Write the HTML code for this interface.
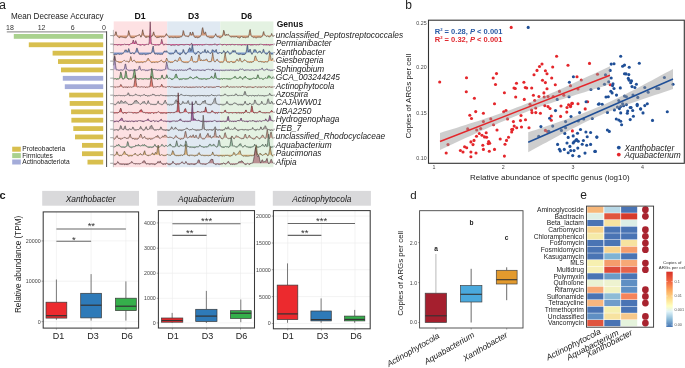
<!DOCTYPE html>
<html><head><meta charset="utf-8"><style>
html,body{margin:0;padding:0;background:#fff;overflow:hidden;width:685px;height:368px;}
svg{display:block;font-family:"Liberation Sans", sans-serif;will-change:transform;}
</style></head><body>
<svg width="685" height="368" viewBox="0 0 685 368">
<rect width="685" height="368" fill="#fff"/>
<text x="-0.90" y="8.90" font-size="12.5" text-anchor="start" font-weight="normal" font-style="normal" fill="#222" >a</text>
<text x="11.00" y="19.10" font-size="8.15" text-anchor="start" font-weight="normal" font-style="normal" fill="#222" >Mean Decrease Accuracy</text>
<line x1="6.80" y1="31.90" x2="106.60" y2="31.90" stroke="#999" stroke-width="1.2" />
<line x1="106.60" y1="31.30" x2="106.60" y2="167.00" stroke="#333" stroke-width="0.9" />
<text x="10.00" y="30.30" font-size="7" text-anchor="middle" font-weight="normal" font-style="normal" fill="#333" >18</text>
<text x="41.60" y="30.30" font-size="7" text-anchor="middle" font-weight="normal" font-style="normal" fill="#333" >12</text>
<text x="72.60" y="30.30" font-size="7" text-anchor="middle" font-weight="normal" font-style="normal" fill="#333" >6</text>
<text x="104.00" y="30.30" font-size="7" text-anchor="middle" font-weight="normal" font-style="normal" fill="#333" >0</text>
<rect x="13.80" y="34.00" width="89.40" height="4.80" fill="#a9d18e" stroke="none" stroke-width="0" />
<rect x="28.80" y="42.38" width="74.40" height="4.80" fill="#d8bf4e" stroke="none" stroke-width="0" />
<rect x="52.60" y="50.76" width="50.60" height="4.80" fill="#d8bf4e" stroke="none" stroke-width="0" />
<rect x="58.00" y="59.14" width="45.20" height="4.80" fill="#d8bf4e" stroke="none" stroke-width="0" />
<rect x="61.00" y="67.52" width="42.20" height="4.80" fill="#d8bf4e" stroke="none" stroke-width="0" />
<rect x="62.80" y="75.90" width="40.40" height="4.80" fill="#a4acd9" stroke="none" stroke-width="0" />
<rect x="64.80" y="84.28" width="38.40" height="4.80" fill="#a4acd9" stroke="none" stroke-width="0" />
<rect x="69.20" y="92.66" width="34.00" height="4.80" fill="#d8bf4e" stroke="none" stroke-width="0" />
<rect x="69.70" y="101.04" width="33.50" height="4.80" fill="#d8bf4e" stroke="none" stroke-width="0" />
<rect x="71.10" y="109.42" width="32.10" height="4.80" fill="#d8bf4e" stroke="none" stroke-width="0" />
<rect x="71.40" y="117.80" width="31.80" height="4.80" fill="#d8bf4e" stroke="none" stroke-width="0" />
<rect x="73.30" y="126.18" width="29.90" height="4.80" fill="#d8bf4e" stroke="none" stroke-width="0" />
<rect x="75.00" y="134.56" width="28.20" height="4.80" fill="#d8bf4e" stroke="none" stroke-width="0" />
<rect x="82.00" y="142.94" width="21.20" height="4.80" fill="#d8bf4e" stroke="none" stroke-width="0" />
<rect x="82.00" y="151.32" width="21.20" height="4.80" fill="#d8bf4e" stroke="none" stroke-width="0" />
<rect x="87.50" y="159.70" width="15.70" height="4.80" fill="#d8bf4e" stroke="none" stroke-width="0" />
<rect x="12.20" y="146.70" width="8.60" height="5.00" fill="#d8bf4e" stroke="none" stroke-width="0" />
<text x="22.30" y="151.40" font-size="6.6" text-anchor="start" font-weight="normal" font-style="normal" fill="#222" >Proteobacteria</text>
<rect x="12.20" y="153.10" width="8.60" height="5.00" fill="#a9d18e" stroke="none" stroke-width="0" />
<text x="22.30" y="157.80" font-size="6.6" text-anchor="start" font-weight="normal" font-style="normal" fill="#222" >Firmicutes</text>
<rect x="12.20" y="159.50" width="8.60" height="5.00" fill="#a4acd9" stroke="none" stroke-width="0" />
<text x="22.30" y="164.20" font-size="6.6" text-anchor="start" font-weight="normal" font-style="normal" fill="#222" >Actinobacteriota</text>
<rect x="113.70" y="21.40" width="53.50" height="145.80" fill="#fde1e3" stroke="none" stroke-width="0" />
<rect x="167.20" y="21.40" width="53.10" height="145.80" fill="#e0e9f2" stroke="none" stroke-width="0" />
<rect x="220.30" y="21.40" width="53.10" height="145.80" fill="#e4f2e2" stroke="none" stroke-width="0" />
<text x="140.15" y="19.00" font-size="8.7" text-anchor="middle" font-weight="bold" font-style="normal" fill="#111" >D1</text>
<text x="193.45" y="19.00" font-size="8.7" text-anchor="middle" font-weight="bold" font-style="normal" fill="#111" >D3</text>
<text x="246.55" y="19.00" font-size="8.7" text-anchor="middle" font-weight="bold" font-style="normal" fill="#111" >D6</text>
<text x="276.70" y="27.40" font-size="8.5" text-anchor="start" font-weight="bold" font-style="normal" fill="#111" >Genus</text>
<text x="275.80" y="37.80" font-size="8.3" text-anchor="start" font-weight="normal" font-style="italic" fill="#222" >unclassified_Peptostreptococcales</text>
<text x="275.80" y="46.25" font-size="8.3" text-anchor="start" font-weight="normal" font-style="italic" fill="#222" >Permianibacter</text>
<text x="275.80" y="54.70" font-size="8.3" text-anchor="start" font-weight="normal" font-style="italic" fill="#222" >Xanthobacter</text>
<text x="275.80" y="63.15" font-size="8.3" text-anchor="start" font-weight="normal" font-style="italic" fill="#222" >Giesbergeria</text>
<text x="275.80" y="71.60" font-size="8.3" text-anchor="start" font-weight="normal" font-style="italic" fill="#222" >Sphingobium</text>
<text x="275.80" y="80.05" font-size="8.3" text-anchor="start" font-weight="normal" font-style="italic" fill="#222" >GCA_003244245</text>
<text x="275.80" y="88.50" font-size="8.3" text-anchor="start" font-weight="normal" font-style="italic" fill="#222" >Actinophytocola</text>
<text x="275.80" y="96.95" font-size="8.3" text-anchor="start" font-weight="normal" font-style="italic" fill="#222" >Azospira</text>
<text x="275.80" y="105.40" font-size="8.3" text-anchor="start" font-weight="normal" font-style="italic" fill="#222" >CAJAWW01</text>
<text x="275.80" y="113.85" font-size="8.3" text-anchor="start" font-weight="normal" font-style="italic" fill="#222" >UBA2250</text>
<text x="275.80" y="122.30" font-size="8.3" text-anchor="start" font-weight="normal" font-style="italic" fill="#222" >Hydrogenophaga</text>
<text x="275.80" y="130.75" font-size="8.3" text-anchor="start" font-weight="normal" font-style="italic" fill="#222" >FEB_7</text>
<text x="275.80" y="139.20" font-size="8.3" text-anchor="start" font-weight="normal" font-style="italic" fill="#222" >unclassified_Rhodocyclaceae</text>
<text x="275.80" y="147.65" font-size="8.3" text-anchor="start" font-weight="normal" font-style="italic" fill="#222" >Aquabacterium</text>
<text x="275.80" y="156.10" font-size="8.3" text-anchor="start" font-weight="normal" font-style="italic" fill="#222" >Paucimonas</text>
<text x="275.80" y="164.55" font-size="8.3" text-anchor="start" font-weight="normal" font-style="italic" fill="#222" >Afipia</text>
<line x1="113.40" y1="29.90" x2="113.40" y2="167.20" stroke="#999" stroke-width="0.6" />
<line x1="110.20" y1="35.60" x2="113.50" y2="35.60" stroke="#666" stroke-width="0.6" />
<line x1="273.40" y1="35.60" x2="275.00" y2="35.60" stroke="#666" stroke-width="0.6" />
<polygon points="113.7,35.6 113.7,36.3 114.2,35.5 114.7,35.2 115.2,33.9 115.7,31.8 116.2,31.8 116.7,34.5 117.2,36.0 117.7,36.4 118.2,36.9 118.7,37.4 119.2,37.9 119.7,37.8 120.2,36.9 120.7,36.9 121.2,37.3 121.7,36.9 122.2,37.2 122.7,37.2 123.2,37.3 123.7,37.8 124.2,37.3 124.7,37.8 125.2,38.2 125.7,37.5 126.2,37.7 126.7,37.2 127.2,36.5 127.7,35.7 128.2,33.3 128.7,30.6 129.2,32.6 129.7,34.3 130.2,36.9 130.7,37.5 131.2,37.1 131.7,38.0 132.2,37.9 132.7,38.0 133.2,37.4 133.7,37.9 134.2,37.8 134.7,37.3 135.2,36.7 135.7,36.4 136.2,36.6 136.7,36.2 137.2,35.5 137.7,36.1 138.2,35.3 138.7,35.1 139.2,34.4 139.7,34.8 140.2,35.5 140.7,37.1 141.2,37.1 141.7,35.1 142.2,32.1 142.7,29.7 143.2,32.3 143.7,34.1 144.2,36.0 144.7,36.1 145.2,37.1 145.7,37.2 146.2,37.8 146.7,36.7 147.2,36.7 147.7,37.3 148.2,36.6 148.7,36.9 149.2,37.1 149.7,37.8 150.2,37.5 150.7,37.5 151.2,36.6 151.7,36.3 152.2,36.2 152.7,35.0 153.2,32.9 153.7,31.8 154.2,33.9 154.7,35.2 155.2,36.7 155.7,36.8 156.2,37.2 156.7,37.7 157.2,37.5 157.7,37.7 158.2,36.9 158.7,37.6 159.2,36.8 159.7,37.2 160.2,37.2 160.7,36.5 161.2,37.0 161.7,37.4 162.2,36.6 162.7,37.0 163.2,37.1 163.7,37.1 164.2,36.8 164.7,36.6 165.2,36.3 165.7,35.1 166.2,33.7 166.7,33.9 167.2,35.3 167.7,35.9 168.2,36.3 168.7,36.8 169.2,37.8 169.7,37.5 170.2,37.7 170.7,37.0 171.2,37.2 171.7,37.2 172.2,37.7 172.7,37.5 173.2,37.8 173.7,37.5 174.2,37.4 174.7,37.1 175.2,37.8 175.7,37.0 176.2,37.4 176.7,37.8 177.2,37.7 177.7,37.3 178.2,37.9 178.7,37.3 179.2,37.5 179.7,37.3 180.2,37.2 180.7,36.9 181.2,37.0 181.7,36.8 182.2,36.1 182.7,33.6 183.2,30.5 183.7,31.4 184.2,33.6 184.7,35.3 185.2,36.3 185.7,36.1 186.2,36.3 186.7,36.2 187.2,36.3 187.7,36.7 188.2,36.8 188.7,36.7 189.2,35.5 189.7,34.6 190.2,32.1 190.7,32.9 191.2,34.8 191.7,35.1 192.2,33.8 192.7,31.9 193.2,33.0 193.7,34.8 194.2,36.8 194.7,37.3 195.2,37.3 195.7,37.9 196.2,37.2 196.7,36.9 197.2,37.8 197.7,37.8 198.2,37.4 198.7,37.6 199.2,37.5 199.7,36.7 200.2,36.7 200.7,35.6 201.2,34.9 201.7,32.1 202.2,28.8 202.7,27.6 203.2,29.7 203.7,33.0 204.2,33.7 204.7,33.4 205.2,31.8 205.7,32.5 206.2,34.4 206.7,36.3 207.2,36.8 207.7,36.9 208.2,37.1 208.7,37.0 209.2,37.4 209.7,37.8 210.2,37.6 210.7,37.7 211.2,38.2 211.7,37.3 212.2,37.5 212.7,37.9 213.2,37.7 213.7,37.3 214.2,36.8 214.7,35.6 215.2,35.1 215.7,33.7 216.2,35.1 216.7,36.1 217.2,37.0 217.7,36.9 218.2,36.9 218.7,37.1 219.2,37.4 219.7,37.6 220.2,38.2 220.7,37.6 221.2,37.0 221.7,37.0 222.2,36.5 222.7,35.0 223.2,33.1 223.7,30.2 224.2,31.2 224.7,33.9 225.2,35.4 225.7,35.6 226.2,34.2 226.7,34.8 227.2,35.2 227.7,34.5 228.2,34.2 228.7,34.6 229.2,35.5 229.7,36.3 230.2,36.6 230.7,36.8 231.2,37.2 231.7,37.1 232.2,36.5 232.7,37.0 233.2,37.2 233.7,36.6 234.2,37.3 234.7,36.7 235.2,37.1 235.7,36.9 236.2,36.4 236.7,36.5 237.2,37.4 237.7,37.3 238.2,37.7 238.7,37.4 239.2,37.8 239.7,38.1 240.2,37.8 240.7,36.9 241.2,36.7 241.7,36.0 242.2,36.7 242.7,37.4 243.2,37.9 243.7,37.3 244.2,37.2 244.7,37.5 245.2,37.7 245.7,37.7 246.2,37.5 246.7,37.2 247.2,37.1 247.7,37.2 248.2,37.5 248.7,35.8 249.2,33.5 249.7,30.3 250.2,29.4 250.7,32.8 251.2,35.4 251.7,36.6 252.2,36.6 252.7,37.0 253.2,37.2 253.7,37.7 254.2,37.3 254.7,37.3 255.2,37.6 255.7,37.8 256.2,38.0 256.7,37.7 257.2,37.4 257.7,37.3 258.2,37.5 258.7,37.1 259.2,37.4 259.7,37.1 260.2,37.3 260.7,37.4 261.2,37.2 261.7,36.9 262.2,36.4 262.7,35.1 263.2,32.6 263.7,31.5 264.2,33.6 264.7,34.5 265.2,35.4 265.7,36.0 266.2,36.4 266.7,36.6 267.2,36.1 267.7,36.0 268.2,36.2 268.7,36.9 269.2,36.8 269.7,36.9 270.2,36.5 270.7,36.2 271.2,35.1 271.7,33.4 272.2,34.9 272.7,35.5 273.2,37.0 273.4,35.6" fill="#cf8a62" fill-opacity="0.82"/>
<polyline points="113.7,36.3 114.2,35.5 114.7,35.2 115.2,33.9 115.7,31.8 116.2,31.8 116.7,34.5 117.2,36.0 117.7,36.4 118.2,36.9 118.7,37.4 119.2,37.9 119.7,37.8 120.2,36.9 120.7,36.9 121.2,37.3 121.7,36.9 122.2,37.2 122.7,37.2 123.2,37.3 123.7,37.8 124.2,37.3 124.7,37.8 125.2,38.2 125.7,37.5 126.2,37.7 126.7,37.2 127.2,36.5 127.7,35.7 128.2,33.3 128.7,30.6 129.2,32.6 129.7,34.3 130.2,36.9 130.7,37.5 131.2,37.1 131.7,38.0 132.2,37.9 132.7,38.0 133.2,37.4 133.7,37.9 134.2,37.8 134.7,37.3 135.2,36.7 135.7,36.4 136.2,36.6 136.7,36.2 137.2,35.5 137.7,36.1 138.2,35.3 138.7,35.1 139.2,34.4 139.7,34.8 140.2,35.5 140.7,37.1 141.2,37.1 141.7,35.1 142.2,32.1 142.7,29.7 143.2,32.3 143.7,34.1 144.2,36.0 144.7,36.1 145.2,37.1 145.7,37.2 146.2,37.8 146.7,36.7 147.2,36.7 147.7,37.3 148.2,36.6 148.7,36.9 149.2,37.1 149.7,37.8 150.2,37.5 150.7,37.5 151.2,36.6 151.7,36.3 152.2,36.2 152.7,35.0 153.2,32.9 153.7,31.8 154.2,33.9 154.7,35.2 155.2,36.7 155.7,36.8 156.2,37.2 156.7,37.7 157.2,37.5 157.7,37.7 158.2,36.9 158.7,37.6 159.2,36.8 159.7,37.2 160.2,37.2 160.7,36.5 161.2,37.0 161.7,37.4 162.2,36.6 162.7,37.0 163.2,37.1 163.7,37.1 164.2,36.8 164.7,36.6 165.2,36.3 165.7,35.1 166.2,33.7 166.7,33.9 167.2,35.3 167.7,35.9 168.2,36.3 168.7,36.8 169.2,37.8 169.7,37.5 170.2,37.7 170.7,37.0 171.2,37.2 171.7,37.2 172.2,37.7 172.7,37.5 173.2,37.8 173.7,37.5 174.2,37.4 174.7,37.1 175.2,37.8 175.7,37.0 176.2,37.4 176.7,37.8 177.2,37.7 177.7,37.3 178.2,37.9 178.7,37.3 179.2,37.5 179.7,37.3 180.2,37.2 180.7,36.9 181.2,37.0 181.7,36.8 182.2,36.1 182.7,33.6 183.2,30.5 183.7,31.4 184.2,33.6 184.7,35.3 185.2,36.3 185.7,36.1 186.2,36.3 186.7,36.2 187.2,36.3 187.7,36.7 188.2,36.8 188.7,36.7 189.2,35.5 189.7,34.6 190.2,32.1 190.7,32.9 191.2,34.8 191.7,35.1 192.2,33.8 192.7,31.9 193.2,33.0 193.7,34.8 194.2,36.8 194.7,37.3 195.2,37.3 195.7,37.9 196.2,37.2 196.7,36.9 197.2,37.8 197.7,37.8 198.2,37.4 198.7,37.6 199.2,37.5 199.7,36.7 200.2,36.7 200.7,35.6 201.2,34.9 201.7,32.1 202.2,28.8 202.7,27.6 203.2,29.7 203.7,33.0 204.2,33.7 204.7,33.4 205.2,31.8 205.7,32.5 206.2,34.4 206.7,36.3 207.2,36.8 207.7,36.9 208.2,37.1 208.7,37.0 209.2,37.4 209.7,37.8 210.2,37.6 210.7,37.7 211.2,38.2 211.7,37.3 212.2,37.5 212.7,37.9 213.2,37.7 213.7,37.3 214.2,36.8 214.7,35.6 215.2,35.1 215.7,33.7 216.2,35.1 216.7,36.1 217.2,37.0 217.7,36.9 218.2,36.9 218.7,37.1 219.2,37.4 219.7,37.6 220.2,38.2 220.7,37.6 221.2,37.0 221.7,37.0 222.2,36.5 222.7,35.0 223.2,33.1 223.7,30.2 224.2,31.2 224.7,33.9 225.2,35.4 225.7,35.6 226.2,34.2 226.7,34.8 227.2,35.2 227.7,34.5 228.2,34.2 228.7,34.6 229.2,35.5 229.7,36.3 230.2,36.6 230.7,36.8 231.2,37.2 231.7,37.1 232.2,36.5 232.7,37.0 233.2,37.2 233.7,36.6 234.2,37.3 234.7,36.7 235.2,37.1 235.7,36.9 236.2,36.4 236.7,36.5 237.2,37.4 237.7,37.3 238.2,37.7 238.7,37.4 239.2,37.8 239.7,38.1 240.2,37.8 240.7,36.9 241.2,36.7 241.7,36.0 242.2,36.7 242.7,37.4 243.2,37.9 243.7,37.3 244.2,37.2 244.7,37.5 245.2,37.7 245.7,37.7 246.2,37.5 246.7,37.2 247.2,37.1 247.7,37.2 248.2,37.5 248.7,35.8 249.2,33.5 249.7,30.3 250.2,29.4 250.7,32.8 251.2,35.4 251.7,36.6 252.2,36.6 252.7,37.0 253.2,37.2 253.7,37.7 254.2,37.3 254.7,37.3 255.2,37.6 255.7,37.8 256.2,38.0 256.7,37.7 257.2,37.4 257.7,37.3 258.2,37.5 258.7,37.1 259.2,37.4 259.7,37.1 260.2,37.3 260.7,37.4 261.2,37.2 261.7,36.9 262.2,36.4 262.7,35.1 263.2,32.6 263.7,31.5 264.2,33.6 264.7,34.5 265.2,35.4 265.7,36.0 266.2,36.4 266.7,36.6 267.2,36.1 267.7,36.0 268.2,36.2 268.7,36.9 269.2,36.8 269.7,36.9 270.2,36.5 270.7,36.2 271.2,35.1 271.7,33.4 272.2,34.9 272.7,35.5 273.2,37.0" fill="none" stroke="#4a3328" stroke-width="0.6" stroke-opacity="0.95" stroke-linejoin="round"/>
<line x1="110.20" y1="44.11" x2="113.50" y2="44.11" stroke="#666" stroke-width="0.6" />
<line x1="273.40" y1="44.11" x2="275.00" y2="44.11" stroke="#666" stroke-width="0.6" />
<polygon points="113.7,44.1 113.7,45.2 114.2,44.4 114.7,44.8 115.2,44.8 115.7,44.6 116.2,44.9 116.7,44.6 117.2,45.1 117.7,45.3 118.2,44.5 118.7,44.9 119.2,44.5 119.7,44.9 120.2,45.0 120.7,45.3 121.2,45.2 121.7,44.8 122.2,45.1 122.7,44.5 123.2,45.0 123.7,44.6 124.2,44.3 124.7,44.1 125.2,44.2 125.7,45.1 126.2,44.5 126.7,44.5 127.2,44.4 127.7,44.5 128.2,45.1 128.7,44.9 129.2,44.9 129.7,44.9 130.2,44.2 130.7,43.5 131.2,43.3 131.7,43.6 132.2,43.2 132.7,42.0 133.2,40.0 133.7,41.0 134.2,43.1 134.7,43.8 135.2,41.9 135.7,40.6 136.2,41.7 136.7,43.2 137.2,44.5 137.7,44.4 138.2,44.4 138.7,44.4 139.2,44.9 139.7,45.1 140.2,45.4 140.7,45.0 141.2,45.3 141.7,44.8 142.2,44.5 142.7,44.5 143.2,44.7 143.7,45.0 144.2,45.5 144.7,44.8 145.2,44.6 145.7,44.9 146.2,44.5 146.7,44.4 147.2,43.9 147.7,44.5 148.2,44.6 148.7,44.6 149.2,41.8 149.7,32.7 150.2,21.8 150.7,32.6 151.2,41.7 151.7,44.4 152.2,44.3 152.7,44.3 153.2,44.4 153.7,44.6 154.2,45.1 154.7,45.1 155.2,45.1 155.7,45.2 156.2,44.8 156.7,45.3 157.2,44.8 157.7,45.1 158.2,44.6 158.7,45.4 159.2,44.5 159.7,44.8 160.2,44.6 160.7,43.5 161.2,41.7 161.7,39.2 162.2,40.9 162.7,43.1 163.2,44.5 163.7,45.2 164.2,45.1 164.7,44.3 165.2,44.6 165.7,43.8 166.2,44.4 166.7,44.3 167.2,44.9 167.7,44.3 168.2,45.1 168.7,44.4 169.2,44.5 169.7,44.6 170.2,44.7 170.7,45.4 171.2,45.3 171.7,45.4 172.2,44.8 172.7,45.2 173.2,45.2 173.7,45.1 174.2,44.7 174.7,45.5 175.2,45.2 175.7,45.0 176.2,44.5 176.7,44.8 177.2,45.2 177.7,45.1 178.2,45.1 178.7,45.4 179.2,44.9 179.7,45.2 180.2,44.4 180.7,44.8 181.2,44.9 181.7,44.3 182.2,45.0 182.7,44.7 183.2,45.0 183.7,45.1 184.2,44.6 184.7,45.3 185.2,44.6 185.7,44.5 186.2,44.7 186.7,44.3 187.2,44.3 187.7,45.0 188.2,44.4 188.7,44.9 189.2,45.3 189.7,45.0 190.2,45.2 190.7,44.6 191.2,43.5 191.7,43.2 192.2,44.6 192.7,45.1 193.2,45.2 193.7,45.0 194.2,44.8 194.7,45.2 195.2,45.0 195.7,45.0 196.2,45.1 196.7,44.5 197.2,45.2 197.7,45.2 198.2,44.6 198.7,44.8 199.2,45.2 199.7,44.9 200.2,44.9 200.7,44.6 201.2,44.8 201.7,45.1 202.2,45.3 202.7,45.0 203.2,45.2 203.7,44.6 204.2,44.7 204.7,44.8 205.2,44.8 205.7,44.1 206.2,44.1 206.7,44.5 207.2,44.5 207.7,44.5 208.2,44.6 208.7,44.8 209.2,45.2 209.7,44.6 210.2,45.2 210.7,44.5 211.2,44.7 211.7,45.1 212.2,44.6 212.7,44.8 213.2,44.5 213.7,44.5 214.2,44.9 214.7,43.8 215.2,43.8 215.7,44.6 216.2,44.5 216.7,45.3 217.2,44.8 217.7,45.2 218.2,44.9 218.7,44.4 219.2,44.6 219.7,44.0 220.2,43.8 220.7,44.5 221.2,44.6 221.7,44.8 222.2,45.2 222.7,45.1 223.2,44.3 223.7,44.9 224.2,44.7 224.7,44.2 225.2,44.4 225.7,44.8 226.2,45.2 226.7,45.2 227.2,44.6 227.7,44.7 228.2,45.1 228.7,44.5 229.2,44.4 229.7,44.7 230.2,44.9 230.7,45.0 231.2,45.0 231.7,44.3 232.2,44.4 232.7,44.4 233.2,44.8 233.7,44.6 234.2,45.1 234.7,44.9 235.2,44.8 235.7,44.7 236.2,44.1 236.7,44.6 237.2,44.8 237.7,44.9 238.2,45.1 238.7,44.7 239.2,44.6 239.7,44.8 240.2,45.2 240.7,44.7 241.2,45.3 241.7,45.3 242.2,45.1 242.7,44.8 243.2,44.6 243.7,45.2 244.2,44.7 244.7,44.9 245.2,45.1 245.7,45.0 246.2,44.6 246.7,45.1 247.2,44.6 247.7,44.8 248.2,44.8 248.7,45.0 249.2,44.4 249.7,45.0 250.2,44.9 250.7,45.2 251.2,44.9 251.7,45.0 252.2,45.4 252.7,44.5 253.2,45.1 253.7,44.8 254.2,44.6 254.7,44.6 255.2,44.6 255.7,45.2 256.2,44.6 256.7,45.2 257.2,44.8 257.7,44.6 258.2,45.0 258.7,44.8 259.2,45.0 259.7,44.2 260.2,44.6 260.7,43.9 261.2,44.1 261.7,44.5 262.2,44.5 262.7,44.6 263.2,44.9 263.7,45.1 264.2,44.8 264.7,44.9 265.2,45.2 265.7,44.7 266.2,45.3 266.7,44.4 267.2,44.7 267.7,45.2 268.2,44.8 268.7,44.9 269.2,44.8 269.7,45.5 270.2,45.4 270.7,44.6 271.2,45.0 271.7,44.6 272.2,44.5 272.7,44.7 273.2,45.2 273.4,44.1" fill="#e2589a" fill-opacity="0.82"/>
<polyline points="113.7,45.2 114.2,44.4 114.7,44.8 115.2,44.8 115.7,44.6 116.2,44.9 116.7,44.6 117.2,45.1 117.7,45.3 118.2,44.5 118.7,44.9 119.2,44.5 119.7,44.9 120.2,45.0 120.7,45.3 121.2,45.2 121.7,44.8 122.2,45.1 122.7,44.5 123.2,45.0 123.7,44.6 124.2,44.3 124.7,44.1 125.2,44.2 125.7,45.1 126.2,44.5 126.7,44.5 127.2,44.4 127.7,44.5 128.2,45.1 128.7,44.9 129.2,44.9 129.7,44.9 130.2,44.2 130.7,43.5 131.2,43.3 131.7,43.6 132.2,43.2 132.7,42.0 133.2,40.0 133.7,41.0 134.2,43.1 134.7,43.8 135.2,41.9 135.7,40.6 136.2,41.7 136.7,43.2 137.2,44.5 137.7,44.4 138.2,44.4 138.7,44.4 139.2,44.9 139.7,45.1 140.2,45.4 140.7,45.0 141.2,45.3 141.7,44.8 142.2,44.5 142.7,44.5 143.2,44.7 143.7,45.0 144.2,45.5 144.7,44.8 145.2,44.6 145.7,44.9 146.2,44.5 146.7,44.4 147.2,43.9 147.7,44.5 148.2,44.6 148.7,44.6 149.2,41.8 149.7,32.7 150.2,21.8 150.7,32.6 151.2,41.7 151.7,44.4 152.2,44.3 152.7,44.3 153.2,44.4 153.7,44.6 154.2,45.1 154.7,45.1 155.2,45.1 155.7,45.2 156.2,44.8 156.7,45.3 157.2,44.8 157.7,45.1 158.2,44.6 158.7,45.4 159.2,44.5 159.7,44.8 160.2,44.6 160.7,43.5 161.2,41.7 161.7,39.2 162.2,40.9 162.7,43.1 163.2,44.5 163.7,45.2 164.2,45.1 164.7,44.3 165.2,44.6 165.7,43.8 166.2,44.4 166.7,44.3 167.2,44.9 167.7,44.3 168.2,45.1 168.7,44.4 169.2,44.5 169.7,44.6 170.2,44.7 170.7,45.4 171.2,45.3 171.7,45.4 172.2,44.8 172.7,45.2 173.2,45.2 173.7,45.1 174.2,44.7 174.7,45.5 175.2,45.2 175.7,45.0 176.2,44.5 176.7,44.8 177.2,45.2 177.7,45.1 178.2,45.1 178.7,45.4 179.2,44.9 179.7,45.2 180.2,44.4 180.7,44.8 181.2,44.9 181.7,44.3 182.2,45.0 182.7,44.7 183.2,45.0 183.7,45.1 184.2,44.6 184.7,45.3 185.2,44.6 185.7,44.5 186.2,44.7 186.7,44.3 187.2,44.3 187.7,45.0 188.2,44.4 188.7,44.9 189.2,45.3 189.7,45.0 190.2,45.2 190.7,44.6 191.2,43.5 191.7,43.2 192.2,44.6 192.7,45.1 193.2,45.2 193.7,45.0 194.2,44.8 194.7,45.2 195.2,45.0 195.7,45.0 196.2,45.1 196.7,44.5 197.2,45.2 197.7,45.2 198.2,44.6 198.7,44.8 199.2,45.2 199.7,44.9 200.2,44.9 200.7,44.6 201.2,44.8 201.7,45.1 202.2,45.3 202.7,45.0 203.2,45.2 203.7,44.6 204.2,44.7 204.7,44.8 205.2,44.8 205.7,44.1 206.2,44.1 206.7,44.5 207.2,44.5 207.7,44.5 208.2,44.6 208.7,44.8 209.2,45.2 209.7,44.6 210.2,45.2 210.7,44.5 211.2,44.7 211.7,45.1 212.2,44.6 212.7,44.8 213.2,44.5 213.7,44.5 214.2,44.9 214.7,43.8 215.2,43.8 215.7,44.6 216.2,44.5 216.7,45.3 217.2,44.8 217.7,45.2 218.2,44.9 218.7,44.4 219.2,44.6 219.7,44.0 220.2,43.8 220.7,44.5 221.2,44.6 221.7,44.8 222.2,45.2 222.7,45.1 223.2,44.3 223.7,44.9 224.2,44.7 224.7,44.2 225.2,44.4 225.7,44.8 226.2,45.2 226.7,45.2 227.2,44.6 227.7,44.7 228.2,45.1 228.7,44.5 229.2,44.4 229.7,44.7 230.2,44.9 230.7,45.0 231.2,45.0 231.7,44.3 232.2,44.4 232.7,44.4 233.2,44.8 233.7,44.6 234.2,45.1 234.7,44.9 235.2,44.8 235.7,44.7 236.2,44.1 236.7,44.6 237.2,44.8 237.7,44.9 238.2,45.1 238.7,44.7 239.2,44.6 239.7,44.8 240.2,45.2 240.7,44.7 241.2,45.3 241.7,45.3 242.2,45.1 242.7,44.8 243.2,44.6 243.7,45.2 244.2,44.7 244.7,44.9 245.2,45.1 245.7,45.0 246.2,44.6 246.7,45.1 247.2,44.6 247.7,44.8 248.2,44.8 248.7,45.0 249.2,44.4 249.7,45.0 250.2,44.9 250.7,45.2 251.2,44.9 251.7,45.0 252.2,45.4 252.7,44.5 253.2,45.1 253.7,44.8 254.2,44.6 254.7,44.6 255.2,44.6 255.7,45.2 256.2,44.6 256.7,45.2 257.2,44.8 257.7,44.6 258.2,45.0 258.7,44.8 259.2,45.0 259.7,44.2 260.2,44.6 260.7,43.9 261.2,44.1 261.7,44.5 262.2,44.5 262.7,44.6 263.2,44.9 263.7,45.1 264.2,44.8 264.7,44.9 265.2,45.2 265.7,44.7 266.2,45.3 266.7,44.4 267.2,44.7 267.7,45.2 268.2,44.8 268.7,44.9 269.2,44.8 269.7,45.5 270.2,45.4 270.7,44.6 271.2,45.0 271.7,44.6 272.2,44.5 272.7,44.7 273.2,45.2" fill="none" stroke="#5a2a40" stroke-width="0.6" stroke-opacity="0.95" stroke-linejoin="round"/>
<line x1="110.20" y1="52.62" x2="113.50" y2="52.62" stroke="#666" stroke-width="0.6" />
<line x1="273.40" y1="52.62" x2="275.00" y2="52.62" stroke="#666" stroke-width="0.6" />
<polygon points="113.7,52.6 113.7,54.1 114.2,54.8 114.7,54.8 115.2,54.8 115.7,54.1 116.2,54.4 116.7,54.6 117.2,54.1 117.7,54.0 118.2,54.1 118.7,54.1 119.2,54.4 119.7,54.4 120.2,54.3 120.7,54.1 121.2,54.3 121.7,54.2 122.2,53.8 122.7,54.0 123.2,53.4 123.7,52.4 124.2,51.9 124.7,50.7 125.2,49.8 125.7,50.4 126.2,49.8 126.7,50.4 127.2,51.8 127.7,52.0 128.2,50.3 128.7,48.5 129.2,49.7 129.7,51.5 130.2,53.4 130.7,53.9 131.2,53.3 131.7,53.8 132.2,52.7 132.7,52.8 133.2,53.1 133.7,53.9 134.2,53.9 134.7,53.7 135.2,52.6 135.7,51.4 136.2,50.1 136.7,48.2 137.2,48.2 137.7,49.9 138.2,51.4 138.7,53.1 139.2,54.3 139.7,54.0 140.2,54.6 140.7,54.1 141.2,54.1 141.7,54.6 142.2,54.3 142.7,54.4 143.2,54.5 143.7,53.8 144.2,54.2 144.7,54.1 145.2,54.7 145.7,54.8 146.2,54.6 146.7,54.3 147.2,53.9 147.7,54.3 148.2,54.2 148.7,53.9 149.2,53.6 149.7,53.7 150.2,54.0 150.7,53.4 151.2,53.2 151.7,52.2 152.2,50.0 152.7,47.5 153.2,46.0 153.7,49.5 154.2,51.9 154.7,54.0 155.2,53.8 155.7,54.2 156.2,54.3 156.7,53.6 157.2,53.9 157.7,54.6 158.2,54.1 158.7,54.1 159.2,53.9 159.7,54.5 160.2,54.0 160.7,54.6 161.2,54.5 161.7,54.1 162.2,54.6 162.7,54.2 163.2,53.1 163.7,52.0 164.2,51.0 164.7,51.1 165.2,51.1 165.7,51.4 166.2,51.8 166.7,50.7 167.2,51.5 167.7,52.3 168.2,52.8 168.7,53.1 169.2,53.9 169.7,54.0 170.2,54.0 170.7,54.1 171.2,53.8 171.7,54.1 172.2,53.8 172.7,53.6 173.2,54.2 173.7,53.3 174.2,53.1 174.7,52.0 175.2,50.4 175.7,49.8 176.2,50.0 176.7,51.1 177.2,52.2 177.7,53.5 178.2,53.7 178.7,53.7 179.2,54.3 179.7,54.7 180.2,55.0 180.7,53.8 181.2,53.9 181.7,53.3 182.2,53.3 182.7,51.4 183.2,49.4 183.7,50.0 184.2,51.9 184.7,53.1 185.2,54.2 185.7,54.0 186.2,54.2 186.7,53.3 187.2,52.9 187.7,52.2 188.2,50.8 188.7,49.2 189.2,49.1 189.7,47.7 190.2,48.1 190.7,51.0 191.2,50.8 191.7,48.5 192.2,44.5 192.7,46.6 193.2,49.6 193.7,51.9 194.2,53.3 194.7,53.8 195.2,54.4 195.7,54.2 196.2,53.7 196.7,53.9 197.2,52.6 197.7,51.7 198.2,51.0 198.7,51.5 199.2,52.5 199.7,52.6 200.2,53.8 200.7,54.0 201.2,53.5 201.7,52.9 202.2,52.0 202.7,51.7 203.2,51.7 203.7,52.3 204.2,51.5 204.7,49.7 205.2,49.4 205.7,51.8 206.2,53.1 206.7,52.9 207.2,51.5 207.7,50.5 208.2,51.0 208.7,52.5 209.2,52.7 209.7,53.2 210.2,53.2 210.7,53.7 211.2,52.9 211.7,52.0 212.2,49.6 212.7,50.0 213.2,50.5 213.7,50.3 214.2,50.7 214.7,51.6 215.2,51.3 215.7,50.3 216.2,49.4 216.7,51.6 217.2,53.2 217.7,53.5 218.2,53.7 218.7,53.1 219.2,53.1 219.7,52.4 220.2,53.1 220.7,52.6 221.2,52.8 221.7,53.9 222.2,53.2 222.7,52.4 223.2,52.1 223.7,50.5 224.2,51.3 224.7,51.8 225.2,52.5 225.7,53.7 226.2,53.0 226.7,52.1 227.2,51.3 227.7,51.1 228.2,51.5 228.7,52.7 229.2,53.6 229.7,54.3 230.2,54.2 230.7,53.7 231.2,53.6 231.7,52.8 232.2,51.3 232.7,50.6 233.2,50.3 233.7,52.0 234.2,51.2 234.7,50.6 235.2,50.5 235.7,51.9 236.2,53.3 236.7,53.7 237.2,53.6 237.7,54.2 238.2,54.2 238.7,54.5 239.2,54.6 239.7,54.2 240.2,53.9 240.7,54.2 241.2,54.5 241.7,54.0 242.2,54.6 242.7,54.7 243.2,54.1 243.7,55.0 244.2,54.4 244.7,54.5 245.2,53.9 245.7,53.8 246.2,51.5 246.7,49.3 247.2,45.0 247.7,45.8 248.2,49.8 248.7,52.0 249.2,51.1 249.7,49.6 250.2,49.0 250.7,50.9 251.2,53.0 251.7,54.2 252.2,54.3 252.7,53.1 253.2,52.5 253.7,50.7 254.2,49.4 254.7,50.4 255.2,50.1 255.7,49.7 256.2,51.1 256.7,51.9 257.2,53.0 257.7,53.3 258.2,52.6 258.7,51.6 259.2,51.6 259.7,50.9 260.2,51.1 260.7,52.1 261.2,53.2 261.7,53.6 262.2,52.9 262.7,51.5 263.2,49.4 263.7,49.4 264.2,51.3 264.7,52.6 265.2,53.5 265.7,54.0 266.2,54.4 266.7,54.0 267.2,54.2 267.7,53.1 268.2,53.0 268.7,51.9 269.2,50.8 269.7,51.5 270.2,52.4 270.7,53.1 271.2,54.4 271.7,53.9 272.2,53.9 272.7,54.3 273.2,54.5 273.4,52.6" fill="#5f82c0" fill-opacity="0.82"/>
<polyline points="113.7,54.1 114.2,54.8 114.7,54.8 115.2,54.8 115.7,54.1 116.2,54.4 116.7,54.6 117.2,54.1 117.7,54.0 118.2,54.1 118.7,54.1 119.2,54.4 119.7,54.4 120.2,54.3 120.7,54.1 121.2,54.3 121.7,54.2 122.2,53.8 122.7,54.0 123.2,53.4 123.7,52.4 124.2,51.9 124.7,50.7 125.2,49.8 125.7,50.4 126.2,49.8 126.7,50.4 127.2,51.8 127.7,52.0 128.2,50.3 128.7,48.5 129.2,49.7 129.7,51.5 130.2,53.4 130.7,53.9 131.2,53.3 131.7,53.8 132.2,52.7 132.7,52.8 133.2,53.1 133.7,53.9 134.2,53.9 134.7,53.7 135.2,52.6 135.7,51.4 136.2,50.1 136.7,48.2 137.2,48.2 137.7,49.9 138.2,51.4 138.7,53.1 139.2,54.3 139.7,54.0 140.2,54.6 140.7,54.1 141.2,54.1 141.7,54.6 142.2,54.3 142.7,54.4 143.2,54.5 143.7,53.8 144.2,54.2 144.7,54.1 145.2,54.7 145.7,54.8 146.2,54.6 146.7,54.3 147.2,53.9 147.7,54.3 148.2,54.2 148.7,53.9 149.2,53.6 149.7,53.7 150.2,54.0 150.7,53.4 151.2,53.2 151.7,52.2 152.2,50.0 152.7,47.5 153.2,46.0 153.7,49.5 154.2,51.9 154.7,54.0 155.2,53.8 155.7,54.2 156.2,54.3 156.7,53.6 157.2,53.9 157.7,54.6 158.2,54.1 158.7,54.1 159.2,53.9 159.7,54.5 160.2,54.0 160.7,54.6 161.2,54.5 161.7,54.1 162.2,54.6 162.7,54.2 163.2,53.1 163.7,52.0 164.2,51.0 164.7,51.1 165.2,51.1 165.7,51.4 166.2,51.8 166.7,50.7 167.2,51.5 167.7,52.3 168.2,52.8 168.7,53.1 169.2,53.9 169.7,54.0 170.2,54.0 170.7,54.1 171.2,53.8 171.7,54.1 172.2,53.8 172.7,53.6 173.2,54.2 173.7,53.3 174.2,53.1 174.7,52.0 175.2,50.4 175.7,49.8 176.2,50.0 176.7,51.1 177.2,52.2 177.7,53.5 178.2,53.7 178.7,53.7 179.2,54.3 179.7,54.7 180.2,55.0 180.7,53.8 181.2,53.9 181.7,53.3 182.2,53.3 182.7,51.4 183.2,49.4 183.7,50.0 184.2,51.9 184.7,53.1 185.2,54.2 185.7,54.0 186.2,54.2 186.7,53.3 187.2,52.9 187.7,52.2 188.2,50.8 188.7,49.2 189.2,49.1 189.7,47.7 190.2,48.1 190.7,51.0 191.2,50.8 191.7,48.5 192.2,44.5 192.7,46.6 193.2,49.6 193.7,51.9 194.2,53.3 194.7,53.8 195.2,54.4 195.7,54.2 196.2,53.7 196.7,53.9 197.2,52.6 197.7,51.7 198.2,51.0 198.7,51.5 199.2,52.5 199.7,52.6 200.2,53.8 200.7,54.0 201.2,53.5 201.7,52.9 202.2,52.0 202.7,51.7 203.2,51.7 203.7,52.3 204.2,51.5 204.7,49.7 205.2,49.4 205.7,51.8 206.2,53.1 206.7,52.9 207.2,51.5 207.7,50.5 208.2,51.0 208.7,52.5 209.2,52.7 209.7,53.2 210.2,53.2 210.7,53.7 211.2,52.9 211.7,52.0 212.2,49.6 212.7,50.0 213.2,50.5 213.7,50.3 214.2,50.7 214.7,51.6 215.2,51.3 215.7,50.3 216.2,49.4 216.7,51.6 217.2,53.2 217.7,53.5 218.2,53.7 218.7,53.1 219.2,53.1 219.7,52.4 220.2,53.1 220.7,52.6 221.2,52.8 221.7,53.9 222.2,53.2 222.7,52.4 223.2,52.1 223.7,50.5 224.2,51.3 224.7,51.8 225.2,52.5 225.7,53.7 226.2,53.0 226.7,52.1 227.2,51.3 227.7,51.1 228.2,51.5 228.7,52.7 229.2,53.6 229.7,54.3 230.2,54.2 230.7,53.7 231.2,53.6 231.7,52.8 232.2,51.3 232.7,50.6 233.2,50.3 233.7,52.0 234.2,51.2 234.7,50.6 235.2,50.5 235.7,51.9 236.2,53.3 236.7,53.7 237.2,53.6 237.7,54.2 238.2,54.2 238.7,54.5 239.2,54.6 239.7,54.2 240.2,53.9 240.7,54.2 241.2,54.5 241.7,54.0 242.2,54.6 242.7,54.7 243.2,54.1 243.7,55.0 244.2,54.4 244.7,54.5 245.2,53.9 245.7,53.8 246.2,51.5 246.7,49.3 247.2,45.0 247.7,45.8 248.2,49.8 248.7,52.0 249.2,51.1 249.7,49.6 250.2,49.0 250.7,50.9 251.2,53.0 251.7,54.2 252.2,54.3 252.7,53.1 253.2,52.5 253.7,50.7 254.2,49.4 254.7,50.4 255.2,50.1 255.7,49.7 256.2,51.1 256.7,51.9 257.2,53.0 257.7,53.3 258.2,52.6 258.7,51.6 259.2,51.6 259.7,50.9 260.2,51.1 260.7,52.1 261.2,53.2 261.7,53.6 262.2,52.9 262.7,51.5 263.2,49.4 263.7,49.4 264.2,51.3 264.7,52.6 265.2,53.5 265.7,54.0 266.2,54.4 266.7,54.0 267.2,54.2 267.7,53.1 268.2,53.0 268.7,51.9 269.2,50.8 269.7,51.5 270.2,52.4 270.7,53.1 271.2,54.4 271.7,53.9 272.2,53.9 272.7,54.3 273.2,54.5" fill="none" stroke="#2a3550" stroke-width="0.6" stroke-opacity="0.95" stroke-linejoin="round"/>
<line x1="110.20" y1="61.13" x2="113.50" y2="61.13" stroke="#666" stroke-width="0.6" />
<line x1="273.40" y1="61.13" x2="275.00" y2="61.13" stroke="#666" stroke-width="0.6" />
<polygon points="113.7,61.1 113.7,60.2 114.2,57.9 114.7,55.6 115.2,58.1 115.7,60.2 116.2,61.3 116.7,61.3 117.2,61.7 117.7,61.2 118.2,62.2 118.7,62.3 119.2,62.7 119.7,62.5 120.2,62.6 120.7,62.4 121.2,62.7 121.7,62.1 122.2,61.8 122.7,61.5 123.2,61.0 123.7,60.7 124.2,60.2 124.7,60.4 125.2,61.0 125.7,61.5 126.2,61.5 126.7,61.1 127.2,60.9 127.7,61.5 128.2,62.3 128.7,62.1 129.2,62.1 129.7,60.5 130.2,59.0 130.7,56.5 131.2,57.9 131.7,60.5 132.2,61.5 132.7,61.5 133.2,60.7 133.7,60.5 134.2,59.9 134.7,60.7 135.2,61.7 135.7,61.9 136.2,62.6 136.7,62.7 137.2,62.4 137.7,62.3 138.2,62.6 138.7,62.4 139.2,62.6 139.7,62.4 140.2,62.4 140.7,62.3 141.2,62.0 141.7,62.4 142.2,62.7 142.7,62.5 143.2,62.5 143.7,61.9 144.2,61.7 144.7,61.9 145.2,62.1 145.7,62.0 146.2,61.3 146.7,60.9 147.2,59.7 147.7,58.8 148.2,58.1 148.7,59.1 149.2,59.8 149.7,60.4 150.2,61.3 150.7,61.9 151.2,62.5 151.7,62.6 152.2,62.6 152.7,62.5 153.2,62.0 153.7,62.3 154.2,62.8 154.7,62.4 155.2,62.5 155.7,62.0 156.2,62.2 156.7,62.1 157.2,62.5 157.7,62.3 158.2,62.3 158.7,61.7 159.2,61.4 159.7,61.5 160.2,61.4 160.7,60.4 161.2,60.0 161.7,60.4 162.2,61.4 162.7,61.7 163.2,62.1 163.7,62.1 164.2,62.5 164.7,61.8 165.2,62.0 165.7,60.5 166.2,59.2 166.7,58.0 167.2,59.2 167.7,60.3 168.2,61.4 168.7,62.3 169.2,62.0 169.7,61.7 170.2,62.7 170.7,62.5 171.2,62.3 171.7,62.5 172.2,62.4 172.7,62.5 173.2,62.0 173.7,61.5 174.2,61.2 174.7,60.2 175.2,60.0 175.7,60.1 176.2,61.0 176.7,60.9 177.2,61.8 177.7,61.3 178.2,59.8 178.7,59.1 179.2,57.8 179.7,57.3 180.2,57.4 180.7,58.9 181.2,60.1 181.7,60.8 182.2,62.2 182.7,61.7 183.2,62.3 183.7,62.3 184.2,62.5 184.7,62.5 185.2,62.4 185.7,62.6 186.2,62.3 186.7,62.8 187.2,62.4 187.7,62.7 188.2,62.6 188.7,61.8 189.2,61.5 189.7,61.1 190.2,60.5 190.7,59.4 191.2,57.3 191.7,56.0 192.2,58.1 192.7,60.8 193.2,61.9 193.7,62.4 194.2,62.0 194.7,61.9 195.2,62.2 195.7,62.3 196.2,62.2 196.7,61.9 197.2,62.1 197.7,60.3 198.2,57.7 198.7,54.9 199.2,54.5 199.7,57.7 200.2,59.4 200.7,60.8 201.2,59.8 201.7,59.7 202.2,60.2 202.7,60.7 203.2,60.8 203.7,59.8 204.2,60.1 204.7,60.2 205.2,60.2 205.7,59.5 206.2,58.9 206.7,59.1 207.2,59.7 207.7,61.2 208.2,61.4 208.7,62.0 209.2,61.9 209.7,61.9 210.2,61.2 210.7,62.1 211.2,61.5 211.7,59.0 212.2,56.4 212.7,52.5 213.2,56.2 213.7,58.9 214.2,61.2 214.7,62.0 215.2,62.0 215.7,61.2 216.2,60.5 216.7,59.5 217.2,59.1 217.7,60.0 218.2,61.2 218.7,61.3 219.2,62.1 219.7,62.3 220.2,62.0 220.7,62.7 221.2,62.5 221.7,62.2 222.2,62.6 222.7,62.2 223.2,62.3 223.7,61.3 224.2,58.9 224.7,55.3 225.2,52.6 225.7,56.6 226.2,59.1 226.7,61.5 227.2,62.2 227.7,62.2 228.2,61.8 228.7,62.5 229.2,62.7 229.7,62.3 230.2,61.9 230.7,61.7 231.2,61.5 231.7,61.4 232.2,62.4 232.7,62.5 233.2,62.4 233.7,62.8 234.2,62.0 234.7,62.4 235.2,62.3 235.7,61.4 236.2,60.2 236.7,59.5 237.2,59.2 237.7,60.4 238.2,60.9 238.7,61.4 239.2,60.0 239.7,58.2 240.2,58.1 240.7,59.8 241.2,61.7 241.7,61.9 242.2,62.1 242.7,61.8 243.2,60.9 243.7,60.8 244.2,59.8 244.7,59.7 245.2,59.9 245.7,60.4 246.2,61.1 246.7,61.2 247.2,62.2 247.7,62.1 248.2,62.0 248.7,62.3 249.2,62.0 249.7,62.6 250.2,62.5 250.7,61.7 251.2,62.5 251.7,62.4 252.2,61.7 252.7,62.1 253.2,62.0 253.7,61.2 254.2,60.3 254.7,57.3 255.2,55.9 255.7,56.1 256.2,58.1 256.7,58.9 257.2,60.2 257.7,60.9 258.2,61.4 258.7,61.6 259.2,61.4 259.7,62.1 260.2,61.4 260.7,61.3 261.2,61.4 261.7,62.3 262.2,61.6 262.7,62.2 263.2,62.3 263.7,62.1 264.2,62.6 264.7,61.9 265.2,61.7 265.7,61.6 266.2,62.3 266.7,61.8 267.2,62.2 267.7,62.0 268.2,61.1 268.7,59.7 269.2,55.9 269.7,52.6 270.2,54.6 270.7,57.3 271.2,60.1 271.7,60.3 272.2,59.7 272.7,58.4 273.2,59.1 273.4,61.1" fill="#f2b07a" fill-opacity="0.82"/>
<polyline points="113.7,60.2 114.2,57.9 114.7,55.6 115.2,58.1 115.7,60.2 116.2,61.3 116.7,61.3 117.2,61.7 117.7,61.2 118.2,62.2 118.7,62.3 119.2,62.7 119.7,62.5 120.2,62.6 120.7,62.4 121.2,62.7 121.7,62.1 122.2,61.8 122.7,61.5 123.2,61.0 123.7,60.7 124.2,60.2 124.7,60.4 125.2,61.0 125.7,61.5 126.2,61.5 126.7,61.1 127.2,60.9 127.7,61.5 128.2,62.3 128.7,62.1 129.2,62.1 129.7,60.5 130.2,59.0 130.7,56.5 131.2,57.9 131.7,60.5 132.2,61.5 132.7,61.5 133.2,60.7 133.7,60.5 134.2,59.9 134.7,60.7 135.2,61.7 135.7,61.9 136.2,62.6 136.7,62.7 137.2,62.4 137.7,62.3 138.2,62.6 138.7,62.4 139.2,62.6 139.7,62.4 140.2,62.4 140.7,62.3 141.2,62.0 141.7,62.4 142.2,62.7 142.7,62.5 143.2,62.5 143.7,61.9 144.2,61.7 144.7,61.9 145.2,62.1 145.7,62.0 146.2,61.3 146.7,60.9 147.2,59.7 147.7,58.8 148.2,58.1 148.7,59.1 149.2,59.8 149.7,60.4 150.2,61.3 150.7,61.9 151.2,62.5 151.7,62.6 152.2,62.6 152.7,62.5 153.2,62.0 153.7,62.3 154.2,62.8 154.7,62.4 155.2,62.5 155.7,62.0 156.2,62.2 156.7,62.1 157.2,62.5 157.7,62.3 158.2,62.3 158.7,61.7 159.2,61.4 159.7,61.5 160.2,61.4 160.7,60.4 161.2,60.0 161.7,60.4 162.2,61.4 162.7,61.7 163.2,62.1 163.7,62.1 164.2,62.5 164.7,61.8 165.2,62.0 165.7,60.5 166.2,59.2 166.7,58.0 167.2,59.2 167.7,60.3 168.2,61.4 168.7,62.3 169.2,62.0 169.7,61.7 170.2,62.7 170.7,62.5 171.2,62.3 171.7,62.5 172.2,62.4 172.7,62.5 173.2,62.0 173.7,61.5 174.2,61.2 174.7,60.2 175.2,60.0 175.7,60.1 176.2,61.0 176.7,60.9 177.2,61.8 177.7,61.3 178.2,59.8 178.7,59.1 179.2,57.8 179.7,57.3 180.2,57.4 180.7,58.9 181.2,60.1 181.7,60.8 182.2,62.2 182.7,61.7 183.2,62.3 183.7,62.3 184.2,62.5 184.7,62.5 185.2,62.4 185.7,62.6 186.2,62.3 186.7,62.8 187.2,62.4 187.7,62.7 188.2,62.6 188.7,61.8 189.2,61.5 189.7,61.1 190.2,60.5 190.7,59.4 191.2,57.3 191.7,56.0 192.2,58.1 192.7,60.8 193.2,61.9 193.7,62.4 194.2,62.0 194.7,61.9 195.2,62.2 195.7,62.3 196.2,62.2 196.7,61.9 197.2,62.1 197.7,60.3 198.2,57.7 198.7,54.9 199.2,54.5 199.7,57.7 200.2,59.4 200.7,60.8 201.2,59.8 201.7,59.7 202.2,60.2 202.7,60.7 203.2,60.8 203.7,59.8 204.2,60.1 204.7,60.2 205.2,60.2 205.7,59.5 206.2,58.9 206.7,59.1 207.2,59.7 207.7,61.2 208.2,61.4 208.7,62.0 209.2,61.9 209.7,61.9 210.2,61.2 210.7,62.1 211.2,61.5 211.7,59.0 212.2,56.4 212.7,52.5 213.2,56.2 213.7,58.9 214.2,61.2 214.7,62.0 215.2,62.0 215.7,61.2 216.2,60.5 216.7,59.5 217.2,59.1 217.7,60.0 218.2,61.2 218.7,61.3 219.2,62.1 219.7,62.3 220.2,62.0 220.7,62.7 221.2,62.5 221.7,62.2 222.2,62.6 222.7,62.2 223.2,62.3 223.7,61.3 224.2,58.9 224.7,55.3 225.2,52.6 225.7,56.6 226.2,59.1 226.7,61.5 227.2,62.2 227.7,62.2 228.2,61.8 228.7,62.5 229.2,62.7 229.7,62.3 230.2,61.9 230.7,61.7 231.2,61.5 231.7,61.4 232.2,62.4 232.7,62.5 233.2,62.4 233.7,62.8 234.2,62.0 234.7,62.4 235.2,62.3 235.7,61.4 236.2,60.2 236.7,59.5 237.2,59.2 237.7,60.4 238.2,60.9 238.7,61.4 239.2,60.0 239.7,58.2 240.2,58.1 240.7,59.8 241.2,61.7 241.7,61.9 242.2,62.1 242.7,61.8 243.2,60.9 243.7,60.8 244.2,59.8 244.7,59.7 245.2,59.9 245.7,60.4 246.2,61.1 246.7,61.2 247.2,62.2 247.7,62.1 248.2,62.0 248.7,62.3 249.2,62.0 249.7,62.6 250.2,62.5 250.7,61.7 251.2,62.5 251.7,62.4 252.2,61.7 252.7,62.1 253.2,62.0 253.7,61.2 254.2,60.3 254.7,57.3 255.2,55.9 255.7,56.1 256.2,58.1 256.7,58.9 257.2,60.2 257.7,60.9 258.2,61.4 258.7,61.6 259.2,61.4 259.7,62.1 260.2,61.4 260.7,61.3 261.2,61.4 261.7,62.3 262.2,61.6 262.7,62.2 263.2,62.3 263.7,62.1 264.2,62.6 264.7,61.9 265.2,61.7 265.7,61.6 266.2,62.3 266.7,61.8 267.2,62.2 267.7,62.0 268.2,61.1 268.7,59.7 269.2,55.9 269.7,52.6 270.2,54.6 270.7,57.3 271.2,60.1 271.7,60.3 272.2,59.7 272.7,58.4 273.2,59.1" fill="none" stroke="#584030" stroke-width="0.6" stroke-opacity="0.95" stroke-linejoin="round"/>
<line x1="110.20" y1="69.64" x2="113.50" y2="69.64" stroke="#666" stroke-width="0.6" />
<line x1="273.40" y1="69.64" x2="275.00" y2="69.64" stroke="#666" stroke-width="0.6" />
<polygon points="113.7,69.6 113.7,65.3 114.2,61.1 114.7,56.5 115.2,61.6 115.7,65.8 116.2,69.1 116.7,70.2 117.2,69.8 117.7,70.0 118.2,69.8 118.7,70.6 119.2,69.9 119.7,70.5 120.2,69.9 120.7,70.1 121.2,70.3 121.7,69.9 122.2,69.8 122.7,70.5 123.2,69.9 123.7,69.5 124.2,69.0 124.7,67.0 125.2,64.0 125.7,64.1 126.2,67.1 126.7,69.3 127.2,69.8 127.7,70.0 128.2,70.4 128.7,70.4 129.2,70.6 129.7,70.8 130.2,70.4 130.7,70.8 131.2,70.1 131.7,70.4 132.2,70.6 132.7,70.8 133.2,70.3 133.7,70.3 134.2,70.7 134.7,70.3 135.2,70.0 135.7,70.3 136.2,70.2 136.7,70.5 137.2,70.5 137.7,69.7 138.2,69.5 138.7,68.4 139.2,66.4 139.7,65.9 140.2,67.6 140.7,69.8 141.2,70.4 141.7,70.2 142.2,69.7 142.7,69.9 143.2,69.8 143.7,70.0 144.2,70.0 144.7,70.0 145.2,70.4 145.7,70.7 146.2,70.4 146.7,70.6 147.2,70.6 147.7,70.8 148.2,70.1 148.7,70.2 149.2,70.4 149.7,69.6 150.2,69.8 150.7,69.6 151.2,69.6 151.7,69.8 152.2,70.1 152.7,69.6 153.2,70.1 153.7,69.4 154.2,69.3 154.7,70.0 155.2,69.5 155.7,70.3 156.2,70.2 156.7,69.9 157.2,70.1 157.7,70.6 158.2,69.8 158.7,70.1 159.2,70.1 159.7,70.5 160.2,70.1 160.7,70.7 161.2,70.3 161.7,70.9 162.2,70.1 162.7,70.2 163.2,69.9 163.7,69.9 164.2,69.8 164.7,69.9 165.2,69.6 165.7,67.6 166.2,64.3 166.7,61.7 167.2,64.2 167.7,66.6 168.2,68.9 168.7,69.3 169.2,69.7 169.7,69.2 170.2,69.5 170.7,69.9 171.2,69.8 171.7,70.1 172.2,70.6 172.7,70.1 173.2,70.3 173.7,70.6 174.2,69.9 174.7,70.2 175.2,70.5 175.7,70.5 176.2,70.6 176.7,70.6 177.2,70.3 177.7,70.0 178.2,70.2 178.7,70.6 179.2,69.9 179.7,70.0 180.2,69.9 180.7,70.6 181.2,69.9 181.7,69.9 182.2,70.3 182.7,70.4 183.2,70.2 183.7,70.6 184.2,70.6 184.7,70.3 185.2,69.9 185.7,70.3 186.2,70.3 186.7,70.6 187.2,70.0 187.7,69.1 188.2,68.8 188.7,69.1 189.2,69.1 189.7,68.1 190.2,67.9 190.7,68.8 191.2,69.6 191.7,70.1 192.2,70.4 192.7,70.6 193.2,69.9 193.7,70.3 194.2,70.6 194.7,70.1 195.2,69.9 195.7,70.4 196.2,70.6 196.7,69.9 197.2,69.8 197.7,70.0 198.2,70.2 198.7,70.1 199.2,70.1 199.7,70.3 200.2,70.8 200.7,70.4 201.2,70.1 201.7,70.7 202.2,70.1 202.7,70.0 203.2,70.1 203.7,70.0 204.2,70.9 204.7,70.5 205.2,70.7 205.7,70.0 206.2,69.4 206.7,69.5 207.2,69.5 207.7,69.3 208.2,69.1 208.7,69.4 209.2,69.4 209.7,69.8 210.2,69.5 210.7,70.1 211.2,70.0 211.7,70.4 212.2,70.2 212.7,69.0 213.2,69.1 213.7,70.1 214.2,70.5 214.7,70.7 215.2,70.0 215.7,70.4 216.2,70.4 216.7,70.3 217.2,70.3 217.7,70.6 218.2,70.0 218.7,70.5 219.2,70.9 219.7,70.5 220.2,70.4 220.7,70.1 221.2,70.7 221.7,70.4 222.2,70.6 222.7,70.6 223.2,70.4 223.7,70.6 224.2,70.6 224.7,70.6 225.2,70.2 225.7,70.4 226.2,70.5 226.7,70.0 227.2,70.4 227.7,70.3 228.2,70.2 228.7,70.3 229.2,70.8 229.7,70.0 230.2,69.9 230.7,70.2 231.2,69.8 231.7,70.5 232.2,70.6 232.7,70.1 233.2,70.1 233.7,70.4 234.2,70.7 234.7,70.6 235.2,70.8 235.7,70.2 236.2,70.2 236.7,70.5 237.2,70.6 237.7,70.3 238.2,70.3 238.7,70.7 239.2,70.0 239.7,69.2 240.2,68.7 240.7,69.3 241.2,69.4 241.7,69.3 242.2,68.8 242.7,68.9 243.2,69.7 243.7,70.1 244.2,70.7 244.7,70.5 245.2,70.2 245.7,70.2 246.2,70.5 246.7,69.7 247.2,69.8 247.7,70.1 248.2,69.8 248.7,70.2 249.2,70.0 249.7,70.5 250.2,70.6 250.7,70.1 251.2,70.4 251.7,69.7 252.2,69.8 252.7,69.9 253.2,70.5 253.7,70.1 254.2,70.3 254.7,70.6 255.2,70.2 255.7,70.0 256.2,70.0 256.7,70.0 257.2,70.1 257.7,70.2 258.2,69.9 258.7,70.4 259.2,69.7 259.7,69.2 260.2,69.6 260.7,69.4 261.2,69.3 261.7,68.5 262.2,67.9 262.7,69.4 263.2,69.8 263.7,70.1 264.2,70.5 264.7,70.0 265.2,70.0 265.7,69.9 266.2,69.1 266.7,68.9 267.2,68.8 267.7,69.9 268.2,69.9 268.7,70.3 269.2,70.3 269.7,70.1 270.2,70.3 270.7,70.9 271.2,70.5 271.7,70.4 272.2,70.2 272.7,70.7 273.2,70.2 273.4,69.6" fill="#b09ad0" fill-opacity="0.82"/>
<polyline points="113.7,65.3 114.2,61.1 114.7,56.5 115.2,61.6 115.7,65.8 116.2,69.1 116.7,70.2 117.2,69.8 117.7,70.0 118.2,69.8 118.7,70.6 119.2,69.9 119.7,70.5 120.2,69.9 120.7,70.1 121.2,70.3 121.7,69.9 122.2,69.8 122.7,70.5 123.2,69.9 123.7,69.5 124.2,69.0 124.7,67.0 125.2,64.0 125.7,64.1 126.2,67.1 126.7,69.3 127.2,69.8 127.7,70.0 128.2,70.4 128.7,70.4 129.2,70.6 129.7,70.8 130.2,70.4 130.7,70.8 131.2,70.1 131.7,70.4 132.2,70.6 132.7,70.8 133.2,70.3 133.7,70.3 134.2,70.7 134.7,70.3 135.2,70.0 135.7,70.3 136.2,70.2 136.7,70.5 137.2,70.5 137.7,69.7 138.2,69.5 138.7,68.4 139.2,66.4 139.7,65.9 140.2,67.6 140.7,69.8 141.2,70.4 141.7,70.2 142.2,69.7 142.7,69.9 143.2,69.8 143.7,70.0 144.2,70.0 144.7,70.0 145.2,70.4 145.7,70.7 146.2,70.4 146.7,70.6 147.2,70.6 147.7,70.8 148.2,70.1 148.7,70.2 149.2,70.4 149.7,69.6 150.2,69.8 150.7,69.6 151.2,69.6 151.7,69.8 152.2,70.1 152.7,69.6 153.2,70.1 153.7,69.4 154.2,69.3 154.7,70.0 155.2,69.5 155.7,70.3 156.2,70.2 156.7,69.9 157.2,70.1 157.7,70.6 158.2,69.8 158.7,70.1 159.2,70.1 159.7,70.5 160.2,70.1 160.7,70.7 161.2,70.3 161.7,70.9 162.2,70.1 162.7,70.2 163.2,69.9 163.7,69.9 164.2,69.8 164.7,69.9 165.2,69.6 165.7,67.6 166.2,64.3 166.7,61.7 167.2,64.2 167.7,66.6 168.2,68.9 168.7,69.3 169.2,69.7 169.7,69.2 170.2,69.5 170.7,69.9 171.2,69.8 171.7,70.1 172.2,70.6 172.7,70.1 173.2,70.3 173.7,70.6 174.2,69.9 174.7,70.2 175.2,70.5 175.7,70.5 176.2,70.6 176.7,70.6 177.2,70.3 177.7,70.0 178.2,70.2 178.7,70.6 179.2,69.9 179.7,70.0 180.2,69.9 180.7,70.6 181.2,69.9 181.7,69.9 182.2,70.3 182.7,70.4 183.2,70.2 183.7,70.6 184.2,70.6 184.7,70.3 185.2,69.9 185.7,70.3 186.2,70.3 186.7,70.6 187.2,70.0 187.7,69.1 188.2,68.8 188.7,69.1 189.2,69.1 189.7,68.1 190.2,67.9 190.7,68.8 191.2,69.6 191.7,70.1 192.2,70.4 192.7,70.6 193.2,69.9 193.7,70.3 194.2,70.6 194.7,70.1 195.2,69.9 195.7,70.4 196.2,70.6 196.7,69.9 197.2,69.8 197.7,70.0 198.2,70.2 198.7,70.1 199.2,70.1 199.7,70.3 200.2,70.8 200.7,70.4 201.2,70.1 201.7,70.7 202.2,70.1 202.7,70.0 203.2,70.1 203.7,70.0 204.2,70.9 204.7,70.5 205.2,70.7 205.7,70.0 206.2,69.4 206.7,69.5 207.2,69.5 207.7,69.3 208.2,69.1 208.7,69.4 209.2,69.4 209.7,69.8 210.2,69.5 210.7,70.1 211.2,70.0 211.7,70.4 212.2,70.2 212.7,69.0 213.2,69.1 213.7,70.1 214.2,70.5 214.7,70.7 215.2,70.0 215.7,70.4 216.2,70.4 216.7,70.3 217.2,70.3 217.7,70.6 218.2,70.0 218.7,70.5 219.2,70.9 219.7,70.5 220.2,70.4 220.7,70.1 221.2,70.7 221.7,70.4 222.2,70.6 222.7,70.6 223.2,70.4 223.7,70.6 224.2,70.6 224.7,70.6 225.2,70.2 225.7,70.4 226.2,70.5 226.7,70.0 227.2,70.4 227.7,70.3 228.2,70.2 228.7,70.3 229.2,70.8 229.7,70.0 230.2,69.9 230.7,70.2 231.2,69.8 231.7,70.5 232.2,70.6 232.7,70.1 233.2,70.1 233.7,70.4 234.2,70.7 234.7,70.6 235.2,70.8 235.7,70.2 236.2,70.2 236.7,70.5 237.2,70.6 237.7,70.3 238.2,70.3 238.7,70.7 239.2,70.0 239.7,69.2 240.2,68.7 240.7,69.3 241.2,69.4 241.7,69.3 242.2,68.8 242.7,68.9 243.2,69.7 243.7,70.1 244.2,70.7 244.7,70.5 245.2,70.2 245.7,70.2 246.2,70.5 246.7,69.7 247.2,69.8 247.7,70.1 248.2,69.8 248.7,70.2 249.2,70.0 249.7,70.5 250.2,70.6 250.7,70.1 251.2,70.4 251.7,69.7 252.2,69.8 252.7,69.9 253.2,70.5 253.7,70.1 254.2,70.3 254.7,70.6 255.2,70.2 255.7,70.0 256.2,70.0 256.7,70.0 257.2,70.1 257.7,70.2 258.2,69.9 258.7,70.4 259.2,69.7 259.7,69.2 260.2,69.6 260.7,69.4 261.2,69.3 261.7,68.5 262.2,67.9 262.7,69.4 263.2,69.8 263.7,70.1 264.2,70.5 264.7,70.0 265.2,70.0 265.7,69.9 266.2,69.1 266.7,68.9 267.2,68.8 267.7,69.9 268.2,69.9 268.7,70.3 269.2,70.3 269.7,70.1 270.2,70.3 270.7,70.9 271.2,70.5 271.7,70.4 272.2,70.2 272.7,70.7 273.2,70.2" fill="none" stroke="#403550" stroke-width="0.6" stroke-opacity="0.95" stroke-linejoin="round"/>
<line x1="110.20" y1="78.15" x2="113.50" y2="78.15" stroke="#666" stroke-width="0.6" />
<line x1="273.40" y1="78.15" x2="275.00" y2="78.15" stroke="#666" stroke-width="0.6" />
<polygon points="113.7,78.2 113.7,79.1 114.2,79.3 114.7,78.6 115.2,78.6 115.7,78.9 116.2,79.1 116.7,79.6 117.2,78.8 117.7,79.0 118.2,79.4 118.7,78.9 119.2,78.8 119.7,77.3 120.2,74.8 120.7,71.9 121.2,73.0 121.7,75.1 122.2,77.5 122.7,79.2 123.2,79.3 123.7,78.9 124.2,78.8 124.7,77.0 125.2,73.9 125.7,70.7 126.2,71.3 126.7,74.8 127.2,77.3 127.7,78.9 128.2,78.4 128.7,79.5 129.2,78.8 129.7,79.3 130.2,79.1 130.7,78.7 131.2,79.4 131.7,78.9 132.2,78.3 132.7,78.0 133.2,75.7 133.7,72.6 134.2,69.6 134.7,69.1 135.2,72.7 135.7,76.5 136.2,78.7 136.7,79.0 137.2,78.7 137.7,78.8 138.2,78.9 138.7,79.7 139.2,78.9 139.7,78.8 140.2,79.1 140.7,78.6 141.2,78.7 141.7,79.3 142.2,78.8 142.7,79.4 143.2,79.5 143.7,79.1 144.2,79.0 144.7,78.7 145.2,78.8 145.7,79.0 146.2,79.0 146.7,78.9 147.2,78.8 147.7,79.4 148.2,79.2 148.7,79.1 149.2,79.0 149.7,79.1 150.2,78.7 150.7,76.3 151.2,72.9 151.7,68.4 152.2,69.6 152.7,73.0 153.2,76.8 153.7,78.8 154.2,78.9 154.7,78.8 155.2,79.1 155.7,78.3 156.2,78.5 156.7,78.5 157.2,79.4 157.7,79.5 158.2,78.8 158.7,78.9 159.2,78.8 159.7,78.7 160.2,79.2 160.7,78.6 161.2,77.5 161.7,75.6 162.2,74.9 162.7,77.0 163.2,77.9 163.7,78.9 164.2,79.0 164.7,78.6 165.2,78.6 165.7,78.0 166.2,76.3 166.7,74.7 167.2,75.7 167.7,77.5 168.2,78.2 168.7,78.7 169.2,78.2 169.7,77.8 170.2,78.1 170.7,78.7 171.2,79.4 171.7,79.5 172.2,79.6 172.7,79.3 173.2,79.2 173.7,78.6 174.2,77.8 174.7,77.3 175.2,75.4 175.7,74.3 176.2,73.9 176.7,75.1 177.2,76.8 177.7,78.0 178.2,78.4 178.7,78.8 179.2,79.6 179.7,79.6 180.2,79.2 180.7,79.5 181.2,78.9 181.7,79.6 182.2,79.2 182.7,79.1 183.2,78.8 183.7,78.6 184.2,79.0 184.7,79.1 185.2,79.1 185.7,79.2 186.2,79.4 186.7,78.7 187.2,79.3 187.7,78.6 188.2,79.0 188.7,78.4 189.2,77.4 189.7,77.2 190.2,77.0 190.7,76.8 191.2,77.4 191.7,77.6 192.2,78.3 192.7,78.7 193.2,78.8 193.7,78.8 194.2,77.9 194.7,77.6 195.2,77.5 195.7,77.0 196.2,76.9 196.7,76.4 197.2,77.5 197.7,77.2 198.2,77.9 198.7,78.8 199.2,79.3 199.7,78.6 200.2,78.7 200.7,79.3 201.2,79.4 201.7,79.1 202.2,78.9 202.7,79.4 203.2,78.8 203.7,78.9 204.2,78.6 204.7,78.9 205.2,79.2 205.7,79.3 206.2,79.5 206.7,79.3 207.2,78.9 207.7,79.0 208.2,78.8 208.7,78.7 209.2,78.5 209.7,78.7 210.2,77.9 210.7,77.3 211.2,76.5 211.7,76.1 212.2,77.2 212.7,77.7 213.2,78.5 213.7,78.5 214.2,77.1 214.7,74.5 215.2,72.6 215.7,75.0 216.2,77.0 216.7,78.4 217.2,79.0 217.7,79.0 218.2,78.9 218.7,79.2 219.2,79.2 219.7,79.3 220.2,79.5 220.7,78.9 221.2,79.0 221.7,78.6 222.2,79.2 222.7,79.4 223.2,79.0 223.7,78.5 224.2,79.0 224.7,78.7 225.2,78.6 225.7,79.1 226.2,78.8 226.7,78.9 227.2,79.1 227.7,79.1 228.2,79.4 228.7,79.1 229.2,79.0 229.7,79.2 230.2,79.5 230.7,79.0 231.2,78.8 231.7,78.7 232.2,78.5 232.7,78.1 233.2,77.9 233.7,77.4 234.2,77.5 234.7,76.4 235.2,76.3 235.7,76.9 236.2,77.7 236.7,78.6 237.2,78.3 237.7,78.9 238.2,78.4 238.7,78.2 239.2,77.3 239.7,77.1 240.2,76.4 240.7,77.2 241.2,77.8 241.7,77.9 242.2,78.5 242.7,79.5 243.2,78.3 243.7,77.6 244.2,77.6 244.7,76.9 245.2,76.0 245.7,76.9 246.2,77.4 246.7,78.0 247.2,78.4 247.7,78.6 248.2,79.3 248.7,78.9 249.2,79.4 249.7,79.5 250.2,78.8 250.7,79.5 251.2,79.4 251.7,78.9 252.2,78.9 252.7,78.3 253.2,78.5 253.7,77.7 254.2,78.2 254.7,78.2 255.2,79.0 255.7,78.5 256.2,79.1 256.7,77.7 257.2,76.4 257.7,74.8 258.2,74.9 258.7,76.9 259.2,77.7 259.7,78.8 260.2,78.4 260.7,78.6 261.2,78.2 261.7,78.5 262.2,78.8 262.7,79.4 263.2,79.5 263.7,78.9 264.2,78.6 264.7,78.3 265.2,77.8 265.7,77.6 266.2,78.4 266.7,77.9 267.2,78.4 267.7,77.1 268.2,75.6 268.7,76.0 269.2,75.9 269.7,76.1 270.2,76.5 270.7,77.4 271.2,78.0 271.7,78.6 272.2,77.9 272.7,77.8 273.2,76.4 273.4,78.2" fill="#74b572" fill-opacity="0.82"/>
<polyline points="113.7,79.1 114.2,79.3 114.7,78.6 115.2,78.6 115.7,78.9 116.2,79.1 116.7,79.6 117.2,78.8 117.7,79.0 118.2,79.4 118.7,78.9 119.2,78.8 119.7,77.3 120.2,74.8 120.7,71.9 121.2,73.0 121.7,75.1 122.2,77.5 122.7,79.2 123.2,79.3 123.7,78.9 124.2,78.8 124.7,77.0 125.2,73.9 125.7,70.7 126.2,71.3 126.7,74.8 127.2,77.3 127.7,78.9 128.2,78.4 128.7,79.5 129.2,78.8 129.7,79.3 130.2,79.1 130.7,78.7 131.2,79.4 131.7,78.9 132.2,78.3 132.7,78.0 133.2,75.7 133.7,72.6 134.2,69.6 134.7,69.1 135.2,72.7 135.7,76.5 136.2,78.7 136.7,79.0 137.2,78.7 137.7,78.8 138.2,78.9 138.7,79.7 139.2,78.9 139.7,78.8 140.2,79.1 140.7,78.6 141.2,78.7 141.7,79.3 142.2,78.8 142.7,79.4 143.2,79.5 143.7,79.1 144.2,79.0 144.7,78.7 145.2,78.8 145.7,79.0 146.2,79.0 146.7,78.9 147.2,78.8 147.7,79.4 148.2,79.2 148.7,79.1 149.2,79.0 149.7,79.1 150.2,78.7 150.7,76.3 151.2,72.9 151.7,68.4 152.2,69.6 152.7,73.0 153.2,76.8 153.7,78.8 154.2,78.9 154.7,78.8 155.2,79.1 155.7,78.3 156.2,78.5 156.7,78.5 157.2,79.4 157.7,79.5 158.2,78.8 158.7,78.9 159.2,78.8 159.7,78.7 160.2,79.2 160.7,78.6 161.2,77.5 161.7,75.6 162.2,74.9 162.7,77.0 163.2,77.9 163.7,78.9 164.2,79.0 164.7,78.6 165.2,78.6 165.7,78.0 166.2,76.3 166.7,74.7 167.2,75.7 167.7,77.5 168.2,78.2 168.7,78.7 169.2,78.2 169.7,77.8 170.2,78.1 170.7,78.7 171.2,79.4 171.7,79.5 172.2,79.6 172.7,79.3 173.2,79.2 173.7,78.6 174.2,77.8 174.7,77.3 175.2,75.4 175.7,74.3 176.2,73.9 176.7,75.1 177.2,76.8 177.7,78.0 178.2,78.4 178.7,78.8 179.2,79.6 179.7,79.6 180.2,79.2 180.7,79.5 181.2,78.9 181.7,79.6 182.2,79.2 182.7,79.1 183.2,78.8 183.7,78.6 184.2,79.0 184.7,79.1 185.2,79.1 185.7,79.2 186.2,79.4 186.7,78.7 187.2,79.3 187.7,78.6 188.2,79.0 188.7,78.4 189.2,77.4 189.7,77.2 190.2,77.0 190.7,76.8 191.2,77.4 191.7,77.6 192.2,78.3 192.7,78.7 193.2,78.8 193.7,78.8 194.2,77.9 194.7,77.6 195.2,77.5 195.7,77.0 196.2,76.9 196.7,76.4 197.2,77.5 197.7,77.2 198.2,77.9 198.7,78.8 199.2,79.3 199.7,78.6 200.2,78.7 200.7,79.3 201.2,79.4 201.7,79.1 202.2,78.9 202.7,79.4 203.2,78.8 203.7,78.9 204.2,78.6 204.7,78.9 205.2,79.2 205.7,79.3 206.2,79.5 206.7,79.3 207.2,78.9 207.7,79.0 208.2,78.8 208.7,78.7 209.2,78.5 209.7,78.7 210.2,77.9 210.7,77.3 211.2,76.5 211.7,76.1 212.2,77.2 212.7,77.7 213.2,78.5 213.7,78.5 214.2,77.1 214.7,74.5 215.2,72.6 215.7,75.0 216.2,77.0 216.7,78.4 217.2,79.0 217.7,79.0 218.2,78.9 218.7,79.2 219.2,79.2 219.7,79.3 220.2,79.5 220.7,78.9 221.2,79.0 221.7,78.6 222.2,79.2 222.7,79.4 223.2,79.0 223.7,78.5 224.2,79.0 224.7,78.7 225.2,78.6 225.7,79.1 226.2,78.8 226.7,78.9 227.2,79.1 227.7,79.1 228.2,79.4 228.7,79.1 229.2,79.0 229.7,79.2 230.2,79.5 230.7,79.0 231.2,78.8 231.7,78.7 232.2,78.5 232.7,78.1 233.2,77.9 233.7,77.4 234.2,77.5 234.7,76.4 235.2,76.3 235.7,76.9 236.2,77.7 236.7,78.6 237.2,78.3 237.7,78.9 238.2,78.4 238.7,78.2 239.2,77.3 239.7,77.1 240.2,76.4 240.7,77.2 241.2,77.8 241.7,77.9 242.2,78.5 242.7,79.5 243.2,78.3 243.7,77.6 244.2,77.6 244.7,76.9 245.2,76.0 245.7,76.9 246.2,77.4 246.7,78.0 247.2,78.4 247.7,78.6 248.2,79.3 248.7,78.9 249.2,79.4 249.7,79.5 250.2,78.8 250.7,79.5 251.2,79.4 251.7,78.9 252.2,78.9 252.7,78.3 253.2,78.5 253.7,77.7 254.2,78.2 254.7,78.2 255.2,79.0 255.7,78.5 256.2,79.1 256.7,77.7 257.2,76.4 257.7,74.8 258.2,74.9 258.7,76.9 259.2,77.7 259.7,78.8 260.2,78.4 260.7,78.6 261.2,78.2 261.7,78.5 262.2,78.8 262.7,79.4 263.2,79.5 263.7,78.9 264.2,78.6 264.7,78.3 265.2,77.8 265.7,77.6 266.2,78.4 266.7,77.9 267.2,78.4 267.7,77.1 268.2,75.6 268.7,76.0 269.2,75.9 269.7,76.1 270.2,76.5 270.7,77.4 271.2,78.0 271.7,78.6 272.2,77.9 272.7,77.8 273.2,76.4" fill="none" stroke="#2d402d" stroke-width="0.6" stroke-opacity="0.95" stroke-linejoin="round"/>
<line x1="110.20" y1="86.66" x2="113.50" y2="86.66" stroke="#666" stroke-width="0.6" />
<line x1="273.40" y1="86.66" x2="275.00" y2="86.66" stroke="#666" stroke-width="0.6" />
<polygon points="113.7,86.7 113.7,87.2 114.2,87.0 114.7,87.1 115.2,87.4 115.7,87.1 116.2,86.7 116.7,87.2 117.2,86.7 117.7,87.1 118.2,87.0 118.7,86.9 119.2,87.1 119.7,86.3 120.2,85.7 120.7,84.5 121.2,84.7 121.7,85.6 122.2,86.5 122.7,87.3 123.2,87.5 123.7,87.2 124.2,87.4 124.7,86.7 125.2,87.0 125.7,87.3 126.2,87.5 126.7,86.7 127.2,87.5 127.7,87.5 128.2,86.7 128.7,86.9 129.2,87.4 129.7,86.9 130.2,86.7 130.7,87.1 131.2,87.2 131.7,87.3 132.2,86.8 132.7,87.0 133.2,86.7 133.7,86.8 134.2,84.0 134.7,80.3 135.2,75.3 135.7,78.0 136.2,82.5 136.7,85.4 137.2,87.2 137.7,87.1 138.2,86.6 138.7,86.7 139.2,87.3 139.7,86.8 140.2,86.9 140.7,87.2 141.2,86.7 141.7,86.9 142.2,87.2 142.7,86.8 143.2,87.1 143.7,87.1 144.2,86.8 144.7,86.8 145.2,87.5 145.7,87.4 146.2,87.2 146.7,87.1 147.2,87.5 147.7,87.1 148.2,86.8 148.7,87.1 149.2,87.0 149.7,86.9 150.2,84.1 150.7,80.7 151.2,76.1 151.7,77.6 152.2,81.8 152.7,85.1 153.2,87.3 153.7,87.5 154.2,87.1 154.7,87.0 155.2,87.3 155.7,86.9 156.2,87.0 156.7,87.1 157.2,86.2 157.7,86.7 158.2,86.7 158.7,86.8 159.2,87.1 159.7,86.8 160.2,86.9 160.7,86.1 161.2,85.4 161.7,84.2 162.2,85.1 162.7,86.3 163.2,87.3 163.7,86.6 164.2,86.7 164.7,87.2 165.2,87.4 165.7,87.1 166.2,87.0 166.7,87.3 167.2,86.8 167.7,86.6 168.2,87.0 168.7,86.8 169.2,86.1 169.7,86.7 170.2,86.9 170.7,87.3 171.2,87.0 171.7,86.8 172.2,86.9 172.7,86.9 173.2,87.0 173.7,87.3 174.2,87.0 174.7,87.6 175.2,86.9 175.7,87.5 176.2,86.8 176.7,87.5 177.2,86.9 177.7,87.3 178.2,87.0 178.7,87.4 179.2,87.3 179.7,87.3 180.2,86.9 180.7,86.7 181.2,86.9 181.7,87.4 182.2,87.1 182.7,86.8 183.2,86.7 183.7,87.2 184.2,87.5 184.7,87.3 185.2,87.4 185.7,86.8 186.2,87.0 186.7,86.9 187.2,86.8 187.7,87.5 188.2,87.5 188.7,87.0 189.2,87.5 189.7,86.8 190.2,87.4 190.7,87.2 191.2,87.1 191.7,87.6 192.2,87.3 192.7,87.2 193.2,87.2 193.7,87.2 194.2,87.3 194.7,87.3 195.2,87.0 195.7,87.2 196.2,87.0 196.7,86.8 197.2,86.7 197.7,87.5 198.2,87.0 198.7,87.1 199.2,86.8 199.7,87.1 200.2,87.4 200.7,87.2 201.2,87.2 201.7,87.1 202.2,86.6 202.7,86.6 203.2,86.7 203.7,87.3 204.2,87.6 204.7,87.6 205.2,87.4 205.7,87.3 206.2,86.8 206.7,86.7 207.2,87.3 207.7,86.8 208.2,87.2 208.7,87.4 209.2,86.7 209.7,87.4 210.2,86.9 210.7,87.1 211.2,86.9 211.7,87.3 212.2,87.2 212.7,87.5 213.2,87.3 213.7,87.4 214.2,87.4 214.7,87.1 215.2,87.2 215.7,87.2 216.2,86.7 216.7,86.5 217.2,86.6 217.7,86.5 218.2,86.0 218.7,86.7 219.2,86.6 219.7,86.9 220.2,87.5 220.7,87.5 221.2,87.2 221.7,87.2 222.2,86.8 222.7,86.8 223.2,87.2 223.7,86.8 224.2,87.3 224.7,86.8 225.2,86.9 225.7,87.4 226.2,86.6 226.7,86.7 227.2,85.6 227.7,86.5 228.2,86.8 228.7,86.9 229.2,87.0 229.7,87.5 230.2,86.9 230.7,86.9 231.2,87.1 231.7,87.1 232.2,87.1 232.7,87.2 233.2,87.2 233.7,86.9 234.2,87.1 234.7,87.1 235.2,87.3 235.7,86.8 236.2,86.7 236.7,86.9 237.2,87.3 237.7,87.0 238.2,87.0 238.7,87.2 239.2,86.8 239.7,86.9 240.2,87.5 240.7,87.1 241.2,87.2 241.7,86.5 242.2,86.1 242.7,86.9 243.2,86.4 243.7,87.2 244.2,86.8 244.7,87.2 245.2,87.1 245.7,86.9 246.2,87.1 246.7,87.7 247.2,87.3 247.7,87.3 248.2,86.6 248.7,87.4 249.2,87.0 249.7,87.1 250.2,87.1 250.7,86.9 251.2,86.9 251.7,87.4 252.2,87.5 252.7,87.4 253.2,87.6 253.7,87.3 254.2,87.0 254.7,87.2 255.2,86.7 255.7,86.7 256.2,86.7 256.7,87.2 257.2,87.6 257.7,87.2 258.2,87.1 258.7,87.1 259.2,86.7 259.7,87.3 260.2,87.5 260.7,86.7 261.2,87.5 261.7,87.2 262.2,87.1 262.7,86.8 263.2,87.1 263.7,86.9 264.2,86.8 264.7,86.5 265.2,86.9 265.7,87.6 266.2,87.6 266.7,87.0 267.2,87.2 267.7,86.7 268.2,87.2 268.7,87.1 269.2,86.5 269.7,86.7 270.2,87.4 270.7,86.8 271.2,87.3 271.7,87.2 272.2,87.3 272.7,87.0 273.2,87.4 273.4,86.7" fill="#e56f62" fill-opacity="0.82"/>
<polyline points="113.7,87.2 114.2,87.0 114.7,87.1 115.2,87.4 115.7,87.1 116.2,86.7 116.7,87.2 117.2,86.7 117.7,87.1 118.2,87.0 118.7,86.9 119.2,87.1 119.7,86.3 120.2,85.7 120.7,84.5 121.2,84.7 121.7,85.6 122.2,86.5 122.7,87.3 123.2,87.5 123.7,87.2 124.2,87.4 124.7,86.7 125.2,87.0 125.7,87.3 126.2,87.5 126.7,86.7 127.2,87.5 127.7,87.5 128.2,86.7 128.7,86.9 129.2,87.4 129.7,86.9 130.2,86.7 130.7,87.1 131.2,87.2 131.7,87.3 132.2,86.8 132.7,87.0 133.2,86.7 133.7,86.8 134.2,84.0 134.7,80.3 135.2,75.3 135.7,78.0 136.2,82.5 136.7,85.4 137.2,87.2 137.7,87.1 138.2,86.6 138.7,86.7 139.2,87.3 139.7,86.8 140.2,86.9 140.7,87.2 141.2,86.7 141.7,86.9 142.2,87.2 142.7,86.8 143.2,87.1 143.7,87.1 144.2,86.8 144.7,86.8 145.2,87.5 145.7,87.4 146.2,87.2 146.7,87.1 147.2,87.5 147.7,87.1 148.2,86.8 148.7,87.1 149.2,87.0 149.7,86.9 150.2,84.1 150.7,80.7 151.2,76.1 151.7,77.6 152.2,81.8 152.7,85.1 153.2,87.3 153.7,87.5 154.2,87.1 154.7,87.0 155.2,87.3 155.7,86.9 156.2,87.0 156.7,87.1 157.2,86.2 157.7,86.7 158.2,86.7 158.7,86.8 159.2,87.1 159.7,86.8 160.2,86.9 160.7,86.1 161.2,85.4 161.7,84.2 162.2,85.1 162.7,86.3 163.2,87.3 163.7,86.6 164.2,86.7 164.7,87.2 165.2,87.4 165.7,87.1 166.2,87.0 166.7,87.3 167.2,86.8 167.7,86.6 168.2,87.0 168.7,86.8 169.2,86.1 169.7,86.7 170.2,86.9 170.7,87.3 171.2,87.0 171.7,86.8 172.2,86.9 172.7,86.9 173.2,87.0 173.7,87.3 174.2,87.0 174.7,87.6 175.2,86.9 175.7,87.5 176.2,86.8 176.7,87.5 177.2,86.9 177.7,87.3 178.2,87.0 178.7,87.4 179.2,87.3 179.7,87.3 180.2,86.9 180.7,86.7 181.2,86.9 181.7,87.4 182.2,87.1 182.7,86.8 183.2,86.7 183.7,87.2 184.2,87.5 184.7,87.3 185.2,87.4 185.7,86.8 186.2,87.0 186.7,86.9 187.2,86.8 187.7,87.5 188.2,87.5 188.7,87.0 189.2,87.5 189.7,86.8 190.2,87.4 190.7,87.2 191.2,87.1 191.7,87.6 192.2,87.3 192.7,87.2 193.2,87.2 193.7,87.2 194.2,87.3 194.7,87.3 195.2,87.0 195.7,87.2 196.2,87.0 196.7,86.8 197.2,86.7 197.7,87.5 198.2,87.0 198.7,87.1 199.2,86.8 199.7,87.1 200.2,87.4 200.7,87.2 201.2,87.2 201.7,87.1 202.2,86.6 202.7,86.6 203.2,86.7 203.7,87.3 204.2,87.6 204.7,87.6 205.2,87.4 205.7,87.3 206.2,86.8 206.7,86.7 207.2,87.3 207.7,86.8 208.2,87.2 208.7,87.4 209.2,86.7 209.7,87.4 210.2,86.9 210.7,87.1 211.2,86.9 211.7,87.3 212.2,87.2 212.7,87.5 213.2,87.3 213.7,87.4 214.2,87.4 214.7,87.1 215.2,87.2 215.7,87.2 216.2,86.7 216.7,86.5 217.2,86.6 217.7,86.5 218.2,86.0 218.7,86.7 219.2,86.6 219.7,86.9 220.2,87.5 220.7,87.5 221.2,87.2 221.7,87.2 222.2,86.8 222.7,86.8 223.2,87.2 223.7,86.8 224.2,87.3 224.7,86.8 225.2,86.9 225.7,87.4 226.2,86.6 226.7,86.7 227.2,85.6 227.7,86.5 228.2,86.8 228.7,86.9 229.2,87.0 229.7,87.5 230.2,86.9 230.7,86.9 231.2,87.1 231.7,87.1 232.2,87.1 232.7,87.2 233.2,87.2 233.7,86.9 234.2,87.1 234.7,87.1 235.2,87.3 235.7,86.8 236.2,86.7 236.7,86.9 237.2,87.3 237.7,87.0 238.2,87.0 238.7,87.2 239.2,86.8 239.7,86.9 240.2,87.5 240.7,87.1 241.2,87.2 241.7,86.5 242.2,86.1 242.7,86.9 243.2,86.4 243.7,87.2 244.2,86.8 244.7,87.2 245.2,87.1 245.7,86.9 246.2,87.1 246.7,87.7 247.2,87.3 247.7,87.3 248.2,86.6 248.7,87.4 249.2,87.0 249.7,87.1 250.2,87.1 250.7,86.9 251.2,86.9 251.7,87.4 252.2,87.5 252.7,87.4 253.2,87.6 253.7,87.3 254.2,87.0 254.7,87.2 255.2,86.7 255.7,86.7 256.2,86.7 256.7,87.2 257.2,87.6 257.7,87.2 258.2,87.1 258.7,87.1 259.2,86.7 259.7,87.3 260.2,87.5 260.7,86.7 261.2,87.5 261.7,87.2 262.2,87.1 262.7,86.8 263.2,87.1 263.7,86.9 264.2,86.8 264.7,86.5 265.2,86.9 265.7,87.6 266.2,87.6 266.7,87.0 267.2,87.2 267.7,86.7 268.2,87.2 268.7,87.1 269.2,86.5 269.7,86.7 270.2,87.4 270.7,86.8 271.2,87.3 271.7,87.2 272.2,87.3 272.7,87.0 273.2,87.4" fill="none" stroke="#4a2825" stroke-width="0.6" stroke-opacity="0.95" stroke-linejoin="round"/>
<line x1="110.20" y1="95.17" x2="113.50" y2="95.17" stroke="#666" stroke-width="0.6" />
<line x1="273.40" y1="95.17" x2="275.00" y2="95.17" stroke="#666" stroke-width="0.6" />
<polygon points="113.7,95.2 113.7,96.2 114.2,95.9 114.7,95.6 115.2,96.0 115.7,95.8 116.2,95.6 116.7,95.4 117.2,96.1 117.7,95.6 118.2,95.3 118.7,95.4 119.2,95.3 119.7,95.3 120.2,95.9 120.7,95.7 121.2,95.6 121.7,95.6 122.2,95.6 122.7,95.8 123.2,95.9 123.7,95.4 124.2,95.7 124.7,96.0 125.2,95.7 125.7,95.3 126.2,95.2 126.7,95.2 127.2,94.7 127.7,93.9 128.2,92.7 128.7,93.3 129.2,94.4 129.7,95.9 130.2,96.0 130.7,95.3 131.2,95.6 131.7,95.4 132.2,95.6 132.7,95.8 133.2,95.5 133.7,95.6 134.2,95.1 134.7,95.1 135.2,94.4 135.7,94.1 136.2,94.5 136.7,94.7 137.2,95.0 137.7,95.3 138.2,95.0 138.7,95.6 139.2,95.2 139.7,95.9 140.2,96.0 140.7,96.2 141.2,95.8 141.7,95.3 142.2,95.5 142.7,95.2 143.2,94.8 143.7,94.8 144.2,94.5 144.7,94.7 145.2,95.1 145.7,96.0 146.2,95.3 146.7,95.6 147.2,96.0 147.7,96.2 148.2,95.8 148.7,95.9 149.2,96.2 149.7,95.7 150.2,95.4 150.7,95.3 151.2,95.5 151.7,94.9 152.2,94.8 152.7,94.0 153.2,94.3 153.7,94.5 154.2,94.9 154.7,94.6 155.2,95.7 155.7,96.0 156.2,95.5 156.7,95.6 157.2,95.4 157.7,95.5 158.2,95.9 158.7,95.3 159.2,95.7 159.7,95.7 160.2,94.8 160.7,94.7 161.2,94.9 161.7,95.0 162.2,94.9 162.7,95.7 163.2,95.7 163.7,95.3 164.2,96.1 164.7,95.6 165.2,95.7 165.7,96.1 166.2,95.4 166.7,96.1 167.2,95.7 167.7,95.9 168.2,95.7 168.7,95.9 169.2,95.6 169.7,95.9 170.2,95.8 170.7,95.9 171.2,95.4 171.7,96.0 172.2,95.4 172.7,96.0 173.2,95.7 173.7,95.8 174.2,95.6 174.7,95.4 175.2,96.1 175.7,96.0 176.2,96.2 176.7,96.0 177.2,95.8 177.7,95.8 178.2,96.1 178.7,96.1 179.2,96.0 179.7,95.4 180.2,95.0 180.7,94.7 181.2,93.9 181.7,94.5 182.2,95.1 182.7,95.2 183.2,95.3 183.7,95.6 184.2,95.8 184.7,95.4 185.2,95.9 185.7,95.2 186.2,95.2 186.7,95.3 187.2,95.8 187.7,95.4 188.2,95.9 188.7,95.5 189.2,95.9 189.7,95.7 190.2,95.5 190.7,96.2 191.2,96.2 191.7,96.1 192.2,95.6 192.7,95.7 193.2,95.4 193.7,95.9 194.2,95.6 194.7,95.9 195.2,95.9 195.7,96.2 196.2,95.8 196.7,95.7 197.2,96.1 197.7,95.4 198.2,95.3 198.7,95.6 199.2,95.3 199.7,96.1 200.2,95.7 200.7,96.0 201.2,95.3 201.7,95.6 202.2,95.9 202.7,95.2 203.2,95.9 203.7,96.0 204.2,95.9 204.7,95.4 205.2,95.8 205.7,95.9 206.2,95.8 206.7,96.1 207.2,95.7 207.7,95.5 208.2,96.2 208.7,95.8 209.2,95.8 209.7,95.7 210.2,95.7 210.7,95.1 211.2,94.8 211.7,94.6 212.2,95.1 212.7,95.0 213.2,96.0 213.7,95.4 214.2,96.0 214.7,95.8 215.2,95.3 215.7,95.5 216.2,95.9 216.7,96.1 217.2,95.5 217.7,95.1 218.2,94.9 218.7,95.3 219.2,94.9 219.7,95.1 220.2,95.9 220.7,96.0 221.2,95.4 221.7,95.7 222.2,95.3 222.7,95.6 223.2,95.2 223.7,95.5 224.2,94.7 224.7,93.9 225.2,94.0 225.7,94.4 226.2,95.0 226.7,95.2 227.2,95.7 227.7,95.9 228.2,96.1 228.7,95.7 229.2,95.6 229.7,95.6 230.2,95.7 230.7,95.2 231.2,95.1 231.7,95.8 232.2,95.2 232.7,95.3 233.2,95.5 233.7,95.5 234.2,95.3 234.7,95.6 235.2,94.4 235.7,93.8 236.2,94.1 236.7,94.3 237.2,94.9 237.7,95.8 238.2,95.9 238.7,95.4 239.2,95.4 239.7,95.3 240.2,95.6 240.7,95.3 241.2,95.9 241.7,95.4 242.2,95.7 242.7,95.7 243.2,95.2 243.7,94.6 244.2,93.1 244.7,91.5 245.2,91.5 245.7,93.2 246.2,94.7 246.7,95.6 247.2,95.8 247.7,95.6 248.2,96.2 248.7,96.1 249.2,95.8 249.7,95.5 250.2,96.0 250.7,95.5 251.2,95.8 251.7,96.0 252.2,95.6 252.7,95.4 253.2,95.7 253.7,95.4 254.2,96.2 254.7,96.1 255.2,95.8 255.7,95.5 256.2,95.5 256.7,96.1 257.2,96.0 257.7,95.8 258.2,94.9 258.7,94.9 259.2,95.5 259.7,95.8 260.2,95.4 260.7,95.8 261.2,96.0 261.7,95.6 262.2,96.0 262.7,95.3 263.2,95.9 263.7,96.1 264.2,96.0 264.7,96.2 265.2,95.9 265.7,95.8 266.2,95.9 266.7,95.5 267.2,95.2 267.7,95.5 268.2,95.4 268.7,95.1 269.2,94.4 269.7,93.2 270.2,93.9 270.7,94.6 271.2,95.9 271.7,95.3 272.2,95.5 272.7,95.4 273.2,95.7 273.4,95.2" fill="#9a9a9a" fill-opacity="0.82"/>
<polyline points="113.7,96.2 114.2,95.9 114.7,95.6 115.2,96.0 115.7,95.8 116.2,95.6 116.7,95.4 117.2,96.1 117.7,95.6 118.2,95.3 118.7,95.4 119.2,95.3 119.7,95.3 120.2,95.9 120.7,95.7 121.2,95.6 121.7,95.6 122.2,95.6 122.7,95.8 123.2,95.9 123.7,95.4 124.2,95.7 124.7,96.0 125.2,95.7 125.7,95.3 126.2,95.2 126.7,95.2 127.2,94.7 127.7,93.9 128.2,92.7 128.7,93.3 129.2,94.4 129.7,95.9 130.2,96.0 130.7,95.3 131.2,95.6 131.7,95.4 132.2,95.6 132.7,95.8 133.2,95.5 133.7,95.6 134.2,95.1 134.7,95.1 135.2,94.4 135.7,94.1 136.2,94.5 136.7,94.7 137.2,95.0 137.7,95.3 138.2,95.0 138.7,95.6 139.2,95.2 139.7,95.9 140.2,96.0 140.7,96.2 141.2,95.8 141.7,95.3 142.2,95.5 142.7,95.2 143.2,94.8 143.7,94.8 144.2,94.5 144.7,94.7 145.2,95.1 145.7,96.0 146.2,95.3 146.7,95.6 147.2,96.0 147.7,96.2 148.2,95.8 148.7,95.9 149.2,96.2 149.7,95.7 150.2,95.4 150.7,95.3 151.2,95.5 151.7,94.9 152.2,94.8 152.7,94.0 153.2,94.3 153.7,94.5 154.2,94.9 154.7,94.6 155.2,95.7 155.7,96.0 156.2,95.5 156.7,95.6 157.2,95.4 157.7,95.5 158.2,95.9 158.7,95.3 159.2,95.7 159.7,95.7 160.2,94.8 160.7,94.7 161.2,94.9 161.7,95.0 162.2,94.9 162.7,95.7 163.2,95.7 163.7,95.3 164.2,96.1 164.7,95.6 165.2,95.7 165.7,96.1 166.2,95.4 166.7,96.1 167.2,95.7 167.7,95.9 168.2,95.7 168.7,95.9 169.2,95.6 169.7,95.9 170.2,95.8 170.7,95.9 171.2,95.4 171.7,96.0 172.2,95.4 172.7,96.0 173.2,95.7 173.7,95.8 174.2,95.6 174.7,95.4 175.2,96.1 175.7,96.0 176.2,96.2 176.7,96.0 177.2,95.8 177.7,95.8 178.2,96.1 178.7,96.1 179.2,96.0 179.7,95.4 180.2,95.0 180.7,94.7 181.2,93.9 181.7,94.5 182.2,95.1 182.7,95.2 183.2,95.3 183.7,95.6 184.2,95.8 184.7,95.4 185.2,95.9 185.7,95.2 186.2,95.2 186.7,95.3 187.2,95.8 187.7,95.4 188.2,95.9 188.7,95.5 189.2,95.9 189.7,95.7 190.2,95.5 190.7,96.2 191.2,96.2 191.7,96.1 192.2,95.6 192.7,95.7 193.2,95.4 193.7,95.9 194.2,95.6 194.7,95.9 195.2,95.9 195.7,96.2 196.2,95.8 196.7,95.7 197.2,96.1 197.7,95.4 198.2,95.3 198.7,95.6 199.2,95.3 199.7,96.1 200.2,95.7 200.7,96.0 201.2,95.3 201.7,95.6 202.2,95.9 202.7,95.2 203.2,95.9 203.7,96.0 204.2,95.9 204.7,95.4 205.2,95.8 205.7,95.9 206.2,95.8 206.7,96.1 207.2,95.7 207.7,95.5 208.2,96.2 208.7,95.8 209.2,95.8 209.7,95.7 210.2,95.7 210.7,95.1 211.2,94.8 211.7,94.6 212.2,95.1 212.7,95.0 213.2,96.0 213.7,95.4 214.2,96.0 214.7,95.8 215.2,95.3 215.7,95.5 216.2,95.9 216.7,96.1 217.2,95.5 217.7,95.1 218.2,94.9 218.7,95.3 219.2,94.9 219.7,95.1 220.2,95.9 220.7,96.0 221.2,95.4 221.7,95.7 222.2,95.3 222.7,95.6 223.2,95.2 223.7,95.5 224.2,94.7 224.7,93.9 225.2,94.0 225.7,94.4 226.2,95.0 226.7,95.2 227.2,95.7 227.7,95.9 228.2,96.1 228.7,95.7 229.2,95.6 229.7,95.6 230.2,95.7 230.7,95.2 231.2,95.1 231.7,95.8 232.2,95.2 232.7,95.3 233.2,95.5 233.7,95.5 234.2,95.3 234.7,95.6 235.2,94.4 235.7,93.8 236.2,94.1 236.7,94.3 237.2,94.9 237.7,95.8 238.2,95.9 238.7,95.4 239.2,95.4 239.7,95.3 240.2,95.6 240.7,95.3 241.2,95.9 241.7,95.4 242.2,95.7 242.7,95.7 243.2,95.2 243.7,94.6 244.2,93.1 244.7,91.5 245.2,91.5 245.7,93.2 246.2,94.7 246.7,95.6 247.2,95.8 247.7,95.6 248.2,96.2 248.7,96.1 249.2,95.8 249.7,95.5 250.2,96.0 250.7,95.5 251.2,95.8 251.7,96.0 252.2,95.6 252.7,95.4 253.2,95.7 253.7,95.4 254.2,96.2 254.7,96.1 255.2,95.8 255.7,95.5 256.2,95.5 256.7,96.1 257.2,96.0 257.7,95.8 258.2,94.9 258.7,94.9 259.2,95.5 259.7,95.8 260.2,95.4 260.7,95.8 261.2,96.0 261.7,95.6 262.2,96.0 262.7,95.3 263.2,95.9 263.7,96.1 264.2,96.0 264.7,96.2 265.2,95.9 265.7,95.8 266.2,95.9 266.7,95.5 267.2,95.2 267.7,95.5 268.2,95.4 268.7,95.1 269.2,94.4 269.7,93.2 270.2,93.9 270.7,94.6 271.2,95.9 271.7,95.3 272.2,95.5 272.7,95.4 273.2,95.7" fill="none" stroke="#3e3e3e" stroke-width="0.6" stroke-opacity="0.95" stroke-linejoin="round"/>
<line x1="110.20" y1="103.68" x2="113.50" y2="103.68" stroke="#666" stroke-width="0.6" />
<line x1="273.40" y1="103.68" x2="275.00" y2="103.68" stroke="#666" stroke-width="0.6" />
<polygon points="113.7,103.7 113.7,104.6 114.2,104.4 114.7,104.8 115.2,104.9 115.7,104.7 116.2,104.2 116.7,103.3 117.2,102.6 117.7,101.9 118.2,101.4 118.7,101.9 119.2,103.2 119.7,103.6 120.2,102.3 120.7,101.2 121.2,100.4 121.7,101.2 122.2,102.0 122.7,101.7 123.2,102.1 123.7,102.7 124.2,102.6 124.7,101.6 125.2,101.1 125.7,101.4 126.2,101.9 126.7,102.4 127.2,103.4 127.7,103.9 128.2,104.0 128.7,104.9 129.2,104.6 129.7,104.5 130.2,104.6 130.7,104.9 131.2,104.2 131.7,105.0 132.2,104.3 132.7,103.5 133.2,103.7 133.7,102.4 134.2,102.2 134.7,100.8 135.2,100.9 135.7,101.2 136.2,100.0 136.7,101.4 137.2,101.4 137.7,101.7 138.2,102.2 138.7,103.1 139.2,103.5 139.7,104.1 140.2,104.6 140.7,104.2 141.2,104.0 141.7,103.2 142.2,102.8 142.7,101.8 143.2,102.1 143.7,101.9 144.2,101.2 144.7,101.8 145.2,103.2 145.7,103.7 146.2,104.4 146.7,104.1 147.2,103.3 147.7,102.1 148.2,100.6 148.7,102.0 149.2,102.7 149.7,103.2 150.2,103.9 150.7,104.6 151.2,104.2 151.7,104.4 152.2,104.5 152.7,104.5 153.2,104.7 153.7,104.5 154.2,104.5 154.7,104.9 155.2,104.3 155.7,104.8 156.2,104.7 156.7,103.8 157.2,103.4 157.7,102.3 158.2,100.9 158.7,103.0 159.2,103.6 159.7,103.9 160.2,103.9 160.7,104.3 161.2,104.4 161.7,104.8 162.2,104.7 162.7,104.6 163.2,104.1 163.7,103.1 164.2,101.7 164.7,101.4 165.2,100.1 165.7,101.7 166.2,102.2 166.7,103.4 167.2,104.6 167.7,104.8 168.2,104.4 168.7,105.0 169.2,105.2 169.7,105.1 170.2,105.1 170.7,104.5 171.2,104.7 171.7,105.1 172.2,105.0 172.7,104.4 173.2,104.4 173.7,104.2 174.2,103.6 174.7,102.8 175.2,100.9 175.7,100.3 176.2,99.7 176.7,101.7 177.2,102.1 177.7,101.1 178.2,101.1 178.7,102.6 179.2,103.0 179.7,104.0 180.2,104.7 180.7,104.5 181.2,104.4 181.7,104.1 182.2,103.0 182.7,101.4 183.2,101.6 183.7,102.6 184.2,102.9 184.7,103.3 185.2,102.8 185.7,103.3 186.2,103.4 186.7,103.2 187.2,102.1 187.7,101.1 188.2,100.5 188.7,101.8 189.2,103.8 189.7,104.7 190.2,104.0 190.7,104.3 191.2,103.9 191.7,104.3 192.2,104.1 192.7,104.4 193.2,105.0 193.7,104.4 194.2,104.5 194.7,103.4 195.2,103.0 195.7,100.9 196.2,101.1 196.7,102.7 197.2,104.2 197.7,104.9 198.2,104.3 198.7,105.0 199.2,104.5 199.7,105.1 200.2,104.9 200.7,104.4 201.2,104.2 201.7,103.2 202.2,102.5 202.7,101.6 203.2,101.0 203.7,102.1 204.2,101.9 204.7,100.6 205.2,100.1 205.7,102.5 206.2,103.6 206.7,104.1 207.2,104.1 207.7,104.1 208.2,104.8 208.7,104.6 209.2,105.0 209.7,104.4 210.2,105.1 210.7,104.9 211.2,105.0 211.7,104.5 212.2,103.9 212.7,102.6 213.2,102.2 213.7,101.3 214.2,99.3 214.7,98.8 215.2,97.7 215.7,100.8 216.2,103.1 216.7,104.0 217.2,103.9 217.7,104.3 218.2,104.4 218.7,104.7 219.2,104.6 219.7,104.8 220.2,104.7 220.7,104.4 221.2,104.6 221.7,104.7 222.2,104.8 222.7,105.1 223.2,104.9 223.7,105.0 224.2,104.6 224.7,104.6 225.2,104.2 225.7,104.2 226.2,103.3 226.7,101.6 227.2,101.5 227.7,102.7 228.2,104.0 228.7,104.1 229.2,104.7 229.7,104.5 230.2,105.2 230.7,104.5 231.2,104.6 231.7,104.7 232.2,104.6 232.7,104.6 233.2,103.6 233.7,103.2 234.2,103.0 234.7,102.8 235.2,102.9 235.7,103.3 236.2,103.3 236.7,104.2 237.2,104.4 237.7,105.0 238.2,104.9 238.7,105.0 239.2,104.6 239.7,104.6 240.2,104.3 240.7,105.1 241.2,105.2 241.7,104.4 242.2,105.1 242.7,105.1 243.2,104.8 243.7,104.6 244.2,103.5 244.7,101.9 245.2,101.1 245.7,103.1 246.2,103.5 246.7,104.4 247.2,104.0 247.7,105.1 248.2,104.6 248.7,104.7 249.2,104.2 249.7,103.0 250.2,103.3 250.7,104.0 251.2,104.4 251.7,104.7 252.2,104.3 252.7,104.3 253.2,104.6 253.7,103.9 254.2,102.1 254.7,100.0 255.2,100.1 255.7,101.5 256.2,102.7 256.7,103.5 257.2,104.7 257.7,104.3 258.2,104.5 258.7,104.9 259.2,104.8 259.7,104.5 260.2,104.2 260.7,104.0 261.2,103.1 261.7,101.2 262.2,102.2 262.7,103.6 263.2,104.0 263.7,104.4 264.2,104.1 264.7,104.3 265.2,104.4 265.7,104.4 266.2,104.3 266.7,103.6 267.2,101.9 267.7,99.4 268.2,98.7 268.7,99.7 269.2,102.4 269.7,102.8 270.2,103.8 270.7,102.7 271.2,102.2 271.7,101.2 272.2,102.0 272.7,103.0 273.2,104.5 273.4,103.7" fill="#a8a8a8" fill-opacity="0.82"/>
<polyline points="113.7,104.6 114.2,104.4 114.7,104.8 115.2,104.9 115.7,104.7 116.2,104.2 116.7,103.3 117.2,102.6 117.7,101.9 118.2,101.4 118.7,101.9 119.2,103.2 119.7,103.6 120.2,102.3 120.7,101.2 121.2,100.4 121.7,101.2 122.2,102.0 122.7,101.7 123.2,102.1 123.7,102.7 124.2,102.6 124.7,101.6 125.2,101.1 125.7,101.4 126.2,101.9 126.7,102.4 127.2,103.4 127.7,103.9 128.2,104.0 128.7,104.9 129.2,104.6 129.7,104.5 130.2,104.6 130.7,104.9 131.2,104.2 131.7,105.0 132.2,104.3 132.7,103.5 133.2,103.7 133.7,102.4 134.2,102.2 134.7,100.8 135.2,100.9 135.7,101.2 136.2,100.0 136.7,101.4 137.2,101.4 137.7,101.7 138.2,102.2 138.7,103.1 139.2,103.5 139.7,104.1 140.2,104.6 140.7,104.2 141.2,104.0 141.7,103.2 142.2,102.8 142.7,101.8 143.2,102.1 143.7,101.9 144.2,101.2 144.7,101.8 145.2,103.2 145.7,103.7 146.2,104.4 146.7,104.1 147.2,103.3 147.7,102.1 148.2,100.6 148.7,102.0 149.2,102.7 149.7,103.2 150.2,103.9 150.7,104.6 151.2,104.2 151.7,104.4 152.2,104.5 152.7,104.5 153.2,104.7 153.7,104.5 154.2,104.5 154.7,104.9 155.2,104.3 155.7,104.8 156.2,104.7 156.7,103.8 157.2,103.4 157.7,102.3 158.2,100.9 158.7,103.0 159.2,103.6 159.7,103.9 160.2,103.9 160.7,104.3 161.2,104.4 161.7,104.8 162.2,104.7 162.7,104.6 163.2,104.1 163.7,103.1 164.2,101.7 164.7,101.4 165.2,100.1 165.7,101.7 166.2,102.2 166.7,103.4 167.2,104.6 167.7,104.8 168.2,104.4 168.7,105.0 169.2,105.2 169.7,105.1 170.2,105.1 170.7,104.5 171.2,104.7 171.7,105.1 172.2,105.0 172.7,104.4 173.2,104.4 173.7,104.2 174.2,103.6 174.7,102.8 175.2,100.9 175.7,100.3 176.2,99.7 176.7,101.7 177.2,102.1 177.7,101.1 178.2,101.1 178.7,102.6 179.2,103.0 179.7,104.0 180.2,104.7 180.7,104.5 181.2,104.4 181.7,104.1 182.2,103.0 182.7,101.4 183.2,101.6 183.7,102.6 184.2,102.9 184.7,103.3 185.2,102.8 185.7,103.3 186.2,103.4 186.7,103.2 187.2,102.1 187.7,101.1 188.2,100.5 188.7,101.8 189.2,103.8 189.7,104.7 190.2,104.0 190.7,104.3 191.2,103.9 191.7,104.3 192.2,104.1 192.7,104.4 193.2,105.0 193.7,104.4 194.2,104.5 194.7,103.4 195.2,103.0 195.7,100.9 196.2,101.1 196.7,102.7 197.2,104.2 197.7,104.9 198.2,104.3 198.7,105.0 199.2,104.5 199.7,105.1 200.2,104.9 200.7,104.4 201.2,104.2 201.7,103.2 202.2,102.5 202.7,101.6 203.2,101.0 203.7,102.1 204.2,101.9 204.7,100.6 205.2,100.1 205.7,102.5 206.2,103.6 206.7,104.1 207.2,104.1 207.7,104.1 208.2,104.8 208.7,104.6 209.2,105.0 209.7,104.4 210.2,105.1 210.7,104.9 211.2,105.0 211.7,104.5 212.2,103.9 212.7,102.6 213.2,102.2 213.7,101.3 214.2,99.3 214.7,98.8 215.2,97.7 215.7,100.8 216.2,103.1 216.7,104.0 217.2,103.9 217.7,104.3 218.2,104.4 218.7,104.7 219.2,104.6 219.7,104.8 220.2,104.7 220.7,104.4 221.2,104.6 221.7,104.7 222.2,104.8 222.7,105.1 223.2,104.9 223.7,105.0 224.2,104.6 224.7,104.6 225.2,104.2 225.7,104.2 226.2,103.3 226.7,101.6 227.2,101.5 227.7,102.7 228.2,104.0 228.7,104.1 229.2,104.7 229.7,104.5 230.2,105.2 230.7,104.5 231.2,104.6 231.7,104.7 232.2,104.6 232.7,104.6 233.2,103.6 233.7,103.2 234.2,103.0 234.7,102.8 235.2,102.9 235.7,103.3 236.2,103.3 236.7,104.2 237.2,104.4 237.7,105.0 238.2,104.9 238.7,105.0 239.2,104.6 239.7,104.6 240.2,104.3 240.7,105.1 241.2,105.2 241.7,104.4 242.2,105.1 242.7,105.1 243.2,104.8 243.7,104.6 244.2,103.5 244.7,101.9 245.2,101.1 245.7,103.1 246.2,103.5 246.7,104.4 247.2,104.0 247.7,105.1 248.2,104.6 248.7,104.7 249.2,104.2 249.7,103.0 250.2,103.3 250.7,104.0 251.2,104.4 251.7,104.7 252.2,104.3 252.7,104.3 253.2,104.6 253.7,103.9 254.2,102.1 254.7,100.0 255.2,100.1 255.7,101.5 256.2,102.7 256.7,103.5 257.2,104.7 257.7,104.3 258.2,104.5 258.7,104.9 259.2,104.8 259.7,104.5 260.2,104.2 260.7,104.0 261.2,103.1 261.7,101.2 262.2,102.2 262.7,103.6 263.2,104.0 263.7,104.4 264.2,104.1 264.7,104.3 265.2,104.4 265.7,104.4 266.2,104.3 266.7,103.6 267.2,101.9 267.7,99.4 268.2,98.7 268.7,99.7 269.2,102.4 269.7,102.8 270.2,103.8 270.7,102.7 271.2,102.2 271.7,101.2 272.2,102.0 272.7,103.0 273.2,104.5" fill="none" stroke="#3e3e3e" stroke-width="0.6" stroke-opacity="0.95" stroke-linejoin="round"/>
<line x1="110.20" y1="112.19" x2="113.50" y2="112.19" stroke="#666" stroke-width="0.6" />
<line x1="273.40" y1="112.19" x2="275.00" y2="112.19" stroke="#666" stroke-width="0.6" />
<polygon points="113.7,112.2 113.7,112.5 114.2,113.4 114.7,112.7 115.2,112.8 115.7,113.1 116.2,113.1 116.7,112.9 117.2,113.2 117.7,113.0 118.2,112.4 118.7,112.6 119.2,112.0 119.7,111.0 120.2,109.3 120.7,108.1 121.2,109.0 121.7,111.5 122.2,112.2 122.7,113.2 123.2,113.3 123.7,113.2 124.2,113.0 124.7,112.4 125.2,113.2 125.7,112.8 126.2,113.2 126.7,113.3 127.2,112.5 127.7,112.6 128.2,112.3 128.7,112.0 129.2,112.5 129.7,112.0 130.2,112.0 130.7,112.5 131.2,112.5 131.7,112.2 132.2,112.8 132.7,113.0 133.2,113.1 133.7,113.2 134.2,112.7 134.7,112.9 135.2,113.0 135.7,112.8 136.2,113.4 136.7,112.8 137.2,113.0 137.7,112.8 138.2,112.9 138.7,112.5 139.2,111.8 139.7,111.0 140.2,110.1 140.7,109.9 141.2,109.5 141.7,109.8 142.2,111.0 142.7,112.2 143.2,111.9 143.7,112.7 144.2,112.4 144.7,112.4 145.2,113.1 145.7,113.1 146.2,112.7 146.7,113.0 147.2,113.0 147.7,113.0 148.2,113.2 148.7,113.3 149.2,113.3 149.7,113.1 150.2,113.3 150.7,113.3 151.2,113.0 151.7,112.6 152.2,112.5 152.7,113.0 153.2,113.2 153.7,113.4 154.2,113.3 154.7,112.8 155.2,112.5 155.7,113.1 156.2,113.0 156.7,112.9 157.2,112.2 157.7,112.2 158.2,111.9 158.7,111.5 159.2,111.9 159.7,112.6 160.2,113.1 160.7,113.3 161.2,112.7 161.7,113.4 162.2,112.7 162.7,113.4 163.2,112.8 163.7,113.1 164.2,113.3 164.7,112.7 165.2,112.9 165.7,113.4 166.2,113.3 166.7,113.3 167.2,112.6 167.7,113.2 168.2,112.7 168.7,112.4 169.2,113.0 169.7,112.7 170.2,113.0 170.7,113.0 171.2,112.3 171.7,112.6 172.2,113.1 172.7,112.6 173.2,112.6 173.7,112.8 174.2,112.9 174.7,112.1 175.2,111.8 175.7,111.9 176.2,111.5 176.7,111.7 177.2,109.3 177.7,102.3 178.2,92.8 178.7,102.1 179.2,109.8 179.7,113.0 180.2,112.9 180.7,112.9 181.2,112.6 181.7,113.0 182.2,112.4 182.7,112.6 183.2,112.4 183.7,112.1 184.2,111.0 184.7,109.3 185.2,108.5 185.7,108.8 186.2,110.8 186.7,111.6 187.2,111.9 187.7,112.5 188.2,112.9 188.7,113.3 189.2,112.7 189.7,113.1 190.2,113.2 190.7,112.8 191.2,112.8 191.7,113.2 192.2,113.3 192.7,113.4 193.2,112.7 193.7,112.9 194.2,113.1 194.7,113.1 195.2,112.8 195.7,112.3 196.2,112.2 196.7,112.3 197.2,111.6 197.7,111.2 198.2,112.1 198.7,111.6 199.2,112.1 199.7,112.2 200.2,112.3 200.7,112.5 201.2,111.5 201.7,111.9 202.2,111.9 202.7,112.0 203.2,111.3 203.7,111.4 204.2,112.1 204.7,111.1 205.2,109.0 205.7,106.9 206.2,109.1 206.7,111.2 207.2,112.4 207.7,113.0 208.2,112.6 208.7,112.9 209.2,112.8 209.7,112.8 210.2,112.8 210.7,112.8 211.2,112.1 211.7,110.7 212.2,110.8 212.7,110.9 213.2,111.9 213.7,112.2 214.2,112.9 214.7,112.9 215.2,113.3 215.7,113.3 216.2,112.5 216.7,113.1 217.2,113.4 217.7,113.1 218.2,112.9 218.7,112.2 219.2,112.6 219.7,112.1 220.2,112.6 220.7,112.2 221.2,112.9 221.7,113.0 222.2,113.1 222.7,112.6 223.2,112.5 223.7,112.4 224.2,111.8 224.7,110.4 225.2,110.0 225.7,110.7 226.2,112.2 226.7,112.7 227.2,112.5 227.7,112.6 228.2,113.2 228.7,112.8 229.2,112.7 229.7,113.0 230.2,112.8 230.7,112.5 231.2,113.0 231.7,112.7 232.2,112.9 232.7,113.2 233.2,112.9 233.7,112.6 234.2,112.5 234.7,112.8 235.2,113.0 235.7,112.4 236.2,113.2 236.7,113.1 237.2,113.0 237.7,112.8 238.2,112.4 238.7,112.5 239.2,113.4 239.7,112.6 240.2,112.7 240.7,113.2 241.2,113.2 241.7,113.1 242.2,112.9 242.7,112.7 243.2,113.3 243.7,113.2 244.2,112.4 244.7,112.9 245.2,111.2 245.7,110.1 246.2,110.0 246.7,111.5 247.2,112.1 247.7,112.7 248.2,112.4 248.7,112.6 249.2,113.1 249.7,112.7 250.2,112.3 250.7,111.7 251.2,108.7 251.7,105.7 252.2,106.2 252.7,109.8 253.2,111.6 253.7,113.0 254.2,112.5 254.7,113.3 255.2,112.7 255.7,112.6 256.2,113.0 256.7,112.8 257.2,112.9 257.7,112.7 258.2,112.3 258.7,112.1 259.2,110.9 259.7,111.3 260.2,110.9 260.7,112.2 261.2,112.3 261.7,112.5 262.2,112.8 262.7,112.7 263.2,112.6 263.7,113.0 264.2,113.1 264.7,112.8 265.2,112.7 265.7,113.3 266.2,112.6 266.7,112.7 267.2,113.1 267.7,112.6 268.2,112.6 268.7,113.1 269.2,113.2 269.7,112.7 270.2,112.4 270.7,111.5 271.2,111.0 271.7,110.3 272.2,111.4 272.7,111.6 273.2,112.0 273.4,112.2" fill="#d9474f" fill-opacity="0.82"/>
<polyline points="113.7,112.5 114.2,113.4 114.7,112.7 115.2,112.8 115.7,113.1 116.2,113.1 116.7,112.9 117.2,113.2 117.7,113.0 118.2,112.4 118.7,112.6 119.2,112.0 119.7,111.0 120.2,109.3 120.7,108.1 121.2,109.0 121.7,111.5 122.2,112.2 122.7,113.2 123.2,113.3 123.7,113.2 124.2,113.0 124.7,112.4 125.2,113.2 125.7,112.8 126.2,113.2 126.7,113.3 127.2,112.5 127.7,112.6 128.2,112.3 128.7,112.0 129.2,112.5 129.7,112.0 130.2,112.0 130.7,112.5 131.2,112.5 131.7,112.2 132.2,112.8 132.7,113.0 133.2,113.1 133.7,113.2 134.2,112.7 134.7,112.9 135.2,113.0 135.7,112.8 136.2,113.4 136.7,112.8 137.2,113.0 137.7,112.8 138.2,112.9 138.7,112.5 139.2,111.8 139.7,111.0 140.2,110.1 140.7,109.9 141.2,109.5 141.7,109.8 142.2,111.0 142.7,112.2 143.2,111.9 143.7,112.7 144.2,112.4 144.7,112.4 145.2,113.1 145.7,113.1 146.2,112.7 146.7,113.0 147.2,113.0 147.7,113.0 148.2,113.2 148.7,113.3 149.2,113.3 149.7,113.1 150.2,113.3 150.7,113.3 151.2,113.0 151.7,112.6 152.2,112.5 152.7,113.0 153.2,113.2 153.7,113.4 154.2,113.3 154.7,112.8 155.2,112.5 155.7,113.1 156.2,113.0 156.7,112.9 157.2,112.2 157.7,112.2 158.2,111.9 158.7,111.5 159.2,111.9 159.7,112.6 160.2,113.1 160.7,113.3 161.2,112.7 161.7,113.4 162.2,112.7 162.7,113.4 163.2,112.8 163.7,113.1 164.2,113.3 164.7,112.7 165.2,112.9 165.7,113.4 166.2,113.3 166.7,113.3 167.2,112.6 167.7,113.2 168.2,112.7 168.7,112.4 169.2,113.0 169.7,112.7 170.2,113.0 170.7,113.0 171.2,112.3 171.7,112.6 172.2,113.1 172.7,112.6 173.2,112.6 173.7,112.8 174.2,112.9 174.7,112.1 175.2,111.8 175.7,111.9 176.2,111.5 176.7,111.7 177.2,109.3 177.7,102.3 178.2,92.8 178.7,102.1 179.2,109.8 179.7,113.0 180.2,112.9 180.7,112.9 181.2,112.6 181.7,113.0 182.2,112.4 182.7,112.6 183.2,112.4 183.7,112.1 184.2,111.0 184.7,109.3 185.2,108.5 185.7,108.8 186.2,110.8 186.7,111.6 187.2,111.9 187.7,112.5 188.2,112.9 188.7,113.3 189.2,112.7 189.7,113.1 190.2,113.2 190.7,112.8 191.2,112.8 191.7,113.2 192.2,113.3 192.7,113.4 193.2,112.7 193.7,112.9 194.2,113.1 194.7,113.1 195.2,112.8 195.7,112.3 196.2,112.2 196.7,112.3 197.2,111.6 197.7,111.2 198.2,112.1 198.7,111.6 199.2,112.1 199.7,112.2 200.2,112.3 200.7,112.5 201.2,111.5 201.7,111.9 202.2,111.9 202.7,112.0 203.2,111.3 203.7,111.4 204.2,112.1 204.7,111.1 205.2,109.0 205.7,106.9 206.2,109.1 206.7,111.2 207.2,112.4 207.7,113.0 208.2,112.6 208.7,112.9 209.2,112.8 209.7,112.8 210.2,112.8 210.7,112.8 211.2,112.1 211.7,110.7 212.2,110.8 212.7,110.9 213.2,111.9 213.7,112.2 214.2,112.9 214.7,112.9 215.2,113.3 215.7,113.3 216.2,112.5 216.7,113.1 217.2,113.4 217.7,113.1 218.2,112.9 218.7,112.2 219.2,112.6 219.7,112.1 220.2,112.6 220.7,112.2 221.2,112.9 221.7,113.0 222.2,113.1 222.7,112.6 223.2,112.5 223.7,112.4 224.2,111.8 224.7,110.4 225.2,110.0 225.7,110.7 226.2,112.2 226.7,112.7 227.2,112.5 227.7,112.6 228.2,113.2 228.7,112.8 229.2,112.7 229.7,113.0 230.2,112.8 230.7,112.5 231.2,113.0 231.7,112.7 232.2,112.9 232.7,113.2 233.2,112.9 233.7,112.6 234.2,112.5 234.7,112.8 235.2,113.0 235.7,112.4 236.2,113.2 236.7,113.1 237.2,113.0 237.7,112.8 238.2,112.4 238.7,112.5 239.2,113.4 239.7,112.6 240.2,112.7 240.7,113.2 241.2,113.2 241.7,113.1 242.2,112.9 242.7,112.7 243.2,113.3 243.7,113.2 244.2,112.4 244.7,112.9 245.2,111.2 245.7,110.1 246.2,110.0 246.7,111.5 247.2,112.1 247.7,112.7 248.2,112.4 248.7,112.6 249.2,113.1 249.7,112.7 250.2,112.3 250.7,111.7 251.2,108.7 251.7,105.7 252.2,106.2 252.7,109.8 253.2,111.6 253.7,113.0 254.2,112.5 254.7,113.3 255.2,112.7 255.7,112.6 256.2,113.0 256.7,112.8 257.2,112.9 257.7,112.7 258.2,112.3 258.7,112.1 259.2,110.9 259.7,111.3 260.2,110.9 260.7,112.2 261.2,112.3 261.7,112.5 262.2,112.8 262.7,112.7 263.2,112.6 263.7,113.0 264.2,113.1 264.7,112.8 265.2,112.7 265.7,113.3 266.2,112.6 266.7,112.7 267.2,113.1 267.7,112.6 268.2,112.6 268.7,113.1 269.2,113.2 269.7,112.7 270.2,112.4 270.7,111.5 271.2,111.0 271.7,110.3 272.2,111.4 272.7,111.6 273.2,112.0" fill="none" stroke="#4a1e20" stroke-width="0.6" stroke-opacity="0.95" stroke-linejoin="round"/>
<line x1="110.20" y1="120.70" x2="113.50" y2="120.70" stroke="#666" stroke-width="0.6" />
<line x1="273.40" y1="120.70" x2="275.00" y2="120.70" stroke="#666" stroke-width="0.6" />
<polygon points="113.7,120.7 113.7,122.1 114.2,122.0 114.7,122.0 115.2,121.3 115.7,121.6 116.2,121.2 116.7,121.3 117.2,121.2 117.7,121.6 118.2,121.9 118.7,121.6 119.2,121.2 119.7,120.1 120.2,120.1 120.7,118.9 121.2,118.4 121.7,118.1 122.2,118.2 122.7,119.7 123.2,121.3 123.7,121.4 124.2,121.3 124.7,121.5 125.2,121.1 125.7,121.1 126.2,121.1 126.7,121.4 127.2,121.9 127.7,121.1 128.2,121.2 128.7,121.7 129.2,121.0 129.7,121.3 130.2,121.6 130.7,121.5 131.2,121.2 131.7,121.1 132.2,121.1 132.7,121.2 133.2,121.9 133.7,121.6 134.2,121.4 134.7,121.7 135.2,121.2 135.7,121.0 136.2,121.3 136.7,120.9 137.2,121.7 137.7,120.9 138.2,121.1 138.7,120.6 139.2,120.6 139.7,121.1 140.2,120.4 140.7,121.1 141.2,121.2 141.7,120.7 142.2,121.7 142.7,120.9 143.2,121.6 143.7,121.8 144.2,121.2 144.7,121.0 145.2,120.7 145.7,120.6 146.2,120.5 146.7,120.2 147.2,119.7 147.7,119.1 148.2,118.8 148.7,119.7 149.2,120.8 149.7,120.8 150.2,121.4 150.7,121.2 151.2,121.8 151.7,121.0 152.2,121.2 152.7,120.7 153.2,120.6 153.7,120.2 154.2,120.8 154.7,121.7 155.2,121.3 155.7,121.1 156.2,120.7 156.7,121.1 157.2,121.6 157.7,121.5 158.2,121.8 158.7,121.4 159.2,120.7 159.7,121.1 160.2,120.2 160.7,119.5 161.2,119.1 161.7,120.2 162.2,120.5 162.7,121.0 163.2,121.3 163.7,121.2 164.2,121.3 164.7,120.9 165.2,121.5 165.7,121.1 166.2,121.2 166.7,121.8 167.2,121.5 167.7,121.3 168.2,121.5 168.7,121.2 169.2,121.7 169.7,122.0 170.2,121.8 170.7,121.8 171.2,121.5 171.7,121.8 172.2,121.3 172.7,121.0 173.2,121.1 173.7,121.0 174.2,121.1 174.7,121.0 175.2,121.0 175.7,121.6 176.2,121.2 176.7,121.2 177.2,121.0 177.7,121.4 178.2,120.7 178.7,121.0 179.2,120.0 179.7,119.4 180.2,119.5 180.7,118.8 181.2,120.2 181.7,120.9 182.2,121.3 182.7,121.1 183.2,121.6 183.7,121.0 184.2,121.6 184.7,121.7 185.2,121.6 185.7,121.2 186.2,121.3 186.7,121.5 187.2,121.2 187.7,121.8 188.2,121.7 188.7,121.4 189.2,121.2 189.7,121.4 190.2,121.7 190.7,121.2 191.2,119.7 191.7,111.8 192.2,101.6 192.7,107.5 193.2,116.0 193.7,120.1 194.2,119.3 194.7,118.6 195.2,119.0 195.7,120.2 196.2,120.5 196.7,120.4 197.2,120.8 197.7,120.4 198.2,120.1 198.7,120.1 199.2,120.9 199.7,120.5 200.2,121.4 200.7,120.9 201.2,121.8 201.7,121.4 202.2,121.6 202.7,121.1 203.2,121.1 203.7,121.7 204.2,121.6 204.7,121.7 205.2,121.5 205.7,121.7 206.2,121.9 206.7,121.8 207.2,121.7 207.7,121.5 208.2,121.4 208.7,121.7 209.2,121.7 209.7,121.3 210.2,121.4 210.7,121.0 211.2,121.6 211.7,121.5 212.2,121.3 212.7,121.8 213.2,121.3 213.7,120.7 214.2,120.7 214.7,120.4 215.2,120.8 215.7,120.7 216.2,121.6 216.7,121.6 217.2,121.6 217.7,121.6 218.2,121.6 218.7,121.3 219.2,121.0 219.7,121.5 220.2,121.2 220.7,121.9 221.2,121.1 221.7,121.7 222.2,121.5 222.7,121.4 223.2,121.3 223.7,121.3 224.2,121.6 224.7,121.6 225.2,121.2 225.7,121.7 226.2,121.7 226.7,121.1 227.2,119.7 227.7,117.2 228.2,116.2 228.7,118.0 229.2,120.7 229.7,121.7 230.2,121.3 230.7,121.0 231.2,121.4 231.7,121.6 232.2,121.1 232.7,121.2 233.2,121.8 233.7,121.7 234.2,121.2 234.7,121.2 235.2,121.7 235.7,121.4 236.2,121.6 236.7,121.3 237.2,120.6 237.7,120.8 238.2,120.1 238.7,120.8 239.2,121.2 239.7,120.4 240.2,120.1 240.7,118.6 241.2,118.0 241.7,119.8 242.2,121.1 242.7,121.2 243.2,120.9 243.7,121.1 244.2,121.2 244.7,121.5 245.2,121.0 245.7,121.5 246.2,121.3 246.7,121.5 247.2,121.9 247.7,121.9 248.2,121.2 248.7,121.6 249.2,121.1 249.7,120.7 250.2,120.9 250.7,121.2 251.2,120.8 251.7,121.3 252.2,121.2 252.7,120.2 253.2,120.8 253.7,120.7 254.2,121.6 254.7,121.2 255.2,121.6 255.7,121.6 256.2,121.9 256.7,121.5 257.2,121.1 257.7,121.3 258.2,121.7 258.7,121.2 259.2,120.7 259.7,121.0 260.2,121.0 260.7,121.3 261.2,121.6 261.7,121.6 262.2,121.1 262.7,120.8 263.2,120.3 263.7,120.8 264.2,120.7 264.7,120.5 265.2,120.1 265.7,118.8 266.2,119.5 266.7,120.7 267.2,121.4 267.7,121.0 268.2,121.4 268.7,119.8 269.2,117.8 269.7,115.4 270.2,116.4 270.7,118.5 271.2,119.9 271.7,120.6 272.2,120.5 272.7,120.6 273.2,121.8 273.4,120.7" fill="#a0529a" fill-opacity="0.82"/>
<polyline points="113.7,122.1 114.2,122.0 114.7,122.0 115.2,121.3 115.7,121.6 116.2,121.2 116.7,121.3 117.2,121.2 117.7,121.6 118.2,121.9 118.7,121.6 119.2,121.2 119.7,120.1 120.2,120.1 120.7,118.9 121.2,118.4 121.7,118.1 122.2,118.2 122.7,119.7 123.2,121.3 123.7,121.4 124.2,121.3 124.7,121.5 125.2,121.1 125.7,121.1 126.2,121.1 126.7,121.4 127.2,121.9 127.7,121.1 128.2,121.2 128.7,121.7 129.2,121.0 129.7,121.3 130.2,121.6 130.7,121.5 131.2,121.2 131.7,121.1 132.2,121.1 132.7,121.2 133.2,121.9 133.7,121.6 134.2,121.4 134.7,121.7 135.2,121.2 135.7,121.0 136.2,121.3 136.7,120.9 137.2,121.7 137.7,120.9 138.2,121.1 138.7,120.6 139.2,120.6 139.7,121.1 140.2,120.4 140.7,121.1 141.2,121.2 141.7,120.7 142.2,121.7 142.7,120.9 143.2,121.6 143.7,121.8 144.2,121.2 144.7,121.0 145.2,120.7 145.7,120.6 146.2,120.5 146.7,120.2 147.2,119.7 147.7,119.1 148.2,118.8 148.7,119.7 149.2,120.8 149.7,120.8 150.2,121.4 150.7,121.2 151.2,121.8 151.7,121.0 152.2,121.2 152.7,120.7 153.2,120.6 153.7,120.2 154.2,120.8 154.7,121.7 155.2,121.3 155.7,121.1 156.2,120.7 156.7,121.1 157.2,121.6 157.7,121.5 158.2,121.8 158.7,121.4 159.2,120.7 159.7,121.1 160.2,120.2 160.7,119.5 161.2,119.1 161.7,120.2 162.2,120.5 162.7,121.0 163.2,121.3 163.7,121.2 164.2,121.3 164.7,120.9 165.2,121.5 165.7,121.1 166.2,121.2 166.7,121.8 167.2,121.5 167.7,121.3 168.2,121.5 168.7,121.2 169.2,121.7 169.7,122.0 170.2,121.8 170.7,121.8 171.2,121.5 171.7,121.8 172.2,121.3 172.7,121.0 173.2,121.1 173.7,121.0 174.2,121.1 174.7,121.0 175.2,121.0 175.7,121.6 176.2,121.2 176.7,121.2 177.2,121.0 177.7,121.4 178.2,120.7 178.7,121.0 179.2,120.0 179.7,119.4 180.2,119.5 180.7,118.8 181.2,120.2 181.7,120.9 182.2,121.3 182.7,121.1 183.2,121.6 183.7,121.0 184.2,121.6 184.7,121.7 185.2,121.6 185.7,121.2 186.2,121.3 186.7,121.5 187.2,121.2 187.7,121.8 188.2,121.7 188.7,121.4 189.2,121.2 189.7,121.4 190.2,121.7 190.7,121.2 191.2,119.7 191.7,111.8 192.2,101.6 192.7,107.5 193.2,116.0 193.7,120.1 194.2,119.3 194.7,118.6 195.2,119.0 195.7,120.2 196.2,120.5 196.7,120.4 197.2,120.8 197.7,120.4 198.2,120.1 198.7,120.1 199.2,120.9 199.7,120.5 200.2,121.4 200.7,120.9 201.2,121.8 201.7,121.4 202.2,121.6 202.7,121.1 203.2,121.1 203.7,121.7 204.2,121.6 204.7,121.7 205.2,121.5 205.7,121.7 206.2,121.9 206.7,121.8 207.2,121.7 207.7,121.5 208.2,121.4 208.7,121.7 209.2,121.7 209.7,121.3 210.2,121.4 210.7,121.0 211.2,121.6 211.7,121.5 212.2,121.3 212.7,121.8 213.2,121.3 213.7,120.7 214.2,120.7 214.7,120.4 215.2,120.8 215.7,120.7 216.2,121.6 216.7,121.6 217.2,121.6 217.7,121.6 218.2,121.6 218.7,121.3 219.2,121.0 219.7,121.5 220.2,121.2 220.7,121.9 221.2,121.1 221.7,121.7 222.2,121.5 222.7,121.4 223.2,121.3 223.7,121.3 224.2,121.6 224.7,121.6 225.2,121.2 225.7,121.7 226.2,121.7 226.7,121.1 227.2,119.7 227.7,117.2 228.2,116.2 228.7,118.0 229.2,120.7 229.7,121.7 230.2,121.3 230.7,121.0 231.2,121.4 231.7,121.6 232.2,121.1 232.7,121.2 233.2,121.8 233.7,121.7 234.2,121.2 234.7,121.2 235.2,121.7 235.7,121.4 236.2,121.6 236.7,121.3 237.2,120.6 237.7,120.8 238.2,120.1 238.7,120.8 239.2,121.2 239.7,120.4 240.2,120.1 240.7,118.6 241.2,118.0 241.7,119.8 242.2,121.1 242.7,121.2 243.2,120.9 243.7,121.1 244.2,121.2 244.7,121.5 245.2,121.0 245.7,121.5 246.2,121.3 246.7,121.5 247.2,121.9 247.7,121.9 248.2,121.2 248.7,121.6 249.2,121.1 249.7,120.7 250.2,120.9 250.7,121.2 251.2,120.8 251.7,121.3 252.2,121.2 252.7,120.2 253.2,120.8 253.7,120.7 254.2,121.6 254.7,121.2 255.2,121.6 255.7,121.6 256.2,121.9 256.7,121.5 257.2,121.1 257.7,121.3 258.2,121.7 258.7,121.2 259.2,120.7 259.7,121.0 260.2,121.0 260.7,121.3 261.2,121.6 261.7,121.6 262.2,121.1 262.7,120.8 263.2,120.3 263.7,120.8 264.2,120.7 264.7,120.5 265.2,120.1 265.7,118.8 266.2,119.5 266.7,120.7 267.2,121.4 267.7,121.0 268.2,121.4 268.7,119.8 269.2,117.8 269.7,115.4 270.2,116.4 270.7,118.5 271.2,119.9 271.7,120.6 272.2,120.5 272.7,120.6 273.2,121.8" fill="none" stroke="#3d223d" stroke-width="0.6" stroke-opacity="0.95" stroke-linejoin="round"/>
<line x1="110.20" y1="129.21" x2="113.50" y2="129.21" stroke="#666" stroke-width="0.6" />
<line x1="273.40" y1="129.21" x2="275.00" y2="129.21" stroke="#666" stroke-width="0.6" />
<polygon points="113.7,129.2 113.7,130.4 114.2,130.1 114.7,130.3 115.2,130.1 115.7,130.1 116.2,129.6 116.7,129.8 117.2,130.0 117.7,130.2 118.2,130.6 118.7,130.0 119.2,129.7 119.7,128.7 120.2,127.0 120.7,125.5 121.2,126.1 121.7,127.9 122.2,129.1 122.7,129.6 123.2,130.0 123.7,129.2 124.2,127.8 124.7,126.6 125.2,125.8 125.7,127.8 126.2,129.5 126.7,129.7 127.2,129.7 127.7,130.0 128.2,130.3 128.7,129.2 129.2,129.2 129.7,128.5 130.2,129.5 130.7,129.4 131.2,129.6 131.7,129.3 132.2,128.7 132.7,127.0 133.2,127.2 133.7,128.2 134.2,129.8 134.7,130.3 135.2,130.3 135.7,129.9 136.2,129.8 136.7,130.1 137.2,129.8 137.7,129.5 138.2,130.0 138.7,129.7 139.2,129.1 139.7,128.4 140.2,127.2 140.7,126.3 141.2,127.7 141.7,128.0 142.2,129.3 142.7,129.6 143.2,130.6 143.7,130.1 144.2,130.2 144.7,129.8 145.2,128.6 145.7,127.2 146.2,126.6 146.7,128.0 147.2,129.0 147.7,129.9 148.2,129.7 148.7,129.2 149.2,129.1 149.7,128.2 150.2,126.4 150.7,125.9 151.2,126.2 151.7,125.3 152.2,126.6 152.7,127.3 153.2,128.2 153.7,129.6 154.2,130.0 154.7,130.2 155.2,129.7 155.7,130.3 156.2,130.3 156.7,129.7 157.2,129.6 157.7,129.5 158.2,129.9 158.7,129.8 159.2,129.5 159.7,130.0 160.2,128.3 160.7,126.9 161.2,127.1 161.7,128.1 162.2,129.8 162.7,129.8 163.2,130.0 163.7,130.0 164.2,129.7 164.7,130.4 165.2,130.3 165.7,130.4 166.2,130.6 166.7,129.7 167.2,130.3 167.7,130.1 168.2,130.7 168.7,130.8 169.2,130.0 169.7,130.3 170.2,129.7 170.7,128.6 171.2,127.8 171.7,126.7 172.2,127.5 172.7,128.5 173.2,128.9 173.7,129.5 174.2,129.2 174.7,128.3 175.2,127.3 175.7,127.4 176.2,128.1 176.7,128.5 177.2,129.1 177.7,129.7 178.2,130.0 178.7,130.6 179.2,130.5 179.7,129.9 180.2,130.3 180.7,130.5 181.2,130.8 181.7,130.5 182.2,130.7 182.7,130.1 183.2,130.2 183.7,130.0 184.2,129.4 184.7,129.6 185.2,129.1 185.7,128.7 186.2,128.3 186.7,128.1 187.2,128.0 187.7,128.9 188.2,129.3 188.7,129.4 189.2,129.7 189.7,130.3 190.2,129.7 190.7,129.5 191.2,130.0 191.7,129.7 192.2,128.9 192.7,128.6 193.2,129.4 193.7,129.5 194.2,129.7 194.7,129.9 195.2,130.2 195.7,130.2 196.2,130.2 196.7,130.8 197.2,130.4 197.7,130.2 198.2,130.5 198.7,130.1 199.2,130.1 199.7,130.3 200.2,129.8 200.7,130.1 201.2,129.6 201.7,130.1 202.2,128.6 202.7,123.1 203.2,115.2 203.7,119.7 204.2,126.5 204.7,129.8 205.2,129.7 205.7,129.5 206.2,130.1 206.7,130.5 207.2,130.3 207.7,129.7 208.2,130.1 208.7,130.2 209.2,129.7 209.7,129.6 210.2,130.2 210.7,129.6 211.2,130.2 211.7,129.8 212.2,130.6 212.7,129.8 213.2,129.9 213.7,129.7 214.2,128.6 214.7,127.4 215.2,126.7 215.7,127.9 216.2,129.6 216.7,129.4 217.2,129.7 217.7,130.3 218.2,130.4 218.7,129.7 219.2,129.9 219.7,129.7 220.2,130.4 220.7,130.0 221.2,130.3 221.7,130.2 222.2,130.0 222.7,130.7 223.2,129.9 223.7,129.7 224.2,130.1 224.7,129.0 225.2,128.3 225.7,127.4 226.2,128.0 226.7,128.9 227.2,128.7 227.7,127.4 228.2,126.7 228.7,127.6 229.2,128.9 229.7,129.3 230.2,129.5 230.7,129.6 231.2,129.1 231.7,128.8 232.2,129.4 232.7,129.5 233.2,129.1 233.7,129.2 234.2,128.2 234.7,127.3 235.2,127.6 235.7,128.5 236.2,129.5 236.7,129.5 237.2,130.0 237.7,130.7 238.2,130.6 238.7,130.8 239.2,130.1 239.7,129.8 240.2,129.6 240.7,129.6 241.2,129.5 241.7,129.4 242.2,129.2 242.7,130.0 243.2,130.0 243.7,130.1 244.2,129.6 244.7,130.3 245.2,129.6 245.7,129.2 246.2,129.7 246.7,130.2 247.2,129.8 247.7,130.2 248.2,130.4 248.7,130.0 249.2,129.7 249.7,129.5 250.2,129.2 250.7,129.7 251.2,129.5 251.7,128.9 252.2,128.8 252.7,127.4 253.2,128.5 253.7,129.2 254.2,129.4 254.7,130.2 255.2,129.6 255.7,130.6 256.2,130.2 256.7,130.0 257.2,129.1 257.7,129.2 258.2,129.6 258.7,129.8 259.2,129.8 259.7,129.6 260.2,128.6 260.7,126.9 261.2,127.1 261.7,128.6 262.2,129.8 262.7,129.4 263.2,129.4 263.7,128.1 264.2,127.2 264.7,126.7 265.2,125.7 265.7,126.3 266.2,127.6 266.7,128.3 267.2,129.0 267.7,129.3 268.2,129.9 268.7,129.7 269.2,130.0 269.7,129.9 270.2,130.6 270.7,130.4 271.2,129.8 271.7,130.1 272.2,130.6 272.7,130.0 273.2,130.7 273.4,129.2" fill="#a09090" fill-opacity="0.82"/>
<polyline points="113.7,130.4 114.2,130.1 114.7,130.3 115.2,130.1 115.7,130.1 116.2,129.6 116.7,129.8 117.2,130.0 117.7,130.2 118.2,130.6 118.7,130.0 119.2,129.7 119.7,128.7 120.2,127.0 120.7,125.5 121.2,126.1 121.7,127.9 122.2,129.1 122.7,129.6 123.2,130.0 123.7,129.2 124.2,127.8 124.7,126.6 125.2,125.8 125.7,127.8 126.2,129.5 126.7,129.7 127.2,129.7 127.7,130.0 128.2,130.3 128.7,129.2 129.2,129.2 129.7,128.5 130.2,129.5 130.7,129.4 131.2,129.6 131.7,129.3 132.2,128.7 132.7,127.0 133.2,127.2 133.7,128.2 134.2,129.8 134.7,130.3 135.2,130.3 135.7,129.9 136.2,129.8 136.7,130.1 137.2,129.8 137.7,129.5 138.2,130.0 138.7,129.7 139.2,129.1 139.7,128.4 140.2,127.2 140.7,126.3 141.2,127.7 141.7,128.0 142.2,129.3 142.7,129.6 143.2,130.6 143.7,130.1 144.2,130.2 144.7,129.8 145.2,128.6 145.7,127.2 146.2,126.6 146.7,128.0 147.2,129.0 147.7,129.9 148.2,129.7 148.7,129.2 149.2,129.1 149.7,128.2 150.2,126.4 150.7,125.9 151.2,126.2 151.7,125.3 152.2,126.6 152.7,127.3 153.2,128.2 153.7,129.6 154.2,130.0 154.7,130.2 155.2,129.7 155.7,130.3 156.2,130.3 156.7,129.7 157.2,129.6 157.7,129.5 158.2,129.9 158.7,129.8 159.2,129.5 159.7,130.0 160.2,128.3 160.7,126.9 161.2,127.1 161.7,128.1 162.2,129.8 162.7,129.8 163.2,130.0 163.7,130.0 164.2,129.7 164.7,130.4 165.2,130.3 165.7,130.4 166.2,130.6 166.7,129.7 167.2,130.3 167.7,130.1 168.2,130.7 168.7,130.8 169.2,130.0 169.7,130.3 170.2,129.7 170.7,128.6 171.2,127.8 171.7,126.7 172.2,127.5 172.7,128.5 173.2,128.9 173.7,129.5 174.2,129.2 174.7,128.3 175.2,127.3 175.7,127.4 176.2,128.1 176.7,128.5 177.2,129.1 177.7,129.7 178.2,130.0 178.7,130.6 179.2,130.5 179.7,129.9 180.2,130.3 180.7,130.5 181.2,130.8 181.7,130.5 182.2,130.7 182.7,130.1 183.2,130.2 183.7,130.0 184.2,129.4 184.7,129.6 185.2,129.1 185.7,128.7 186.2,128.3 186.7,128.1 187.2,128.0 187.7,128.9 188.2,129.3 188.7,129.4 189.2,129.7 189.7,130.3 190.2,129.7 190.7,129.5 191.2,130.0 191.7,129.7 192.2,128.9 192.7,128.6 193.2,129.4 193.7,129.5 194.2,129.7 194.7,129.9 195.2,130.2 195.7,130.2 196.2,130.2 196.7,130.8 197.2,130.4 197.7,130.2 198.2,130.5 198.7,130.1 199.2,130.1 199.7,130.3 200.2,129.8 200.7,130.1 201.2,129.6 201.7,130.1 202.2,128.6 202.7,123.1 203.2,115.2 203.7,119.7 204.2,126.5 204.7,129.8 205.2,129.7 205.7,129.5 206.2,130.1 206.7,130.5 207.2,130.3 207.7,129.7 208.2,130.1 208.7,130.2 209.2,129.7 209.7,129.6 210.2,130.2 210.7,129.6 211.2,130.2 211.7,129.8 212.2,130.6 212.7,129.8 213.2,129.9 213.7,129.7 214.2,128.6 214.7,127.4 215.2,126.7 215.7,127.9 216.2,129.6 216.7,129.4 217.2,129.7 217.7,130.3 218.2,130.4 218.7,129.7 219.2,129.9 219.7,129.7 220.2,130.4 220.7,130.0 221.2,130.3 221.7,130.2 222.2,130.0 222.7,130.7 223.2,129.9 223.7,129.7 224.2,130.1 224.7,129.0 225.2,128.3 225.7,127.4 226.2,128.0 226.7,128.9 227.2,128.7 227.7,127.4 228.2,126.7 228.7,127.6 229.2,128.9 229.7,129.3 230.2,129.5 230.7,129.6 231.2,129.1 231.7,128.8 232.2,129.4 232.7,129.5 233.2,129.1 233.7,129.2 234.2,128.2 234.7,127.3 235.2,127.6 235.7,128.5 236.2,129.5 236.7,129.5 237.2,130.0 237.7,130.7 238.2,130.6 238.7,130.8 239.2,130.1 239.7,129.8 240.2,129.6 240.7,129.6 241.2,129.5 241.7,129.4 242.2,129.2 242.7,130.0 243.2,130.0 243.7,130.1 244.2,129.6 244.7,130.3 245.2,129.6 245.7,129.2 246.2,129.7 246.7,130.2 247.2,129.8 247.7,130.2 248.2,130.4 248.7,130.0 249.2,129.7 249.7,129.5 250.2,129.2 250.7,129.7 251.2,129.5 251.7,128.9 252.2,128.8 252.7,127.4 253.2,128.5 253.7,129.2 254.2,129.4 254.7,130.2 255.2,129.6 255.7,130.6 256.2,130.2 256.7,130.0 257.2,129.1 257.7,129.2 258.2,129.6 258.7,129.8 259.2,129.8 259.7,129.6 260.2,128.6 260.7,126.9 261.2,127.1 261.7,128.6 262.2,129.8 262.7,129.4 263.2,129.4 263.7,128.1 264.2,127.2 264.7,126.7 265.2,125.7 265.7,126.3 266.2,127.6 266.7,128.3 267.2,129.0 267.7,129.3 268.2,129.9 268.7,129.7 269.2,130.0 269.7,129.9 270.2,130.6 270.7,130.4 271.2,129.8 271.7,130.1 272.2,130.6 272.7,130.0 273.2,130.7" fill="none" stroke="#3e3e3e" stroke-width="0.6" stroke-opacity="0.95" stroke-linejoin="round"/>
<line x1="110.20" y1="137.72" x2="113.50" y2="137.72" stroke="#666" stroke-width="0.6" />
<line x1="273.40" y1="137.72" x2="275.00" y2="137.72" stroke="#666" stroke-width="0.6" />
<polygon points="113.7,137.7 113.7,138.7 114.2,139.3 114.7,139.2 115.2,138.7 115.7,137.8 116.2,136.6 116.7,135.9 117.2,135.5 117.7,137.4 118.2,138.1 118.7,138.8 119.2,138.3 119.7,138.4 120.2,139.2 120.7,139.1 121.2,139.3 121.7,138.8 122.2,138.7 122.7,138.3 123.2,138.2 123.7,137.7 124.2,137.9 124.7,137.2 125.2,137.5 125.7,137.7 126.2,138.5 126.7,138.4 127.2,138.4 127.7,138.3 128.2,138.6 128.7,137.6 129.2,136.8 129.7,135.3 130.2,134.1 130.7,136.2 131.2,137.5 131.7,138.1 132.2,138.1 132.7,139.0 133.2,138.7 133.7,138.5 134.2,139.2 134.7,139.3 135.2,139.2 135.7,139.1 136.2,138.8 136.7,139.4 137.2,139.0 137.7,139.2 138.2,138.8 138.7,137.8 139.2,137.4 139.7,135.7 140.2,135.2 140.7,134.0 141.2,134.7 141.7,136.4 142.2,137.4 142.7,138.6 143.2,138.0 143.7,137.3 144.2,136.7 144.7,136.4 145.2,137.6 145.7,138.5 146.2,138.5 146.7,138.8 147.2,139.3 147.7,139.0 148.2,139.1 148.7,139.1 149.2,138.7 149.7,138.5 150.2,139.3 150.7,139.3 151.2,139.1 151.7,139.1 152.2,139.0 152.7,138.7 153.2,138.4 153.7,138.0 154.2,137.9 154.7,137.6 155.2,137.2 155.7,136.6 156.2,136.1 156.7,136.5 157.2,136.8 157.7,135.3 158.2,136.1 158.7,136.7 159.2,138.2 159.7,138.1 160.2,138.5 160.7,138.0 161.2,137.8 161.7,137.2 162.2,136.9 162.7,135.8 163.2,136.3 163.7,136.5 164.2,136.2 164.7,134.9 165.2,135.4 165.7,135.3 166.2,135.5 166.7,136.4 167.2,137.1 167.7,137.2 168.2,137.7 168.7,137.5 169.2,137.6 169.7,136.8 170.2,137.0 170.7,137.0 171.2,137.6 171.7,137.2 172.2,137.7 172.7,138.0 173.2,138.6 173.7,138.6 174.2,138.3 174.7,137.2 175.2,136.5 175.7,135.6 176.2,135.7 176.7,136.6 177.2,136.9 177.7,137.9 178.2,138.4 178.7,138.3 179.2,138.7 179.7,138.8 180.2,139.4 180.7,139.5 181.2,138.6 181.7,138.8 182.2,139.2 182.7,138.7 183.2,138.7 183.7,138.4 184.2,137.0 184.7,134.7 185.2,131.6 185.7,131.3 186.2,133.9 186.7,136.7 187.2,137.8 187.7,138.2 188.2,138.0 188.7,137.4 189.2,136.7 189.7,136.4 190.2,136.1 190.7,135.7 191.2,136.8 191.7,137.2 192.2,136.1 192.7,135.4 193.2,134.7 193.7,136.1 194.2,137.3 194.7,137.9 195.2,136.4 195.7,135.4 196.2,135.2 196.7,136.8 197.2,137.7 197.7,138.3 198.2,138.8 198.7,138.5 199.2,136.3 199.7,134.6 200.2,133.4 200.7,135.8 201.2,137.9 201.7,138.1 202.2,138.7 202.7,139.1 203.2,139.2 203.7,138.8 204.2,139.1 204.7,138.7 205.2,138.0 205.7,137.2 206.2,136.1 206.7,135.2 207.2,135.2 207.7,133.4 208.2,133.5 208.7,135.9 209.2,136.8 209.7,135.9 210.2,135.4 210.7,137.1 211.2,138.0 211.7,138.2 212.2,136.9 212.7,136.7 213.2,136.2 213.7,136.7 214.2,135.3 214.7,132.3 215.2,129.2 215.7,132.3 216.2,135.6 216.7,137.2 217.2,136.5 217.7,136.7 218.2,137.4 218.7,137.3 219.2,136.2 219.7,135.2 220.2,136.2 220.7,137.1 221.2,138.6 221.7,138.6 222.2,139.1 222.7,138.9 223.2,138.3 223.7,137.4 224.2,135.9 224.7,133.3 225.2,132.6 225.7,134.3 226.2,136.1 226.7,137.4 227.2,138.0 227.7,138.4 228.2,138.5 228.7,138.8 229.2,138.8 229.7,138.1 230.2,138.6 230.7,138.4 231.2,137.5 231.7,136.0 232.2,136.0 232.7,137.0 233.2,137.7 233.7,138.7 234.2,139.0 234.7,138.1 235.2,137.4 235.7,136.7 236.2,135.6 236.7,136.1 237.2,136.4 237.7,136.4 238.2,136.8 238.7,136.7 239.2,137.2 239.7,138.1 240.2,138.0 240.7,138.4 241.2,138.8 241.7,138.7 242.2,138.9 242.7,138.1 243.2,138.6 243.7,138.6 244.2,136.5 244.7,135.3 245.2,134.0 245.7,134.7 246.2,136.8 246.7,138.1 247.2,138.5 247.7,137.7 248.2,137.1 248.7,136.4 249.2,135.0 249.7,135.7 250.2,136.4 250.7,137.5 251.2,138.2 251.7,137.9 252.2,138.1 252.7,138.9 253.2,139.3 253.7,139.1 254.2,138.6 254.7,139.2 255.2,138.3 255.7,137.3 256.2,136.7 256.7,136.0 257.2,136.6 257.7,137.4 258.2,137.9 258.7,138.1 259.2,139.0 259.7,139.1 260.2,138.1 260.7,138.0 261.2,136.8 261.7,136.2 262.2,135.1 262.7,135.2 263.2,135.4 263.7,136.6 264.2,137.3 264.7,138.3 265.2,138.8 265.7,138.5 266.2,136.0 266.7,133.0 267.2,129.4 267.7,131.8 268.2,135.0 268.7,137.7 269.2,138.8 269.7,137.9 270.2,135.0 270.7,132.4 271.2,131.9 271.7,134.5 272.2,137.4 272.7,138.4 273.2,138.6 273.4,137.7" fill="#d4a090" fill-opacity="0.82"/>
<polyline points="113.7,138.7 114.2,139.3 114.7,139.2 115.2,138.7 115.7,137.8 116.2,136.6 116.7,135.9 117.2,135.5 117.7,137.4 118.2,138.1 118.7,138.8 119.2,138.3 119.7,138.4 120.2,139.2 120.7,139.1 121.2,139.3 121.7,138.8 122.2,138.7 122.7,138.3 123.2,138.2 123.7,137.7 124.2,137.9 124.7,137.2 125.2,137.5 125.7,137.7 126.2,138.5 126.7,138.4 127.2,138.4 127.7,138.3 128.2,138.6 128.7,137.6 129.2,136.8 129.7,135.3 130.2,134.1 130.7,136.2 131.2,137.5 131.7,138.1 132.2,138.1 132.7,139.0 133.2,138.7 133.7,138.5 134.2,139.2 134.7,139.3 135.2,139.2 135.7,139.1 136.2,138.8 136.7,139.4 137.2,139.0 137.7,139.2 138.2,138.8 138.7,137.8 139.2,137.4 139.7,135.7 140.2,135.2 140.7,134.0 141.2,134.7 141.7,136.4 142.2,137.4 142.7,138.6 143.2,138.0 143.7,137.3 144.2,136.7 144.7,136.4 145.2,137.6 145.7,138.5 146.2,138.5 146.7,138.8 147.2,139.3 147.7,139.0 148.2,139.1 148.7,139.1 149.2,138.7 149.7,138.5 150.2,139.3 150.7,139.3 151.2,139.1 151.7,139.1 152.2,139.0 152.7,138.7 153.2,138.4 153.7,138.0 154.2,137.9 154.7,137.6 155.2,137.2 155.7,136.6 156.2,136.1 156.7,136.5 157.2,136.8 157.7,135.3 158.2,136.1 158.7,136.7 159.2,138.2 159.7,138.1 160.2,138.5 160.7,138.0 161.2,137.8 161.7,137.2 162.2,136.9 162.7,135.8 163.2,136.3 163.7,136.5 164.2,136.2 164.7,134.9 165.2,135.4 165.7,135.3 166.2,135.5 166.7,136.4 167.2,137.1 167.7,137.2 168.2,137.7 168.7,137.5 169.2,137.6 169.7,136.8 170.2,137.0 170.7,137.0 171.2,137.6 171.7,137.2 172.2,137.7 172.7,138.0 173.2,138.6 173.7,138.6 174.2,138.3 174.7,137.2 175.2,136.5 175.7,135.6 176.2,135.7 176.7,136.6 177.2,136.9 177.7,137.9 178.2,138.4 178.7,138.3 179.2,138.7 179.7,138.8 180.2,139.4 180.7,139.5 181.2,138.6 181.7,138.8 182.2,139.2 182.7,138.7 183.2,138.7 183.7,138.4 184.2,137.0 184.7,134.7 185.2,131.6 185.7,131.3 186.2,133.9 186.7,136.7 187.2,137.8 187.7,138.2 188.2,138.0 188.7,137.4 189.2,136.7 189.7,136.4 190.2,136.1 190.7,135.7 191.2,136.8 191.7,137.2 192.2,136.1 192.7,135.4 193.2,134.7 193.7,136.1 194.2,137.3 194.7,137.9 195.2,136.4 195.7,135.4 196.2,135.2 196.7,136.8 197.2,137.7 197.7,138.3 198.2,138.8 198.7,138.5 199.2,136.3 199.7,134.6 200.2,133.4 200.7,135.8 201.2,137.9 201.7,138.1 202.2,138.7 202.7,139.1 203.2,139.2 203.7,138.8 204.2,139.1 204.7,138.7 205.2,138.0 205.7,137.2 206.2,136.1 206.7,135.2 207.2,135.2 207.7,133.4 208.2,133.5 208.7,135.9 209.2,136.8 209.7,135.9 210.2,135.4 210.7,137.1 211.2,138.0 211.7,138.2 212.2,136.9 212.7,136.7 213.2,136.2 213.7,136.7 214.2,135.3 214.7,132.3 215.2,129.2 215.7,132.3 216.2,135.6 216.7,137.2 217.2,136.5 217.7,136.7 218.2,137.4 218.7,137.3 219.2,136.2 219.7,135.2 220.2,136.2 220.7,137.1 221.2,138.6 221.7,138.6 222.2,139.1 222.7,138.9 223.2,138.3 223.7,137.4 224.2,135.9 224.7,133.3 225.2,132.6 225.7,134.3 226.2,136.1 226.7,137.4 227.2,138.0 227.7,138.4 228.2,138.5 228.7,138.8 229.2,138.8 229.7,138.1 230.2,138.6 230.7,138.4 231.2,137.5 231.7,136.0 232.2,136.0 232.7,137.0 233.2,137.7 233.7,138.7 234.2,139.0 234.7,138.1 235.2,137.4 235.7,136.7 236.2,135.6 236.7,136.1 237.2,136.4 237.7,136.4 238.2,136.8 238.7,136.7 239.2,137.2 239.7,138.1 240.2,138.0 240.7,138.4 241.2,138.8 241.7,138.7 242.2,138.9 242.7,138.1 243.2,138.6 243.7,138.6 244.2,136.5 244.7,135.3 245.2,134.0 245.7,134.7 246.2,136.8 246.7,138.1 247.2,138.5 247.7,137.7 248.2,137.1 248.7,136.4 249.2,135.0 249.7,135.7 250.2,136.4 250.7,137.5 251.2,138.2 251.7,137.9 252.2,138.1 252.7,138.9 253.2,139.3 253.7,139.1 254.2,138.6 254.7,139.2 255.2,138.3 255.7,137.3 256.2,136.7 256.7,136.0 257.2,136.6 257.7,137.4 258.2,137.9 258.7,138.1 259.2,139.0 259.7,139.1 260.2,138.1 260.7,138.0 261.2,136.8 261.7,136.2 262.2,135.1 262.7,135.2 263.2,135.4 263.7,136.6 264.2,137.3 264.7,138.3 265.2,138.8 265.7,138.5 266.2,136.0 266.7,133.0 267.2,129.4 267.7,131.8 268.2,135.0 268.7,137.7 269.2,138.8 269.7,137.9 270.2,135.0 270.7,132.4 271.2,131.9 271.7,134.5 272.2,137.4 272.7,138.4 273.2,138.6" fill="none" stroke="#4a3832" stroke-width="0.6" stroke-opacity="0.95" stroke-linejoin="round"/>
<line x1="110.20" y1="146.23" x2="113.50" y2="146.23" stroke="#666" stroke-width="0.6" />
<line x1="273.40" y1="146.23" x2="275.00" y2="146.23" stroke="#666" stroke-width="0.6" />
<polygon points="113.7,146.2 113.7,147.2 114.2,147.0 114.7,146.9 115.2,146.6 115.7,146.5 116.2,145.5 116.7,145.1 117.2,145.3 117.7,145.3 118.2,144.9 118.7,144.3 119.2,145.2 119.7,145.4 120.2,146.3 120.7,147.0 121.2,147.1 121.7,147.3 122.2,147.3 122.7,147.2 123.2,147.2 123.7,147.3 124.2,147.3 124.7,147.5 125.2,146.9 125.7,147.2 126.2,146.6 126.7,145.8 127.2,143.3 127.7,141.5 128.2,142.7 128.7,144.9 129.2,146.8 129.7,147.0 130.2,147.4 130.7,147.4 131.2,147.7 131.7,147.8 132.2,147.6 132.7,146.9 133.2,146.8 133.7,146.8 134.2,147.0 134.7,146.5 135.2,146.5 135.7,145.1 136.2,145.4 136.7,145.5 137.2,145.6 137.7,145.2 138.2,144.5 138.7,144.7 139.2,145.9 139.7,145.4 140.2,145.9 140.7,146.0 141.2,145.7 141.7,145.3 142.2,144.8 142.7,144.9 143.2,145.1 143.7,145.3 144.2,144.5 144.7,144.7 145.2,145.5 145.7,145.7 146.2,145.6 146.7,146.6 147.2,146.7 147.7,147.3 148.2,147.7 148.7,147.0 149.2,146.9 149.7,147.7 150.2,147.1 150.7,147.2 151.2,147.4 151.7,147.6 152.2,147.3 152.7,147.3 153.2,147.3 153.7,146.2 154.2,145.9 154.7,144.4 155.2,144.6 155.7,145.8 156.2,146.9 156.7,146.9 157.2,146.8 157.7,147.5 158.2,147.7 158.7,147.4 159.2,147.3 159.7,147.0 160.2,146.6 160.7,146.1 161.2,145.5 161.7,144.5 162.2,144.4 162.7,145.0 163.2,145.5 163.7,146.4 164.2,146.6 164.7,146.6 165.2,145.7 165.7,145.2 166.2,145.3 166.7,145.7 167.2,146.2 167.7,146.5 168.2,145.9 168.7,145.4 169.2,145.1 169.7,144.4 170.2,143.9 170.7,145.1 171.2,145.3 171.7,146.1 172.2,146.6 172.7,147.0 173.2,146.8 173.7,146.9 174.2,147.3 174.7,146.6 175.2,146.7 175.7,145.0 176.2,142.9 176.7,140.7 177.2,142.9 177.7,145.1 178.2,146.6 178.7,146.6 179.2,146.8 179.7,146.4 180.2,145.2 180.7,144.5 181.2,145.1 181.7,145.7 182.2,145.7 182.7,146.2 183.2,145.8 183.7,146.3 184.2,146.1 184.7,145.3 185.2,143.8 185.7,140.8 186.2,141.5 186.7,143.6 187.2,145.8 187.7,147.1 188.2,147.0 188.7,146.4 189.2,147.0 189.7,147.5 190.2,147.2 190.7,147.2 191.2,147.6 191.7,147.0 192.2,147.1 192.7,147.5 193.2,147.5 193.7,147.5 194.2,147.9 194.7,147.6 195.2,146.9 195.7,147.5 196.2,146.9 196.7,146.7 197.2,146.9 197.7,146.9 198.2,146.8 198.7,146.8 199.2,146.4 199.7,144.9 200.2,145.2 200.7,145.7 201.2,146.8 201.7,146.7 202.2,146.8 202.7,146.9 203.2,147.1 203.7,147.5 204.2,146.9 204.7,147.4 205.2,147.3 205.7,146.7 206.2,147.2 206.7,146.9 207.2,146.6 207.7,147.2 208.2,146.3 208.7,145.2 209.2,144.5 209.7,144.3 210.2,144.3 210.7,144.4 211.2,145.4 211.7,145.8 212.2,145.4 212.7,145.1 213.2,145.2 213.7,144.2 214.2,144.5 214.7,145.2 215.2,146.2 215.7,146.5 216.2,147.0 216.7,147.3 217.2,147.1 217.7,145.8 218.2,143.6 218.7,140.4 219.2,140.2 219.7,141.6 220.2,144.9 220.7,146.4 221.2,146.8 221.7,146.5 222.2,147.5 222.7,146.9 223.2,147.5 223.7,147.3 224.2,147.2 224.7,147.3 225.2,146.9 225.7,146.4 226.2,146.7 226.7,147.0 227.2,146.8 227.7,146.8 228.2,147.5 228.7,147.3 229.2,146.9 229.7,146.8 230.2,144.1 230.7,141.3 231.2,137.5 231.7,139.7 232.2,142.5 232.7,145.3 233.2,146.3 233.7,145.8 234.2,145.9 234.7,145.9 235.2,146.7 235.7,147.2 236.2,147.2 236.7,147.0 237.2,147.3 237.7,146.7 238.2,145.7 238.7,145.2 239.2,145.0 239.7,143.9 240.2,144.2 240.7,143.6 241.2,145.2 241.7,145.9 242.2,146.3 242.7,147.3 243.2,147.0 243.7,146.8 244.2,145.9 244.7,145.4 245.2,145.2 245.7,146.2 246.2,146.8 246.7,146.9 247.2,146.8 247.7,147.2 248.2,147.6 248.7,147.3 249.2,147.2 249.7,147.7 250.2,147.8 250.7,147.5 251.2,146.9 251.7,147.4 252.2,146.8 252.7,146.8 253.2,146.8 253.7,146.1 254.2,145.2 254.7,144.2 255.2,145.5 255.7,146.2 256.2,146.7 256.7,146.4 257.2,147.3 257.7,147.3 258.2,147.3 258.7,147.3 259.2,146.8 259.7,147.0 260.2,146.9 260.7,146.2 261.2,145.9 261.7,145.3 262.2,145.3 262.7,144.3 263.2,145.0 263.7,145.4 264.2,146.5 264.7,146.4 265.2,145.4 265.7,144.1 266.2,145.4 266.7,146.7 267.2,146.7 267.7,142.4 268.2,135.6 268.7,134.2 269.2,141.4 269.7,146.0 270.2,147.3 270.7,146.8 271.2,147.4 271.7,147.3 272.2,147.2 272.7,147.0 273.2,147.3 273.4,146.2" fill="#8fb59a" fill-opacity="0.82"/>
<polyline points="113.7,147.2 114.2,147.0 114.7,146.9 115.2,146.6 115.7,146.5 116.2,145.5 116.7,145.1 117.2,145.3 117.7,145.3 118.2,144.9 118.7,144.3 119.2,145.2 119.7,145.4 120.2,146.3 120.7,147.0 121.2,147.1 121.7,147.3 122.2,147.3 122.7,147.2 123.2,147.2 123.7,147.3 124.2,147.3 124.7,147.5 125.2,146.9 125.7,147.2 126.2,146.6 126.7,145.8 127.2,143.3 127.7,141.5 128.2,142.7 128.7,144.9 129.2,146.8 129.7,147.0 130.2,147.4 130.7,147.4 131.2,147.7 131.7,147.8 132.2,147.6 132.7,146.9 133.2,146.8 133.7,146.8 134.2,147.0 134.7,146.5 135.2,146.5 135.7,145.1 136.2,145.4 136.7,145.5 137.2,145.6 137.7,145.2 138.2,144.5 138.7,144.7 139.2,145.9 139.7,145.4 140.2,145.9 140.7,146.0 141.2,145.7 141.7,145.3 142.2,144.8 142.7,144.9 143.2,145.1 143.7,145.3 144.2,144.5 144.7,144.7 145.2,145.5 145.7,145.7 146.2,145.6 146.7,146.6 147.2,146.7 147.7,147.3 148.2,147.7 148.7,147.0 149.2,146.9 149.7,147.7 150.2,147.1 150.7,147.2 151.2,147.4 151.7,147.6 152.2,147.3 152.7,147.3 153.2,147.3 153.7,146.2 154.2,145.9 154.7,144.4 155.2,144.6 155.7,145.8 156.2,146.9 156.7,146.9 157.2,146.8 157.7,147.5 158.2,147.7 158.7,147.4 159.2,147.3 159.7,147.0 160.2,146.6 160.7,146.1 161.2,145.5 161.7,144.5 162.2,144.4 162.7,145.0 163.2,145.5 163.7,146.4 164.2,146.6 164.7,146.6 165.2,145.7 165.7,145.2 166.2,145.3 166.7,145.7 167.2,146.2 167.7,146.5 168.2,145.9 168.7,145.4 169.2,145.1 169.7,144.4 170.2,143.9 170.7,145.1 171.2,145.3 171.7,146.1 172.2,146.6 172.7,147.0 173.2,146.8 173.7,146.9 174.2,147.3 174.7,146.6 175.2,146.7 175.7,145.0 176.2,142.9 176.7,140.7 177.2,142.9 177.7,145.1 178.2,146.6 178.7,146.6 179.2,146.8 179.7,146.4 180.2,145.2 180.7,144.5 181.2,145.1 181.7,145.7 182.2,145.7 182.7,146.2 183.2,145.8 183.7,146.3 184.2,146.1 184.7,145.3 185.2,143.8 185.7,140.8 186.2,141.5 186.7,143.6 187.2,145.8 187.7,147.1 188.2,147.0 188.7,146.4 189.2,147.0 189.7,147.5 190.2,147.2 190.7,147.2 191.2,147.6 191.7,147.0 192.2,147.1 192.7,147.5 193.2,147.5 193.7,147.5 194.2,147.9 194.7,147.6 195.2,146.9 195.7,147.5 196.2,146.9 196.7,146.7 197.2,146.9 197.7,146.9 198.2,146.8 198.7,146.8 199.2,146.4 199.7,144.9 200.2,145.2 200.7,145.7 201.2,146.8 201.7,146.7 202.2,146.8 202.7,146.9 203.2,147.1 203.7,147.5 204.2,146.9 204.7,147.4 205.2,147.3 205.7,146.7 206.2,147.2 206.7,146.9 207.2,146.6 207.7,147.2 208.2,146.3 208.7,145.2 209.2,144.5 209.7,144.3 210.2,144.3 210.7,144.4 211.2,145.4 211.7,145.8 212.2,145.4 212.7,145.1 213.2,145.2 213.7,144.2 214.2,144.5 214.7,145.2 215.2,146.2 215.7,146.5 216.2,147.0 216.7,147.3 217.2,147.1 217.7,145.8 218.2,143.6 218.7,140.4 219.2,140.2 219.7,141.6 220.2,144.9 220.7,146.4 221.2,146.8 221.7,146.5 222.2,147.5 222.7,146.9 223.2,147.5 223.7,147.3 224.2,147.2 224.7,147.3 225.2,146.9 225.7,146.4 226.2,146.7 226.7,147.0 227.2,146.8 227.7,146.8 228.2,147.5 228.7,147.3 229.2,146.9 229.7,146.8 230.2,144.1 230.7,141.3 231.2,137.5 231.7,139.7 232.2,142.5 232.7,145.3 233.2,146.3 233.7,145.8 234.2,145.9 234.7,145.9 235.2,146.7 235.7,147.2 236.2,147.2 236.7,147.0 237.2,147.3 237.7,146.7 238.2,145.7 238.7,145.2 239.2,145.0 239.7,143.9 240.2,144.2 240.7,143.6 241.2,145.2 241.7,145.9 242.2,146.3 242.7,147.3 243.2,147.0 243.7,146.8 244.2,145.9 244.7,145.4 245.2,145.2 245.7,146.2 246.2,146.8 246.7,146.9 247.2,146.8 247.7,147.2 248.2,147.6 248.7,147.3 249.2,147.2 249.7,147.7 250.2,147.8 250.7,147.5 251.2,146.9 251.7,147.4 252.2,146.8 252.7,146.8 253.2,146.8 253.7,146.1 254.2,145.2 254.7,144.2 255.2,145.5 255.7,146.2 256.2,146.7 256.7,146.4 257.2,147.3 257.7,147.3 258.2,147.3 258.7,147.3 259.2,146.8 259.7,147.0 260.2,146.9 260.7,146.2 261.2,145.9 261.7,145.3 262.2,145.3 262.7,144.3 263.2,145.0 263.7,145.4 264.2,146.5 264.7,146.4 265.2,145.4 265.7,144.1 266.2,145.4 266.7,146.7 267.2,146.7 267.7,142.4 268.2,135.6 268.7,134.2 269.2,141.4 269.7,146.0 270.2,147.3 270.7,146.8 271.2,147.4 271.7,147.3 272.2,147.2 272.7,147.0 273.2,147.3" fill="none" stroke="#354038" stroke-width="0.6" stroke-opacity="0.95" stroke-linejoin="round"/>
<line x1="110.20" y1="154.74" x2="113.50" y2="154.74" stroke="#666" stroke-width="0.6" />
<line x1="273.40" y1="154.74" x2="275.00" y2="154.74" stroke="#666" stroke-width="0.6" />
<polygon points="113.7,154.7 113.7,155.6 114.2,155.3 114.7,155.7 115.2,155.3 115.7,154.5 116.2,154.0 116.7,151.7 117.2,151.9 117.7,153.5 118.2,155.0 118.7,155.1 119.2,155.8 119.7,156.0 120.2,155.1 120.7,155.5 121.2,155.8 121.7,155.5 122.2,155.2 122.7,154.3 123.2,153.5 123.7,152.8 124.2,151.4 124.7,151.5 125.2,152.8 125.7,153.7 126.2,154.6 126.7,154.3 127.2,154.3 127.7,155.6 128.2,155.9 128.7,156.2 129.2,155.9 129.7,156.0 130.2,155.6 130.7,155.8 131.2,155.9 131.7,155.9 132.2,155.9 132.7,155.6 133.2,155.1 133.7,154.6 134.2,154.1 134.7,154.1 135.2,153.2 135.7,154.2 136.2,154.6 136.7,155.2 137.2,155.6 137.7,155.3 138.2,155.7 138.7,155.0 139.2,154.3 139.7,154.5 140.2,153.5 140.7,153.7 141.2,154.5 141.7,154.5 142.2,155.3 142.7,154.8 143.2,154.8 143.7,153.0 144.2,151.7 144.7,150.7 145.2,153.0 145.7,154.5 146.2,154.6 146.7,155.3 147.2,155.5 147.7,155.4 148.2,155.2 148.7,156.0 149.2,155.6 149.7,155.1 150.2,155.3 150.7,154.9 151.2,154.6 151.7,154.2 152.2,153.2 152.7,152.9 153.2,154.1 153.7,154.3 154.2,155.1 154.7,153.9 155.2,152.6 155.7,152.5 156.2,153.6 156.7,153.3 157.2,150.4 157.7,147.5 158.2,145.0 158.7,149.1 159.2,152.7 159.7,155.4 160.2,155.4 160.7,155.3 161.2,154.8 161.7,154.6 162.2,155.2 162.7,154.9 163.2,155.6 163.7,155.6 164.2,155.7 164.7,155.6 165.2,155.4 165.7,155.7 166.2,155.1 166.7,155.1 167.2,154.2 167.7,154.5 168.2,154.8 168.7,155.1 169.2,155.3 169.7,155.1 170.2,155.3 170.7,155.4 171.2,154.9 171.7,153.6 172.2,152.1 172.7,150.6 173.2,151.2 173.7,152.4 174.2,154.0 174.7,155.3 175.2,155.6 175.7,155.3 176.2,155.7 176.7,155.6 177.2,156.1 177.7,155.5 178.2,156.0 178.7,155.7 179.2,155.7 179.7,155.5 180.2,155.7 180.7,155.5 181.2,154.7 181.7,155.3 182.2,155.4 182.7,155.7 183.2,154.9 183.7,154.5 184.2,154.9 184.7,152.5 185.2,149.1 185.7,144.5 186.2,145.7 186.7,149.4 187.2,153.7 187.7,155.4 188.2,155.5 188.7,155.6 189.2,155.8 189.7,156.0 190.2,154.8 190.7,155.3 191.2,155.4 191.7,155.2 192.2,155.6 192.7,155.2 193.2,155.3 193.7,155.8 194.2,155.6 194.7,156.3 195.2,156.1 195.7,155.4 196.2,155.2 196.7,155.2 197.2,155.8 197.7,154.9 198.2,153.5 198.7,152.9 199.2,152.5 199.7,153.7 200.2,155.0 200.7,155.0 201.2,155.4 201.7,155.4 202.2,155.3 202.7,155.3 203.2,155.4 203.7,155.7 204.2,155.7 204.7,155.7 205.2,155.6 205.7,155.7 206.2,155.6 206.7,155.5 207.2,155.6 207.7,155.6 208.2,155.8 208.7,156.0 209.2,155.5 209.7,155.5 210.2,155.4 210.7,155.5 211.2,155.1 211.7,154.8 212.2,153.3 212.7,151.9 213.2,153.2 213.7,154.4 214.2,155.7 214.7,155.8 215.2,155.2 215.7,155.4 216.2,155.1 216.7,155.3 217.2,155.9 217.7,155.7 218.2,156.0 218.7,156.0 219.2,155.8 219.7,155.9 220.2,155.7 220.7,155.3 221.2,156.2 221.7,155.6 222.2,156.3 222.7,155.9 223.2,155.6 223.7,155.8 224.2,155.9 224.7,156.2 225.2,155.6 225.7,155.3 226.2,155.2 226.7,155.8 227.2,155.2 227.7,155.4 228.2,155.7 228.7,155.8 229.2,156.2 229.7,156.1 230.2,155.8 230.7,156.4 231.2,156.0 231.7,155.4 232.2,155.6 232.7,154.8 233.2,153.6 233.7,152.4 234.2,152.6 234.7,153.1 235.2,154.7 235.7,155.5 236.2,154.6 236.7,154.6 237.2,154.2 237.7,153.9 238.2,153.3 238.7,152.4 239.2,151.7 239.7,150.8 240.2,150.7 240.7,153.2 241.2,154.3 241.7,155.3 242.2,155.5 242.7,155.7 243.2,156.3 243.7,156.1 244.2,155.8 244.7,156.0 245.2,155.9 245.7,156.3 246.2,155.6 246.7,156.4 247.2,155.8 247.7,156.3 248.2,156.4 248.7,155.8 249.2,156.1 249.7,155.7 250.2,155.4 250.7,155.8 251.2,155.9 251.7,155.7 252.2,156.1 252.7,155.5 253.2,155.2 253.7,155.5 254.2,155.0 254.7,154.0 255.2,151.0 255.7,148.0 256.2,144.8 256.7,148.1 257.2,152.4 257.7,155.0 258.2,155.1 258.7,154.7 259.2,154.3 259.7,153.7 260.2,153.1 260.7,154.3 261.2,154.1 261.7,155.1 262.2,155.2 262.7,155.6 263.2,155.1 263.7,154.7 264.2,154.0 264.7,154.2 265.2,153.5 265.7,153.1 266.2,154.0 266.7,153.8 267.2,155.0 267.7,155.8 268.2,155.7 268.7,154.3 269.2,151.5 269.7,149.1 270.2,146.6 270.7,150.0 271.2,152.3 271.7,155.0 272.2,155.9 272.7,156.0 273.2,156.2 273.4,154.7" fill="#d9a866" fill-opacity="0.82"/>
<polyline points="113.7,155.6 114.2,155.3 114.7,155.7 115.2,155.3 115.7,154.5 116.2,154.0 116.7,151.7 117.2,151.9 117.7,153.5 118.2,155.0 118.7,155.1 119.2,155.8 119.7,156.0 120.2,155.1 120.7,155.5 121.2,155.8 121.7,155.5 122.2,155.2 122.7,154.3 123.2,153.5 123.7,152.8 124.2,151.4 124.7,151.5 125.2,152.8 125.7,153.7 126.2,154.6 126.7,154.3 127.2,154.3 127.7,155.6 128.2,155.9 128.7,156.2 129.2,155.9 129.7,156.0 130.2,155.6 130.7,155.8 131.2,155.9 131.7,155.9 132.2,155.9 132.7,155.6 133.2,155.1 133.7,154.6 134.2,154.1 134.7,154.1 135.2,153.2 135.7,154.2 136.2,154.6 136.7,155.2 137.2,155.6 137.7,155.3 138.2,155.7 138.7,155.0 139.2,154.3 139.7,154.5 140.2,153.5 140.7,153.7 141.2,154.5 141.7,154.5 142.2,155.3 142.7,154.8 143.2,154.8 143.7,153.0 144.2,151.7 144.7,150.7 145.2,153.0 145.7,154.5 146.2,154.6 146.7,155.3 147.2,155.5 147.7,155.4 148.2,155.2 148.7,156.0 149.2,155.6 149.7,155.1 150.2,155.3 150.7,154.9 151.2,154.6 151.7,154.2 152.2,153.2 152.7,152.9 153.2,154.1 153.7,154.3 154.2,155.1 154.7,153.9 155.2,152.6 155.7,152.5 156.2,153.6 156.7,153.3 157.2,150.4 157.7,147.5 158.2,145.0 158.7,149.1 159.2,152.7 159.7,155.4 160.2,155.4 160.7,155.3 161.2,154.8 161.7,154.6 162.2,155.2 162.7,154.9 163.2,155.6 163.7,155.6 164.2,155.7 164.7,155.6 165.2,155.4 165.7,155.7 166.2,155.1 166.7,155.1 167.2,154.2 167.7,154.5 168.2,154.8 168.7,155.1 169.2,155.3 169.7,155.1 170.2,155.3 170.7,155.4 171.2,154.9 171.7,153.6 172.2,152.1 172.7,150.6 173.2,151.2 173.7,152.4 174.2,154.0 174.7,155.3 175.2,155.6 175.7,155.3 176.2,155.7 176.7,155.6 177.2,156.1 177.7,155.5 178.2,156.0 178.7,155.7 179.2,155.7 179.7,155.5 180.2,155.7 180.7,155.5 181.2,154.7 181.7,155.3 182.2,155.4 182.7,155.7 183.2,154.9 183.7,154.5 184.2,154.9 184.7,152.5 185.2,149.1 185.7,144.5 186.2,145.7 186.7,149.4 187.2,153.7 187.7,155.4 188.2,155.5 188.7,155.6 189.2,155.8 189.7,156.0 190.2,154.8 190.7,155.3 191.2,155.4 191.7,155.2 192.2,155.6 192.7,155.2 193.2,155.3 193.7,155.8 194.2,155.6 194.7,156.3 195.2,156.1 195.7,155.4 196.2,155.2 196.7,155.2 197.2,155.8 197.7,154.9 198.2,153.5 198.7,152.9 199.2,152.5 199.7,153.7 200.2,155.0 200.7,155.0 201.2,155.4 201.7,155.4 202.2,155.3 202.7,155.3 203.2,155.4 203.7,155.7 204.2,155.7 204.7,155.7 205.2,155.6 205.7,155.7 206.2,155.6 206.7,155.5 207.2,155.6 207.7,155.6 208.2,155.8 208.7,156.0 209.2,155.5 209.7,155.5 210.2,155.4 210.7,155.5 211.2,155.1 211.7,154.8 212.2,153.3 212.7,151.9 213.2,153.2 213.7,154.4 214.2,155.7 214.7,155.8 215.2,155.2 215.7,155.4 216.2,155.1 216.7,155.3 217.2,155.9 217.7,155.7 218.2,156.0 218.7,156.0 219.2,155.8 219.7,155.9 220.2,155.7 220.7,155.3 221.2,156.2 221.7,155.6 222.2,156.3 222.7,155.9 223.2,155.6 223.7,155.8 224.2,155.9 224.7,156.2 225.2,155.6 225.7,155.3 226.2,155.2 226.7,155.8 227.2,155.2 227.7,155.4 228.2,155.7 228.7,155.8 229.2,156.2 229.7,156.1 230.2,155.8 230.7,156.4 231.2,156.0 231.7,155.4 232.2,155.6 232.7,154.8 233.2,153.6 233.7,152.4 234.2,152.6 234.7,153.1 235.2,154.7 235.7,155.5 236.2,154.6 236.7,154.6 237.2,154.2 237.7,153.9 238.2,153.3 238.7,152.4 239.2,151.7 239.7,150.8 240.2,150.7 240.7,153.2 241.2,154.3 241.7,155.3 242.2,155.5 242.7,155.7 243.2,156.3 243.7,156.1 244.2,155.8 244.7,156.0 245.2,155.9 245.7,156.3 246.2,155.6 246.7,156.4 247.2,155.8 247.7,156.3 248.2,156.4 248.7,155.8 249.2,156.1 249.7,155.7 250.2,155.4 250.7,155.8 251.2,155.9 251.7,155.7 252.2,156.1 252.7,155.5 253.2,155.2 253.7,155.5 254.2,155.0 254.7,154.0 255.2,151.0 255.7,148.0 256.2,144.8 256.7,148.1 257.2,152.4 257.7,155.0 258.2,155.1 258.7,154.7 259.2,154.3 259.7,153.7 260.2,153.1 260.7,154.3 261.2,154.1 261.7,155.1 262.2,155.2 262.7,155.6 263.2,155.1 263.7,154.7 264.2,154.0 264.7,154.2 265.2,153.5 265.7,153.1 266.2,154.0 266.7,153.8 267.2,155.0 267.7,155.8 268.2,155.7 268.7,154.3 269.2,151.5 269.7,149.1 270.2,146.6 270.7,150.0 271.2,152.3 271.7,155.0 272.2,155.9 272.7,156.0 273.2,156.2" fill="none" stroke="#4a3f28" stroke-width="0.6" stroke-opacity="0.95" stroke-linejoin="round"/>
<line x1="110.20" y1="163.25" x2="113.50" y2="163.25" stroke="#666" stroke-width="0.6" />
<line x1="273.40" y1="163.25" x2="275.00" y2="163.25" stroke="#666" stroke-width="0.6" />
<polygon points="113.7,163.2 113.7,164.5 114.2,164.3 114.7,164.5 115.2,164.8 115.7,164.1 116.2,164.2 116.7,163.4 117.2,162.9 117.7,161.5 118.2,161.9 118.7,162.6 119.2,163.8 119.7,164.3 120.2,164.1 120.7,164.2 121.2,164.2 121.7,164.4 122.2,164.5 122.7,164.3 123.2,164.3 123.7,164.1 124.2,164.6 124.7,164.7 125.2,164.5 125.7,164.0 126.2,164.8 126.7,164.5 127.2,164.8 127.7,164.1 128.2,164.5 128.7,164.0 129.2,164.1 129.7,163.2 130.2,163.4 130.7,162.6 131.2,162.3 131.7,161.4 132.2,162.2 132.7,162.4 133.2,163.0 133.7,163.5 134.2,164.1 134.7,163.6 135.2,164.2 135.7,163.9 136.2,164.0 136.7,163.6 137.2,164.1 137.7,163.8 138.2,163.6 138.7,163.9 139.2,163.8 139.7,164.2 140.2,163.8 140.7,163.6 141.2,163.4 141.7,162.9 142.2,162.4 142.7,162.3 143.2,161.2 143.7,160.7 144.2,160.7 144.7,160.9 145.2,161.9 145.7,163.1 146.2,164.2 146.7,163.9 147.2,163.5 147.7,163.7 148.2,164.3 148.7,163.7 149.2,163.9 149.7,164.6 150.2,164.3 150.7,164.1 151.2,164.1 151.7,163.9 152.2,163.9 152.7,164.3 153.2,164.3 153.7,164.1 154.2,164.6 154.7,164.8 155.2,164.1 155.7,164.3 156.2,164.0 156.7,163.3 157.2,163.1 157.7,161.7 158.2,161.6 158.7,161.9 159.2,162.5 159.7,162.0 160.2,160.9 160.7,162.4 161.2,162.6 161.7,163.5 162.2,164.1 162.7,163.9 163.2,164.7 163.7,164.0 164.2,164.2 164.7,163.9 165.2,164.4 165.7,164.2 166.2,163.5 166.7,162.8 167.2,163.7 167.7,164.2 168.2,164.3 168.7,164.7 169.2,164.6 169.7,164.8 170.2,164.8 170.7,164.1 171.2,164.1 171.7,163.9 172.2,163.2 172.7,161.4 173.2,161.5 173.7,162.7 174.2,163.4 174.7,163.6 175.2,164.1 175.7,164.5 176.2,164.6 176.7,164.6 177.2,164.4 177.7,164.0 178.2,164.4 178.7,164.1 179.2,164.1 179.7,164.1 180.2,163.8 180.7,163.1 181.2,162.6 181.7,162.0 182.2,161.6 182.7,162.2 183.2,162.9 183.7,163.7 184.2,163.8 184.7,163.6 185.2,162.8 185.7,161.6 186.2,161.7 186.7,162.9 187.2,163.5 187.7,164.4 188.2,164.2 188.7,164.2 189.2,164.5 189.7,164.4 190.2,164.6 190.7,163.8 191.2,164.3 191.7,164.0 192.2,163.9 192.7,164.4 193.2,164.5 193.7,164.2 194.2,164.8 194.7,164.5 195.2,163.7 195.7,164.4 196.2,163.4 196.7,163.4 197.2,162.4 197.7,162.1 198.2,160.2 198.7,159.7 199.2,160.1 199.7,162.1 200.2,163.4 200.7,164.0 201.2,164.3 201.7,163.7 202.2,164.3 202.7,164.1 203.2,164.0 203.7,164.2 204.2,164.0 204.7,164.5 205.2,164.5 205.7,164.4 206.2,164.2 206.7,164.0 207.2,163.8 207.7,163.3 208.2,162.7 208.7,162.7 209.2,162.5 209.7,161.7 210.2,160.3 210.7,160.1 211.2,159.3 211.7,159.0 212.2,159.6 212.7,159.1 213.2,161.2 213.7,163.5 214.2,164.0 214.7,163.8 215.2,164.3 215.7,164.5 216.2,164.1 216.7,164.5 217.2,164.1 217.7,163.9 218.2,164.4 218.7,164.2 219.2,164.3 219.7,164.6 220.2,164.3 220.7,164.3 221.2,164.5 221.7,163.5 222.2,164.2 222.7,163.9 223.2,163.0 223.7,162.8 224.2,163.1 224.7,164.0 225.2,164.4 225.7,164.0 226.2,164.1 226.7,163.5 227.2,162.7 227.7,161.8 228.2,161.5 228.7,161.5 229.2,162.6 229.7,163.8 230.2,164.3 230.7,164.6 231.2,164.1 231.7,164.3 232.2,164.3 232.7,164.7 233.2,164.0 233.7,164.3 234.2,164.6 234.7,164.4 235.2,164.1 235.7,164.2 236.2,164.2 236.7,163.8 237.2,164.1 237.7,163.6 238.2,162.5 238.7,162.6 239.2,161.4 239.7,162.2 240.2,161.7 240.7,162.0 241.2,160.9 241.7,160.8 242.2,161.0 242.7,161.9 243.2,162.0 243.7,162.9 244.2,163.7 244.7,164.3 245.2,164.1 245.7,164.7 246.2,164.6 246.7,163.8 247.2,163.5 247.7,163.3 248.2,163.7 248.7,164.3 249.2,164.5 249.7,164.5 250.2,163.5 250.7,163.8 251.2,162.9 251.7,163.3 252.2,163.2 252.7,163.1 253.2,161.4 253.7,159.2 254.2,156.5 254.7,153.4 255.2,149.3 255.7,147.4 256.2,150.6 256.7,153.4 257.2,155.7 257.7,156.6 258.2,156.6 258.7,155.2 259.2,156.8 259.7,159.8 260.2,161.7 260.7,163.1 261.2,161.9 261.7,160.5 262.2,159.7 262.7,160.1 263.2,161.9 263.7,161.9 264.2,161.7 264.7,161.4 265.2,161.1 265.7,161.1 266.2,160.4 266.7,158.7 267.2,158.4 267.7,161.4 268.2,162.6 268.7,164.0 269.2,163.5 269.7,163.2 270.2,161.6 270.7,160.3 271.2,159.2 271.7,160.2 272.2,161.5 272.7,162.6 273.2,163.2 273.4,163.2" fill="#b07a80" fill-opacity="0.82"/>
<polyline points="113.7,164.5 114.2,164.3 114.7,164.5 115.2,164.8 115.7,164.1 116.2,164.2 116.7,163.4 117.2,162.9 117.7,161.5 118.2,161.9 118.7,162.6 119.2,163.8 119.7,164.3 120.2,164.1 120.7,164.2 121.2,164.2 121.7,164.4 122.2,164.5 122.7,164.3 123.2,164.3 123.7,164.1 124.2,164.6 124.7,164.7 125.2,164.5 125.7,164.0 126.2,164.8 126.7,164.5 127.2,164.8 127.7,164.1 128.2,164.5 128.7,164.0 129.2,164.1 129.7,163.2 130.2,163.4 130.7,162.6 131.2,162.3 131.7,161.4 132.2,162.2 132.7,162.4 133.2,163.0 133.7,163.5 134.2,164.1 134.7,163.6 135.2,164.2 135.7,163.9 136.2,164.0 136.7,163.6 137.2,164.1 137.7,163.8 138.2,163.6 138.7,163.9 139.2,163.8 139.7,164.2 140.2,163.8 140.7,163.6 141.2,163.4 141.7,162.9 142.2,162.4 142.7,162.3 143.2,161.2 143.7,160.7 144.2,160.7 144.7,160.9 145.2,161.9 145.7,163.1 146.2,164.2 146.7,163.9 147.2,163.5 147.7,163.7 148.2,164.3 148.7,163.7 149.2,163.9 149.7,164.6 150.2,164.3 150.7,164.1 151.2,164.1 151.7,163.9 152.2,163.9 152.7,164.3 153.2,164.3 153.7,164.1 154.2,164.6 154.7,164.8 155.2,164.1 155.7,164.3 156.2,164.0 156.7,163.3 157.2,163.1 157.7,161.7 158.2,161.6 158.7,161.9 159.2,162.5 159.7,162.0 160.2,160.9 160.7,162.4 161.2,162.6 161.7,163.5 162.2,164.1 162.7,163.9 163.2,164.7 163.7,164.0 164.2,164.2 164.7,163.9 165.2,164.4 165.7,164.2 166.2,163.5 166.7,162.8 167.2,163.7 167.7,164.2 168.2,164.3 168.7,164.7 169.2,164.6 169.7,164.8 170.2,164.8 170.7,164.1 171.2,164.1 171.7,163.9 172.2,163.2 172.7,161.4 173.2,161.5 173.7,162.7 174.2,163.4 174.7,163.6 175.2,164.1 175.7,164.5 176.2,164.6 176.7,164.6 177.2,164.4 177.7,164.0 178.2,164.4 178.7,164.1 179.2,164.1 179.7,164.1 180.2,163.8 180.7,163.1 181.2,162.6 181.7,162.0 182.2,161.6 182.7,162.2 183.2,162.9 183.7,163.7 184.2,163.8 184.7,163.6 185.2,162.8 185.7,161.6 186.2,161.7 186.7,162.9 187.2,163.5 187.7,164.4 188.2,164.2 188.7,164.2 189.2,164.5 189.7,164.4 190.2,164.6 190.7,163.8 191.2,164.3 191.7,164.0 192.2,163.9 192.7,164.4 193.2,164.5 193.7,164.2 194.2,164.8 194.7,164.5 195.2,163.7 195.7,164.4 196.2,163.4 196.7,163.4 197.2,162.4 197.7,162.1 198.2,160.2 198.7,159.7 199.2,160.1 199.7,162.1 200.2,163.4 200.7,164.0 201.2,164.3 201.7,163.7 202.2,164.3 202.7,164.1 203.2,164.0 203.7,164.2 204.2,164.0 204.7,164.5 205.2,164.5 205.7,164.4 206.2,164.2 206.7,164.0 207.2,163.8 207.7,163.3 208.2,162.7 208.7,162.7 209.2,162.5 209.7,161.7 210.2,160.3 210.7,160.1 211.2,159.3 211.7,159.0 212.2,159.6 212.7,159.1 213.2,161.2 213.7,163.5 214.2,164.0 214.7,163.8 215.2,164.3 215.7,164.5 216.2,164.1 216.7,164.5 217.2,164.1 217.7,163.9 218.2,164.4 218.7,164.2 219.2,164.3 219.7,164.6 220.2,164.3 220.7,164.3 221.2,164.5 221.7,163.5 222.2,164.2 222.7,163.9 223.2,163.0 223.7,162.8 224.2,163.1 224.7,164.0 225.2,164.4 225.7,164.0 226.2,164.1 226.7,163.5 227.2,162.7 227.7,161.8 228.2,161.5 228.7,161.5 229.2,162.6 229.7,163.8 230.2,164.3 230.7,164.6 231.2,164.1 231.7,164.3 232.2,164.3 232.7,164.7 233.2,164.0 233.7,164.3 234.2,164.6 234.7,164.4 235.2,164.1 235.7,164.2 236.2,164.2 236.7,163.8 237.2,164.1 237.7,163.6 238.2,162.5 238.7,162.6 239.2,161.4 239.7,162.2 240.2,161.7 240.7,162.0 241.2,160.9 241.7,160.8 242.2,161.0 242.7,161.9 243.2,162.0 243.7,162.9 244.2,163.7 244.7,164.3 245.2,164.1 245.7,164.7 246.2,164.6 246.7,163.8 247.2,163.5 247.7,163.3 248.2,163.7 248.7,164.3 249.2,164.5 249.7,164.5 250.2,163.5 250.7,163.8 251.2,162.9 251.7,163.3 252.2,163.2 252.7,163.1 253.2,161.4 253.7,159.2 254.2,156.5 254.7,153.4 255.2,149.3 255.7,147.4 256.2,150.6 256.7,153.4 257.2,155.7 257.7,156.6 258.2,156.6 258.7,155.2 259.2,156.8 259.7,159.8 260.2,161.7 260.7,163.1 261.2,161.9 261.7,160.5 262.2,159.7 262.7,160.1 263.2,161.9 263.7,161.9 264.2,161.7 264.7,161.4 265.2,161.1 265.7,161.1 266.2,160.4 266.7,158.7 267.2,158.4 267.7,161.4 268.2,162.6 268.7,164.0 269.2,163.5 269.7,163.2 270.2,161.6 270.7,160.3 271.2,159.2 271.7,160.2 272.2,161.5 272.7,162.6 273.2,163.2" fill="none" stroke="#40292c" stroke-width="0.6" stroke-opacity="0.95" stroke-linejoin="round"/>
<text x="405.30" y="8.90" font-size="12" text-anchor="start" font-weight="normal" font-style="normal" fill="#222" >b</text>
<circle cx="511.20" cy="27.40" r="1.55" fill="#e4262b" />
<circle cx="439.70" cy="82.00" r="1.55" fill="#e4262b" />
<circle cx="466.50" cy="77.70" r="1.55" fill="#e4262b" />
<circle cx="493.20" cy="78.00" r="1.55" fill="#e4262b" />
<circle cx="496.50" cy="73.60" r="1.55" fill="#e4262b" />
<circle cx="495.50" cy="84.50" r="1.55" fill="#e4262b" />
<circle cx="514.00" cy="88.00" r="1.55" fill="#e4262b" />
<circle cx="516.50" cy="83.20" r="1.55" fill="#e4262b" />
<circle cx="523.90" cy="82.20" r="1.55" fill="#e4262b" />
<circle cx="525.30" cy="87.50" r="1.55" fill="#e4262b" />
<circle cx="531.70" cy="88.00" r="1.55" fill="#e4262b" />
<circle cx="534.00" cy="74.70" r="1.55" fill="#e4262b" />
<circle cx="537.00" cy="70.40" r="1.55" fill="#e4262b" />
<circle cx="539.50" cy="66.50" r="1.55" fill="#e4262b" />
<circle cx="542.00" cy="64.00" r="1.55" fill="#e4262b" />
<circle cx="545.40" cy="70.80" r="1.55" fill="#e4262b" />
<circle cx="547.00" cy="73.80" r="1.55" fill="#e4262b" />
<circle cx="542.50" cy="80.20" r="1.55" fill="#e4262b" />
<circle cx="545.40" cy="82.60" r="1.55" fill="#e4262b" />
<circle cx="551.70" cy="78.00" r="1.55" fill="#e4262b" />
<circle cx="552.70" cy="67.00" r="1.55" fill="#e4262b" />
<circle cx="547.00" cy="88.80" r="1.55" fill="#e4262b" />
<circle cx="466.30" cy="91.70" r="1.55" fill="#e4262b" />
<circle cx="474.40" cy="98.20" r="1.55" fill="#e4262b" />
<circle cx="494.50" cy="103.80" r="1.55" fill="#e4262b" />
<circle cx="504.40" cy="92.70" r="1.55" fill="#e4262b" />
<circle cx="475.70" cy="111.60" r="1.55" fill="#e4262b" />
<circle cx="483.40" cy="113.20" r="1.55" fill="#e4262b" />
<circle cx="469.80" cy="115.30" r="1.55" fill="#e4262b" />
<circle cx="471.50" cy="118.50" r="1.55" fill="#e4262b" />
<circle cx="503.70" cy="111.80" r="1.55" fill="#e4262b" />
<circle cx="506.00" cy="110.50" r="1.55" fill="#e4262b" />
<circle cx="507.50" cy="118.90" r="1.55" fill="#e4262b" />
<circle cx="490.80" cy="118.90" r="1.55" fill="#e4262b" />
<circle cx="483.40" cy="121.60" r="1.55" fill="#e4262b" />
<circle cx="493.50" cy="124.70" r="1.55" fill="#e4262b" />
<circle cx="467.70" cy="128.90" r="1.55" fill="#e4262b" />
<circle cx="476.70" cy="130.00" r="1.55" fill="#e4262b" />
<circle cx="480.70" cy="128.50" r="1.55" fill="#e4262b" />
<circle cx="497.00" cy="130.00" r="1.55" fill="#e4262b" />
<circle cx="479.30" cy="133.50" r="1.55" fill="#e4262b" />
<circle cx="486.20" cy="132.70" r="1.55" fill="#e4262b" />
<circle cx="482.00" cy="135.20" r="1.55" fill="#e4262b" />
<circle cx="484.50" cy="136.90" r="1.55" fill="#e4262b" />
<circle cx="486.60" cy="137.30" r="1.55" fill="#e4262b" />
<circle cx="476.50" cy="136.20" r="1.55" fill="#e4262b" />
<circle cx="474.00" cy="140.40" r="1.55" fill="#e4262b" />
<circle cx="500.20" cy="139.00" r="1.55" fill="#e4262b" />
<circle cx="508.50" cy="137.30" r="1.55" fill="#e4262b" />
<circle cx="511.70" cy="132.00" r="1.55" fill="#e4262b" />
<circle cx="512.70" cy="129.40" r="1.55" fill="#e4262b" />
<circle cx="513.40" cy="121.60" r="1.55" fill="#e4262b" />
<circle cx="506.50" cy="140.40" r="1.55" fill="#e4262b" />
<circle cx="505.00" cy="144.20" r="1.55" fill="#e4262b" />
<circle cx="488.70" cy="141.50" r="1.55" fill="#e4262b" />
<circle cx="489.70" cy="143.20" r="1.55" fill="#e4262b" />
<circle cx="488.20" cy="143.60" r="1.55" fill="#e4262b" />
<circle cx="470.90" cy="141.90" r="1.55" fill="#e4262b" />
<circle cx="473.00" cy="144.60" r="1.55" fill="#e4262b" />
<circle cx="482.80" cy="145.30" r="1.55" fill="#e4262b" />
<circle cx="464.60" cy="146.70" r="1.55" fill="#e4262b" />
<circle cx="466.70" cy="147.80" r="1.55" fill="#e4262b" />
<circle cx="448.00" cy="144.60" r="1.55" fill="#e4262b" />
<circle cx="460.40" cy="150.50" r="1.55" fill="#e4262b" />
<circle cx="463.00" cy="152.00" r="1.55" fill="#e4262b" />
<circle cx="470.90" cy="152.00" r="1.55" fill="#e4262b" />
<circle cx="476.00" cy="153.00" r="1.55" fill="#e4262b" />
<circle cx="483.40" cy="149.40" r="1.55" fill="#e4262b" />
<circle cx="489.30" cy="151.30" r="1.55" fill="#e4262b" />
<circle cx="494.50" cy="149.40" r="1.55" fill="#e4262b" />
<circle cx="470.90" cy="156.80" r="1.55" fill="#e4262b" />
<circle cx="504.40" cy="156.10" r="1.55" fill="#e4262b" />
<circle cx="446.20" cy="153.00" r="1.55" fill="#e4262b" />
<circle cx="556.60" cy="56.20" r="1.55" fill="#e4262b" />
<circle cx="568.00" cy="65.30" r="1.55" fill="#e4262b" />
<circle cx="589.50" cy="63.40" r="1.55" fill="#e4262b" />
<circle cx="555.30" cy="84.70" r="1.55" fill="#e4262b" />
<circle cx="577.00" cy="76.70" r="1.55" fill="#e4262b" />
<circle cx="515.30" cy="88.50" r="1.55" fill="#e4262b" />
<circle cx="526.70" cy="88.00" r="1.55" fill="#e4262b" />
<circle cx="543.90" cy="92.90" r="1.55" fill="#e4262b" />
<circle cx="533.40" cy="95.20" r="1.55" fill="#e4262b" />
<circle cx="538.90" cy="96.50" r="1.55" fill="#e4262b" />
<circle cx="544.20" cy="97.00" r="1.55" fill="#e4262b" />
<circle cx="515.70" cy="97.00" r="1.55" fill="#e4262b" />
<circle cx="524.30" cy="99.40" r="1.55" fill="#e4262b" />
<circle cx="534.70" cy="100.50" r="1.55" fill="#e4262b" />
<circle cx="587.60" cy="101.80" r="1.55" fill="#e4262b" />
<circle cx="578.00" cy="103.70" r="1.55" fill="#e4262b" />
<circle cx="571.80" cy="103.40" r="1.55" fill="#e4262b" />
<circle cx="568.60" cy="104.70" r="1.55" fill="#e4262b" />
<circle cx="570.50" cy="106.60" r="1.55" fill="#e4262b" />
<circle cx="567.00" cy="107.50" r="1.55" fill="#e4262b" />
<circle cx="561.00" cy="106.00" r="1.55" fill="#e4262b" />
<circle cx="548.00" cy="106.60" r="1.55" fill="#e4262b" />
<circle cx="550.00" cy="108.50" r="1.55" fill="#e4262b" />
<circle cx="585.20" cy="108.90" r="1.55" fill="#e4262b" />
<circle cx="544.80" cy="105.60" r="1.55" fill="#e4262b" />
<circle cx="559.50" cy="91.40" r="1.55" fill="#e4262b" />
<circle cx="563.80" cy="95.20" r="1.55" fill="#e4262b" />
<circle cx="570.50" cy="85.70" r="1.55" fill="#e4262b" />
<circle cx="578.00" cy="89.00" r="1.55" fill="#e4262b" />
<circle cx="581.30" cy="80.00" r="1.55" fill="#e4262b" />
<circle cx="597.50" cy="74.20" r="1.55" fill="#e4262b" />
<circle cx="548.00" cy="96.50" r="1.55" fill="#e4262b" />
<circle cx="553.20" cy="96.50" r="1.55" fill="#e4262b" />
<circle cx="530.00" cy="104.30" r="1.55" fill="#e4262b" />
<circle cx="535.70" cy="108.00" r="1.55" fill="#e4262b" />
<circle cx="520.50" cy="120.60" r="1.55" fill="#e4262b" />
<circle cx="525.50" cy="119.70" r="1.55" fill="#e4262b" />
<circle cx="521.00" cy="115.50" r="1.55" fill="#e4262b" />
<circle cx="514.20" cy="126.10" r="1.55" fill="#e4262b" />
<circle cx="516.70" cy="127.80" r="1.55" fill="#e4262b" />
<circle cx="521.50" cy="127.00" r="1.55" fill="#e4262b" />
<circle cx="511.70" cy="129.50" r="1.55" fill="#e4262b" />
<circle cx="529.00" cy="127.80" r="1.55" fill="#e4262b" />
<circle cx="531.60" cy="110.10" r="1.55" fill="#e4262b" />
<circle cx="532.00" cy="112.60" r="1.55" fill="#e4262b" />
<circle cx="535.80" cy="112.60" r="1.55" fill="#e4262b" />
<circle cx="540.40" cy="113.20" r="1.55" fill="#e4262b" />
<circle cx="551.30" cy="116.00" r="1.55" fill="#e4262b" />
<circle cx="551.30" cy="120.20" r="1.55" fill="#e4262b" />
<circle cx="560.60" cy="116.40" r="1.55" fill="#e4262b" />
<circle cx="566.80" cy="112.10" r="1.55" fill="#e4262b" />
<circle cx="570.70" cy="105.90" r="1.55" fill="#e4262b" />
<circle cx="572.40" cy="103.40" r="1.55" fill="#e4262b" />
<circle cx="572.40" cy="130.90" r="1.55" fill="#e4262b" />
<circle cx="545.40" cy="130.40" r="1.55" fill="#e4262b" />
<circle cx="547.50" cy="131.50" r="1.55" fill="#e4262b" />
<circle cx="610.20" cy="84.70" r="1.55" fill="#e4262b" />
<circle cx="528.20" cy="27.40" r="1.55" fill="#1f4f97" />
<circle cx="573.40" cy="76.70" r="1.55" fill="#1f4f97" />
<circle cx="569.40" cy="82.20" r="1.55" fill="#1f4f97" />
<circle cx="569.00" cy="96.70" r="1.55" fill="#1f4f97" />
<circle cx="557.20" cy="99.40" r="1.55" fill="#1f4f97" />
<circle cx="590.90" cy="89.50" r="1.55" fill="#1f4f97" />
<circle cx="598.50" cy="88.50" r="1.55" fill="#1f4f97" />
<circle cx="586.10" cy="101.80" r="1.55" fill="#1f4f97" />
<circle cx="598.50" cy="104.30" r="1.55" fill="#1f4f97" />
<circle cx="555.50" cy="110.60" r="1.55" fill="#1f4f97" />
<circle cx="549.60" cy="118.20" r="1.55" fill="#1f4f97" />
<circle cx="540.90" cy="126.60" r="1.55" fill="#1f4f97" />
<circle cx="571.00" cy="116.50" r="1.55" fill="#1f4f97" />
<circle cx="579.60" cy="112.60" r="1.55" fill="#1f4f97" />
<circle cx="592.30" cy="118.50" r="1.55" fill="#1f4f97" />
<circle cx="565.60" cy="121.60" r="1.55" fill="#1f4f97" />
<circle cx="552.70" cy="126.10" r="1.55" fill="#1f4f97" />
<circle cx="561.40" cy="130.40" r="1.55" fill="#1f4f97" />
<circle cx="565.60" cy="127.80" r="1.55" fill="#1f4f97" />
<circle cx="578.30" cy="121.00" r="1.55" fill="#1f4f97" />
<circle cx="583.70" cy="119.00" r="1.55" fill="#1f4f97" />
<circle cx="538.70" cy="136.30" r="1.55" fill="#1f4f97" />
<circle cx="548.80" cy="131.20" r="1.55" fill="#1f4f97" />
<circle cx="564.80" cy="133.40" r="1.55" fill="#1f4f97" />
<circle cx="573.20" cy="135.90" r="1.55" fill="#1f4f97" />
<circle cx="577.50" cy="133.20" r="1.55" fill="#1f4f97" />
<circle cx="580.50" cy="129.50" r="1.55" fill="#1f4f97" />
<circle cx="585.90" cy="132.00" r="1.55" fill="#1f4f97" />
<circle cx="590.60" cy="132.50" r="1.55" fill="#1f4f97" />
<circle cx="568.20" cy="137.40" r="1.55" fill="#1f4f97" />
<circle cx="576.60" cy="139.60" r="1.55" fill="#1f4f97" />
<circle cx="574.00" cy="141.80" r="1.55" fill="#1f4f97" />
<circle cx="578.30" cy="141.30" r="1.55" fill="#1f4f97" />
<circle cx="583.40" cy="140.50" r="1.55" fill="#1f4f97" />
<circle cx="587.20" cy="136.80" r="1.55" fill="#1f4f97" />
<circle cx="596.80" cy="137.10" r="1.55" fill="#1f4f97" />
<circle cx="557.60" cy="144.40" r="1.55" fill="#1f4f97" />
<circle cx="567.00" cy="143.00" r="1.55" fill="#1f4f97" />
<circle cx="573.20" cy="143.00" r="1.55" fill="#1f4f97" />
<circle cx="575.80" cy="140.40" r="1.55" fill="#1f4f97" />
<circle cx="582.20" cy="144.20" r="1.55" fill="#1f4f97" />
<circle cx="586.70" cy="145.20" r="1.55" fill="#1f4f97" />
<circle cx="590.60" cy="144.40" r="1.55" fill="#1f4f97" />
<circle cx="569.90" cy="146.40" r="1.55" fill="#1f4f97" />
<circle cx="577.80" cy="148.10" r="1.55" fill="#1f4f97" />
<circle cx="559.40" cy="149.20" r="1.55" fill="#1f4f97" />
<circle cx="560.30" cy="150.90" r="1.55" fill="#1f4f97" />
<circle cx="564.30" cy="149.40" r="1.55" fill="#1f4f97" />
<circle cx="570.70" cy="150.60" r="1.55" fill="#1f4f97" />
<circle cx="574.00" cy="150.60" r="1.55" fill="#1f4f97" />
<circle cx="568.20" cy="152.80" r="1.55" fill="#1f4f97" />
<circle cx="572.70" cy="155.60" r="1.55" fill="#1f4f97" />
<circle cx="579.10" cy="156.20" r="1.55" fill="#1f4f97" />
<circle cx="585.00" cy="153.10" r="1.55" fill="#1f4f97" />
<circle cx="594.80" cy="151.40" r="1.55" fill="#1f4f97" />
<circle cx="620.70" cy="56.20" r="1.55" fill="#1f4f97" />
<circle cx="639.30" cy="63.20" r="1.55" fill="#1f4f97" />
<circle cx="611.20" cy="64.10" r="1.55" fill="#1f4f97" />
<circle cx="614.00" cy="63.80" r="1.55" fill="#1f4f97" />
<circle cx="622.60" cy="66.20" r="1.55" fill="#1f4f97" />
<circle cx="624.50" cy="65.10" r="1.55" fill="#1f4f97" />
<circle cx="629.20" cy="67.20" r="1.55" fill="#1f4f97" />
<circle cx="610.20" cy="70.40" r="1.55" fill="#1f4f97" />
<circle cx="624.50" cy="73.70" r="1.55" fill="#1f4f97" />
<circle cx="626.00" cy="73.90" r="1.55" fill="#1f4f97" />
<circle cx="628.80" cy="74.60" r="1.55" fill="#1f4f97" />
<circle cx="605.50" cy="74.80" r="1.55" fill="#1f4f97" />
<circle cx="611.20" cy="78.00" r="1.55" fill="#1f4f97" />
<circle cx="628.30" cy="78.40" r="1.55" fill="#1f4f97" />
<circle cx="629.20" cy="80.30" r="1.55" fill="#1f4f97" />
<circle cx="631.50" cy="80.90" r="1.55" fill="#1f4f97" />
<circle cx="630.70" cy="82.80" r="1.55" fill="#1f4f97" />
<circle cx="636.40" cy="84.30" r="1.55" fill="#1f4f97" />
<circle cx="608.70" cy="81.80" r="1.55" fill="#1f4f97" />
<circle cx="604.50" cy="84.30" r="1.55" fill="#1f4f97" />
<circle cx="613.00" cy="83.70" r="1.55" fill="#1f4f97" />
<circle cx="612.50" cy="85.60" r="1.55" fill="#1f4f97" />
<circle cx="632.00" cy="86.60" r="1.55" fill="#1f4f97" />
<circle cx="634.90" cy="87.50" r="1.55" fill="#1f4f97" />
<circle cx="620.30" cy="87.90" r="1.55" fill="#1f4f97" />
<circle cx="614.00" cy="88.50" r="1.55" fill="#1f4f97" />
<circle cx="610.80" cy="91.30" r="1.55" fill="#1f4f97" />
<circle cx="612.10" cy="92.90" r="1.55" fill="#1f4f97" />
<circle cx="616.50" cy="95.10" r="1.55" fill="#1f4f97" />
<circle cx="606.00" cy="97.00" r="1.55" fill="#1f4f97" />
<circle cx="608.30" cy="96.70" r="1.55" fill="#1f4f97" />
<circle cx="624.50" cy="96.10" r="1.55" fill="#1f4f97" />
<circle cx="626.40" cy="96.70" r="1.55" fill="#1f4f97" />
<circle cx="633.00" cy="95.10" r="1.55" fill="#1f4f97" />
<circle cx="637.80" cy="97.40" r="1.55" fill="#1f4f97" />
<circle cx="618.80" cy="100.50" r="1.55" fill="#1f4f97" />
<circle cx="599.20" cy="103.70" r="1.55" fill="#1f4f97" />
<circle cx="602.20" cy="104.30" r="1.55" fill="#1f4f97" />
<circle cx="622.60" cy="103.70" r="1.55" fill="#1f4f97" />
<circle cx="626.40" cy="104.60" r="1.55" fill="#1f4f97" />
<circle cx="637.20" cy="104.30" r="1.55" fill="#1f4f97" />
<circle cx="637.20" cy="105.60" r="1.55" fill="#1f4f97" />
<circle cx="647.30" cy="103.70" r="1.55" fill="#1f4f97" />
<circle cx="644.80" cy="105.60" r="1.55" fill="#1f4f97" />
<circle cx="617.40" cy="107.00" r="1.55" fill="#1f4f97" />
<circle cx="620.70" cy="106.50" r="1.55" fill="#1f4f97" />
<circle cx="630.20" cy="107.50" r="1.55" fill="#1f4f97" />
<circle cx="640.60" cy="108.80" r="1.55" fill="#1f4f97" />
<circle cx="644.80" cy="87.50" r="1.55" fill="#1f4f97" />
<circle cx="648.20" cy="92.30" r="1.55" fill="#1f4f97" />
<circle cx="656.80" cy="88.50" r="1.55" fill="#1f4f97" />
<circle cx="658.70" cy="88.50" r="1.55" fill="#1f4f97" />
<circle cx="664.40" cy="77.50" r="1.55" fill="#1f4f97" />
<circle cx="673.00" cy="84.30" r="1.55" fill="#1f4f97" />
<circle cx="607.40" cy="112.40" r="1.55" fill="#1f4f97" />
<circle cx="614.40" cy="109.90" r="1.55" fill="#1f4f97" />
<circle cx="619.40" cy="108.60" r="1.55" fill="#1f4f97" />
<circle cx="620.70" cy="112.90" r="1.55" fill="#1f4f97" />
<circle cx="623.50" cy="105.70" r="1.55" fill="#1f4f97" />
<circle cx="627.70" cy="111.00" r="1.55" fill="#1f4f97" />
<circle cx="627.30" cy="113.30" r="1.55" fill="#1f4f97" />
<circle cx="631.10" cy="107.60" r="1.55" fill="#1f4f97" />
<circle cx="632.70" cy="110.50" r="1.55" fill="#1f4f97" />
<circle cx="640.70" cy="109.10" r="1.55" fill="#1f4f97" />
<circle cx="643.00" cy="112.90" r="1.55" fill="#1f4f97" />
<circle cx="667.30" cy="111.80" r="1.55" fill="#1f4f97" />
<circle cx="633.40" cy="116.20" r="1.55" fill="#1f4f97" />
<circle cx="630.20" cy="119.60" r="1.55" fill="#1f4f97" />
<circle cx="616.30" cy="119.00" r="1.55" fill="#1f4f97" />
<circle cx="618.80" cy="120.00" r="1.55" fill="#1f4f97" />
<circle cx="620.70" cy="121.30" r="1.55" fill="#1f4f97" />
<circle cx="621.60" cy="124.70" r="1.55" fill="#1f4f97" />
<circle cx="652.50" cy="120.40" r="1.55" fill="#1f4f97" />
<circle cx="607.40" cy="130.00" r="1.55" fill="#1f4f97" />
<circle cx="609.30" cy="131.40" r="1.55" fill="#1f4f97" />
<circle cx="596.90" cy="137.10" r="1.55" fill="#1f4f97" />
<circle cx="595.40" cy="151.40" r="1.55" fill="#1f4f97" />
<polygon points="440.0,132.9 444.2,131.6 448.5,130.3 452.8,129.0 457.0,127.7 461.2,126.3 465.5,125.0 469.8,123.6 474.0,122.3 478.2,120.9 482.5,119.5 486.8,118.1 491.0,116.7 495.2,115.3 499.5,113.8 503.8,112.3 508.0,110.8 512.2,109.2 516.5,107.6 520.8,106.0 525.0,104.3 529.2,102.6 533.5,100.9 537.8,99.1 542.0,97.3 546.2,95.5 550.5,93.6 554.8,91.7 559.0,89.8 563.2,87.9 567.5,86.0 571.8,84.0 576.0,82.1 580.2,80.1 584.5,78.1 588.8,76.1 593.0,74.2 597.2,72.2 601.5,70.2 605.8,68.2 610.0,66.2 610.0,84.2 605.8,85.6 601.5,86.9 597.2,88.2 593.0,89.5 588.8,90.8 584.5,92.2 580.2,93.5 576.0,94.8 571.8,96.2 567.5,97.6 563.2,99.0 559.0,100.3 554.8,101.8 550.5,103.2 546.2,104.6 542.0,106.1 537.8,107.6 533.5,109.2 529.2,110.7 525.0,112.4 520.8,114.0 516.5,115.7 512.2,117.4 508.0,119.2 503.8,121.0 499.5,122.8 495.2,124.7 491.0,126.5 486.8,128.4 482.5,130.3 478.2,132.3 474.0,134.2 469.8,136.2 465.5,138.1 461.2,140.1 457.0,142.1 452.8,144.1 448.5,146.1 444.2,148.1 440.0,150.1" fill="#999" fill-opacity="0.48"/>
<line x1="440" y1="141.5" x2="610" y2="75.20" stroke="#e4262b" stroke-width="1.5"/>
<polygon points="528.2,132.2 531.8,131.0 535.4,129.9 539.1,128.7 542.7,127.5 546.3,126.2 549.9,125.0 553.5,123.8 557.2,122.6 560.8,121.3 564.4,120.1 568.0,118.8 571.6,117.5 575.3,116.2 578.9,114.8 582.5,113.4 586.1,112.0 589.7,110.6 593.4,109.1 597.0,107.6 600.6,106.0 604.2,104.4 607.8,102.8 611.5,101.1 615.1,99.3 618.7,97.6 622.3,95.8 625.9,94.0 629.6,92.1 633.2,90.2 636.8,88.4 640.4,86.4 644.0,84.5 647.7,82.6 651.3,80.7 654.9,78.7 658.5,76.8 662.1,74.8 665.8,72.8 669.4,70.9 673.0,68.9 673.0,89.1 669.4,90.3 665.8,91.5 662.1,92.7 658.5,93.9 654.9,95.1 651.3,96.3 647.7,97.5 644.0,98.7 640.4,100.0 636.8,101.2 633.2,102.5 629.6,103.8 625.9,105.1 622.3,106.5 618.7,107.8 615.1,109.2 611.5,110.7 607.8,112.1 604.2,113.6 600.6,115.2 597.0,116.8 593.4,118.4 589.7,120.1 586.1,121.8 582.5,123.6 578.9,125.4 575.3,127.2 571.6,129.0 568.0,130.9 564.4,132.7 560.8,134.6 557.2,136.6 553.5,138.5 549.9,140.4 546.3,142.4 542.7,144.3 539.1,146.3 535.4,148.2 531.8,150.2 528.2,152.2" fill="#999" fill-opacity="0.48"/>
<line x1="528.2" y1="142.2" x2="673" y2="79.00" stroke="#1f4f97" stroke-width="1.5"/>
<rect x="428.5" y="20.2" width="255.79999999999995" height="143.10000000000002" fill="none" stroke="#333" stroke-width="1.1"/>
<text x="426.60" y="24.50" font-size="5.3" text-anchor="end" font-weight="normal" font-style="normal" fill="#444" >0.25</text>
<text x="426.60" y="68.80" font-size="5.3" text-anchor="end" font-weight="normal" font-style="normal" fill="#444" >0.20</text>
<text x="426.60" y="114.50" font-size="5.3" text-anchor="end" font-weight="normal" font-style="normal" fill="#444" >0.15</text>
<text x="426.60" y="159.80" font-size="5.3" text-anchor="end" font-weight="normal" font-style="normal" fill="#444" >0.10</text>
<text x="434.10" y="169.40" font-size="5.3" text-anchor="middle" font-weight="normal" font-style="normal" fill="#444" >1</text>
<text x="503.20" y="169.40" font-size="5.3" text-anchor="middle" font-weight="normal" font-style="normal" fill="#444" >2</text>
<text x="573.10" y="169.40" font-size="5.3" text-anchor="middle" font-weight="normal" font-style="normal" fill="#444" >3</text>
<text x="642.60" y="169.40" font-size="5.3" text-anchor="middle" font-weight="normal" font-style="normal" fill="#444" >4</text>
<text x="549.80" y="179.60" font-size="8" text-anchor="middle" font-weight="normal" font-style="normal" fill="#222" >Relative abundance of specific genus (log10)</text>
<text x="411.40" y="96.10" font-size="8" text-anchor="middle" font-weight="normal" font-style="normal" fill="#222" transform="rotate(-90 411.4 96.1)">Copies of ARGs per cell</text>
<text x="434.7" y="34.0" font-size="7.55" font-weight="bold" fill="#2a5ba6">R<tspan font-size="4.2" dy="-2.6">2</tspan><tspan dy="2.6"> = 0.28, </tspan><tspan font-style="italic">P</tspan> &lt; 0.001</text>
<text x="434.7" y="41.8" font-size="7.55" font-weight="bold" fill="#e0282e">R<tspan font-size="4.2" dy="-2.6">2</tspan><tspan dy="2.6"> = 0.32, </tspan><tspan font-style="italic">P</tspan> &lt; 0.001</text>
<circle cx="618.80" cy="147.60" r="1.9" fill="#1f4f97" />
<circle cx="618.80" cy="154.60" r="1.9" fill="#e4262b" />
<text x="624.40" y="150.60" font-size="8.4" text-anchor="start" font-weight="normal" font-style="italic" fill="#222" >Xanthobacter</text>
<text x="624.40" y="157.60" font-size="8.4" text-anchor="start" font-weight="normal" font-style="italic" fill="#222" >Aquabacterium</text>
<text x="-0.5" y="198.6" font-size="11" font-weight="bold" fill="#1a1a1a">c</text>
<rect x="42.20" y="190.90" width="96.80" height="14.80" fill="#d9d9db" stroke="none" stroke-width="0" />
<text x="90.60" y="202.40" font-size="8.4" text-anchor="middle" font-weight="normal" font-style="italic" fill="#1a1a1a" >Xanthobacter</text>
<line x1="43.20" y1="240.90" x2="138.60" y2="240.90" stroke="#ebebeb" stroke-width="0.6" />
<line x1="43.20" y1="281.20" x2="138.60" y2="281.20" stroke="#ebebeb" stroke-width="0.6" />
<line x1="43.20" y1="321.60" x2="138.60" y2="321.60" stroke="#ebebeb" stroke-width="0.6" />
<line x1="56.40" y1="211.90" x2="56.40" y2="328.10" stroke="#ebebeb" stroke-width="0.6" />
<line x1="91.10" y1="211.90" x2="91.10" y2="328.10" stroke="#ebebeb" stroke-width="0.6" />
<line x1="125.90" y1="211.90" x2="125.90" y2="328.10" stroke="#ebebeb" stroke-width="0.6" />
<text x="40.60" y="242.80" font-size="5.3" text-anchor="end" font-weight="normal" font-style="normal" fill="#444" >20000</text>
<line x1="41.60" y1="240.90" x2="43.20" y2="240.90" stroke="#555" stroke-width="0.5" />
<text x="40.60" y="283.10" font-size="5.3" text-anchor="end" font-weight="normal" font-style="normal" fill="#444" >10000</text>
<line x1="41.60" y1="281.20" x2="43.20" y2="281.20" stroke="#555" stroke-width="0.5" />
<text x="40.60" y="323.50" font-size="5.3" text-anchor="end" font-weight="normal" font-style="normal" fill="#444" >0</text>
<line x1="41.60" y1="321.60" x2="43.20" y2="321.60" stroke="#555" stroke-width="0.5" />
<line x1="56.40" y1="279.50" x2="56.40" y2="302.20" stroke="#444" stroke-width="0.7" />
<line x1="56.40" y1="318.10" x2="56.40" y2="319.80" stroke="#444" stroke-width="0.7" />
<rect x="46.00" y="302.20" width="20.80" height="15.90" fill="#ec2a2e" stroke="#3a3a3a" stroke-width="0.7" />
<line x1="46.00" y1="315.70" x2="66.80" y2="315.70" stroke="#333" stroke-width="1.2" />
<line x1="91.10" y1="274.10" x2="91.10" y2="293.30" stroke="#444" stroke-width="0.7" />
<line x1="91.10" y1="317.90" x2="91.10" y2="320.60" stroke="#444" stroke-width="0.7" />
<rect x="80.70" y="293.30" width="20.80" height="24.60" fill="#2e7ab8" stroke="#3a3a3a" stroke-width="0.7" />
<line x1="80.70" y1="305.20" x2="101.50" y2="305.20" stroke="#333" stroke-width="1.2" />
<line x1="125.90" y1="281.40" x2="125.90" y2="298.20" stroke="#444" stroke-width="0.7" />
<line x1="125.90" y1="310.60" x2="125.90" y2="320.60" stroke="#444" stroke-width="0.7" />
<rect x="115.50" y="298.20" width="20.80" height="12.40" fill="#35b04b" stroke="#3a3a3a" stroke-width="0.7" />
<line x1="115.50" y1="306.20" x2="136.30" y2="306.20" stroke="#333" stroke-width="1.2" />
<line x1="56.40" y1="229.00" x2="125.90" y2="229.00" stroke="#666" stroke-width="1.15" />
<text x="91.35" y="228.87" font-size="9.5" text-anchor="middle" font-weight="normal" font-style="normal" fill="#333" >**</text>
<line x1="56.40" y1="241.20" x2="91.10" y2="241.20" stroke="#666" stroke-width="1.15" />
<text x="73.95" y="242.77" font-size="9.5" text-anchor="middle" font-weight="normal" font-style="normal" fill="#333" >*</text>
<rect x="43.2" y="211.9" width="95.39999999999999" height="116.20000000000002" fill="none" stroke="#3a3a3a" stroke-width="1.05"/>
<text x="58.40" y="339.00" font-size="9" text-anchor="middle" font-weight="normal" font-style="normal" fill="#222" >D1</text>
<line x1="56.40" y1="328.10" x2="56.40" y2="329.70" stroke="#555" stroke-width="0.5" />
<text x="93.00" y="339.00" font-size="9" text-anchor="middle" font-weight="normal" font-style="normal" fill="#222" >D3</text>
<line x1="91.10" y1="328.10" x2="91.10" y2="329.70" stroke="#555" stroke-width="0.5" />
<text x="126.90" y="339.00" font-size="9" text-anchor="middle" font-weight="normal" font-style="normal" fill="#222" >D6</text>
<line x1="125.90" y1="328.10" x2="125.90" y2="329.70" stroke="#555" stroke-width="0.5" />
<rect x="157.20" y="190.90" width="98.00" height="14.80" fill="#d9d9db" stroke="none" stroke-width="0" />
<text x="206.20" y="202.40" font-size="8.4" text-anchor="middle" font-weight="normal" font-style="italic" fill="#1a1a1a" >Aquabacterium</text>
<line x1="158.40" y1="222.90" x2="254.50" y2="222.90" stroke="#ebebeb" stroke-width="0.6" />
<line x1="158.40" y1="248.20" x2="254.50" y2="248.20" stroke="#ebebeb" stroke-width="0.6" />
<line x1="158.40" y1="273.20" x2="254.50" y2="273.20" stroke="#ebebeb" stroke-width="0.6" />
<line x1="158.40" y1="298.30" x2="254.50" y2="298.30" stroke="#ebebeb" stroke-width="0.6" />
<line x1="158.40" y1="322.90" x2="254.50" y2="322.90" stroke="#ebebeb" stroke-width="0.6" />
<line x1="172.40" y1="210.60" x2="172.40" y2="328.00" stroke="#ebebeb" stroke-width="0.6" />
<line x1="206.60" y1="210.60" x2="206.60" y2="328.00" stroke="#ebebeb" stroke-width="0.6" />
<line x1="240.50" y1="210.60" x2="240.50" y2="328.00" stroke="#ebebeb" stroke-width="0.6" />
<text x="155.80" y="224.80" font-size="5.3" text-anchor="end" font-weight="normal" font-style="normal" fill="#444" >4000</text>
<line x1="156.80" y1="222.90" x2="158.40" y2="222.90" stroke="#555" stroke-width="0.5" />
<text x="155.80" y="250.10" font-size="5.3" text-anchor="end" font-weight="normal" font-style="normal" fill="#444" >3000</text>
<line x1="156.80" y1="248.20" x2="158.40" y2="248.20" stroke="#555" stroke-width="0.5" />
<text x="155.80" y="275.10" font-size="5.3" text-anchor="end" font-weight="normal" font-style="normal" fill="#444" >2000</text>
<line x1="156.80" y1="273.20" x2="158.40" y2="273.20" stroke="#555" stroke-width="0.5" />
<text x="155.80" y="300.20" font-size="5.3" text-anchor="end" font-weight="normal" font-style="normal" fill="#444" >1000</text>
<line x1="156.80" y1="298.30" x2="158.40" y2="298.30" stroke="#555" stroke-width="0.5" />
<text x="155.80" y="324.80" font-size="5.3" text-anchor="end" font-weight="normal" font-style="normal" fill="#444" >0</text>
<line x1="156.80" y1="322.90" x2="158.40" y2="322.90" stroke="#555" stroke-width="0.5" />
<line x1="172.15" y1="312.90" x2="172.15" y2="318.00" stroke="#444" stroke-width="0.7" />
<line x1="172.15" y1="322.20" x2="172.15" y2="322.90" stroke="#444" stroke-width="0.7" />
<rect x="161.50" y="318.00" width="21.30" height="4.20" fill="#ec2a2e" stroke="#3a3a3a" stroke-width="0.7" />
<line x1="161.50" y1="320.50" x2="182.80" y2="320.50" stroke="#333" stroke-width="1.2" />
<line x1="206.35" y1="290.90" x2="206.35" y2="309.30" stroke="#444" stroke-width="0.7" />
<line x1="206.35" y1="321.50" x2="206.35" y2="323.00" stroke="#444" stroke-width="0.7" />
<rect x="195.70" y="309.30" width="21.30" height="12.20" fill="#2e7ab8" stroke="#3a3a3a" stroke-width="0.7" />
<line x1="195.70" y1="316.10" x2="217.00" y2="316.10" stroke="#333" stroke-width="1.2" />
<line x1="240.80" y1="299.50" x2="240.80" y2="310.70" stroke="#444" stroke-width="0.7" />
<line x1="240.80" y1="318.50" x2="240.80" y2="322.20" stroke="#444" stroke-width="0.7" />
<rect x="230.40" y="310.70" width="20.80" height="7.80" fill="#35b04b" stroke="#3a3a3a" stroke-width="0.7" />
<line x1="230.40" y1="313.20" x2="251.20" y2="313.20" stroke="#333" stroke-width="1.2" />
<line x1="172.40" y1="223.70" x2="240.50" y2="223.70" stroke="#666" stroke-width="1.15" />
<text x="206.65" y="223.57" font-size="9.5" text-anchor="middle" font-weight="normal" font-style="normal" fill="#333" >***</text>
<line x1="172.40" y1="235.40" x2="206.60" y2="235.40" stroke="#666" stroke-width="1.15" />
<text x="189.70" y="236.27" font-size="9.5" text-anchor="middle" font-weight="normal" font-style="normal" fill="#333" >**</text>
<rect x="158.4" y="210.6" width="96.1" height="117.4" fill="none" stroke="#3a3a3a" stroke-width="1.05"/>
<text x="173.00" y="339.00" font-size="9" text-anchor="middle" font-weight="normal" font-style="normal" fill="#222" >D1</text>
<line x1="172.40" y1="328.00" x2="172.40" y2="329.60" stroke="#555" stroke-width="0.5" />
<text x="207.50" y="339.00" font-size="9" text-anchor="middle" font-weight="normal" font-style="normal" fill="#222" >D3</text>
<line x1="206.60" y1="328.00" x2="206.60" y2="329.60" stroke="#555" stroke-width="0.5" />
<text x="241.60" y="339.00" font-size="9" text-anchor="middle" font-weight="normal" font-style="normal" fill="#222" >D6</text>
<line x1="240.50" y1="328.00" x2="240.50" y2="329.60" stroke="#555" stroke-width="0.5" />
<rect x="272.80" y="190.90" width="98.10" height="14.80" fill="#d9d9db" stroke="none" stroke-width="0" />
<text x="321.85" y="202.40" font-size="8.4" text-anchor="middle" font-weight="normal" font-style="italic" fill="#1a1a1a" >Actinophytocola</text>
<line x1="273.40" y1="216.10" x2="370.20" y2="216.10" stroke="#ebebeb" stroke-width="0.6" />
<line x1="273.40" y1="243.00" x2="370.20" y2="243.00" stroke="#ebebeb" stroke-width="0.6" />
<line x1="273.40" y1="269.70" x2="370.20" y2="269.70" stroke="#ebebeb" stroke-width="0.6" />
<line x1="273.40" y1="296.60" x2="370.20" y2="296.60" stroke="#ebebeb" stroke-width="0.6" />
<line x1="273.40" y1="323.50" x2="370.20" y2="323.50" stroke="#ebebeb" stroke-width="0.6" />
<line x1="287.70" y1="210.60" x2="287.70" y2="328.80" stroke="#ebebeb" stroke-width="0.6" />
<line x1="321.40" y1="210.60" x2="321.40" y2="328.80" stroke="#ebebeb" stroke-width="0.6" />
<line x1="355.00" y1="210.60" x2="355.00" y2="328.80" stroke="#ebebeb" stroke-width="0.6" />
<text x="270.80" y="218.00" font-size="5.3" text-anchor="end" font-weight="normal" font-style="normal" fill="#444" >20000</text>
<line x1="271.80" y1="216.10" x2="273.40" y2="216.10" stroke="#555" stroke-width="0.5" />
<text x="270.80" y="244.90" font-size="5.3" text-anchor="end" font-weight="normal" font-style="normal" fill="#444" >15000</text>
<line x1="271.80" y1="243.00" x2="273.40" y2="243.00" stroke="#555" stroke-width="0.5" />
<text x="270.80" y="271.60" font-size="5.3" text-anchor="end" font-weight="normal" font-style="normal" fill="#444" >10000</text>
<line x1="271.80" y1="269.70" x2="273.40" y2="269.70" stroke="#555" stroke-width="0.5" />
<text x="270.80" y="298.50" font-size="5.3" text-anchor="end" font-weight="normal" font-style="normal" fill="#444" >5000</text>
<line x1="271.80" y1="296.60" x2="273.40" y2="296.60" stroke="#555" stroke-width="0.5" />
<text x="270.80" y="325.40" font-size="5.3" text-anchor="end" font-weight="normal" font-style="normal" fill="#444" >0</text>
<line x1="271.80" y1="323.50" x2="273.40" y2="323.50" stroke="#555" stroke-width="0.5" />
<line x1="287.50" y1="263.40" x2="287.50" y2="285.10" stroke="#444" stroke-width="0.7" />
<line x1="287.50" y1="319.60" x2="287.50" y2="322.80" stroke="#444" stroke-width="0.7" />
<rect x="277.20" y="285.10" width="20.60" height="34.50" fill="#ec2a2e" stroke="#3a3a3a" stroke-width="0.7" />
<line x1="277.20" y1="313.90" x2="297.80" y2="313.90" stroke="#333" stroke-width="1.2" />
<line x1="321.10" y1="298.40" x2="321.10" y2="311.00" stroke="#444" stroke-width="0.7" />
<line x1="321.10" y1="320.90" x2="321.10" y2="322.80" stroke="#444" stroke-width="0.7" />
<rect x="310.90" y="311.00" width="20.40" height="9.90" fill="#2e7ab8" stroke="#3a3a3a" stroke-width="0.7" />
<line x1="310.90" y1="319.60" x2="331.30" y2="319.60" stroke="#333" stroke-width="1.2" />
<line x1="354.70" y1="309.90" x2="354.70" y2="316.10" stroke="#444" stroke-width="0.7" />
<line x1="354.70" y1="320.90" x2="354.70" y2="322.80" stroke="#444" stroke-width="0.7" />
<rect x="344.60" y="316.10" width="20.20" height="4.80" fill="#35b04b" stroke="#3a3a3a" stroke-width="0.7" />
<line x1="344.60" y1="319.40" x2="364.80" y2="319.40" stroke="#333" stroke-width="1.2" />
<line x1="287.70" y1="223.50" x2="355.00" y2="223.50" stroke="#666" stroke-width="1.15" />
<text x="321.55" y="223.57" font-size="9.5" text-anchor="middle" font-weight="normal" font-style="normal" fill="#333" >***</text>
<line x1="287.70" y1="235.40" x2="321.40" y2="235.40" stroke="#666" stroke-width="1.15" />
<text x="304.75" y="236.37" font-size="9.5" text-anchor="middle" font-weight="normal" font-style="normal" fill="#333" >**</text>
<rect x="273.4" y="210.6" width="96.80000000000001" height="118.20000000000002" fill="none" stroke="#3a3a3a" stroke-width="1.05"/>
<text x="288.00" y="339.00" font-size="9" text-anchor="middle" font-weight="normal" font-style="normal" fill="#222" >D1</text>
<line x1="287.70" y1="328.80" x2="287.70" y2="330.40" stroke="#555" stroke-width="0.5" />
<text x="322.50" y="339.00" font-size="9" text-anchor="middle" font-weight="normal" font-style="normal" fill="#222" >D3</text>
<line x1="321.40" y1="328.80" x2="321.40" y2="330.40" stroke="#555" stroke-width="0.5" />
<text x="356.00" y="339.00" font-size="9" text-anchor="middle" font-weight="normal" font-style="normal" fill="#222" >D6</text>
<line x1="355.00" y1="328.80" x2="355.00" y2="330.40" stroke="#555" stroke-width="0.5" />
<text x="21.40" y="264.40" font-size="8.2" text-anchor="middle" font-weight="normal" font-style="normal" fill="#222" transform="rotate(-90 21.4 264.4)">Relative abundance (TPM)</text>
<text x="410.30" y="198.60" font-size="11.5" text-anchor="start" font-weight="normal" font-style="normal" fill="#222" >d</text>
<text x="417.20" y="324.40" font-size="5.3" text-anchor="end" font-weight="normal" font-style="normal" fill="#444" >0.0</text>
<line x1="418.10" y1="322.50" x2="419.60" y2="322.50" stroke="#555" stroke-width="0.5" />
<text x="417.20" y="284.50" font-size="5.3" text-anchor="end" font-weight="normal" font-style="normal" fill="#444" >1.0</text>
<line x1="418.10" y1="282.60" x2="419.60" y2="282.60" stroke="#555" stroke-width="0.5" />
<text x="417.20" y="244.50" font-size="5.3" text-anchor="end" font-weight="normal" font-style="normal" fill="#444" >2.0</text>
<line x1="418.10" y1="242.60" x2="419.60" y2="242.60" stroke="#555" stroke-width="0.5" />
<text x="403.10" y="273.30" font-size="8" text-anchor="middle" font-weight="normal" font-style="normal" fill="#222" transform="rotate(-90 403.1 273.3)">Copies of ARGs per cell</text>
<line x1="435.90" y1="254.00" x2="435.90" y2="293.20" stroke="#a8a8a8" stroke-width="0.8" />
<rect x="425.20" y="293.20" width="21.40" height="29.30" fill="#a51f2e" stroke="#444" stroke-width="0.7" />
<line x1="425.20" y1="315.80" x2="446.60" y2="315.80" stroke="#333" stroke-width="1.1" />
<line x1="435.90" y1="328.00" x2="435.90" y2="329.60" stroke="#555" stroke-width="0.5" />
<line x1="471.15" y1="268.80" x2="471.15" y2="285.50" stroke="#444" stroke-width="0.8" />
<line x1="471.15" y1="302.00" x2="471.15" y2="322.50" stroke="#444" stroke-width="0.8" />
<rect x="460.40" y="285.50" width="21.50" height="16.50" fill="#4aa9dd" stroke="#444" stroke-width="0.7" />
<line x1="460.40" y1="294.30" x2="481.90" y2="294.30" stroke="#333" stroke-width="1.1" />
<line x1="471.15" y1="328.00" x2="471.15" y2="329.60" stroke="#555" stroke-width="0.5" />
<line x1="506.70" y1="267.30" x2="506.70" y2="270.30" stroke="#444" stroke-width="0.8" />
<line x1="506.70" y1="284.00" x2="506.70" y2="300.20" stroke="#444" stroke-width="0.8" />
<rect x="496.30" y="270.30" width="20.80" height="13.70" fill="#e39a2d" stroke="#444" stroke-width="0.7" />
<line x1="496.30" y1="279.70" x2="517.10" y2="279.70" stroke="#333" stroke-width="1.1" />
<line x1="506.70" y1="328.00" x2="506.70" y2="329.60" stroke="#555" stroke-width="0.5" />
<text x="436.00" y="251.30" font-size="6.6" text-anchor="middle" font-weight="bold" font-style="normal" fill="#222" >a</text>
<text x="471.40" y="225.30" font-size="6.6" text-anchor="middle" font-weight="bold" font-style="normal" fill="#222" >b</text>
<text x="506.60" y="239.90" font-size="6.6" text-anchor="middle" font-weight="bold" font-style="normal" fill="#222" >c</text>
<rect x="419.6" y="210.7" width="103.39999999999998" height="117.30000000000001" fill="none" stroke="#444" stroke-width="0.9"/>
<text x="440.10" y="337.50" font-size="8.4" text-anchor="end" font-weight="normal" font-style="italic" fill="#222" transform="rotate(-30 440.1 337.5)">Actinophytocola</text>
<text x="475.00" y="336.50" font-size="8.4" text-anchor="end" font-weight="normal" font-style="italic" fill="#222" transform="rotate(-30 475.0 336.5)">Aquabacterium</text>
<text x="508.20" y="336.50" font-size="8.4" text-anchor="end" font-weight="normal" font-style="italic" fill="#222" transform="rotate(-30 508.2 336.5)">Xanthobacter</text>
<text x="580.30" y="198.60" font-size="12" text-anchor="start" font-weight="normal" font-style="normal" fill="#222" >e</text>
<rect x="587.30" y="206.60" width="16.10" height="6.17" fill="#f7b779" stroke="none" stroke-width="0" />
<rect x="604.30" y="206.60" width="16.10" height="6.17" fill="#b8d8e6" stroke="none" stroke-width="0" />
<rect x="621.10" y="206.60" width="16.10" height="6.17" fill="#4a74b4" stroke="none" stroke-width="0" />
<text x="583.90" y="212.00" font-size="6.7" text-anchor="end" font-weight="normal" font-style="normal" fill="#222" >Aminoglycoside</text>
<rect x="587.30" y="213.27" width="16.10" height="6.17" fill="#dfefe6" stroke="none" stroke-width="0" />
<rect x="604.30" y="213.27" width="16.10" height="6.17" fill="#e0553f" stroke="none" stroke-width="0" />
<rect x="621.10" y="213.27" width="16.10" height="6.17" fill="#d63a2c" stroke="none" stroke-width="0" />
<text x="583.90" y="218.67" font-size="6.7" text-anchor="end" font-weight="normal" font-style="normal" fill="#222" >Bacitracin</text>
<rect x="587.30" y="219.94" width="16.10" height="6.17" fill="#4a74b4" stroke="none" stroke-width="0" />
<rect x="604.30" y="219.94" width="16.10" height="6.17" fill="#f7e3a0" stroke="none" stroke-width="0" />
<rect x="621.10" y="219.94" width="16.10" height="6.17" fill="#ddeee6" stroke="none" stroke-width="0" />
<text x="583.90" y="225.34" font-size="6.7" text-anchor="end" font-weight="normal" font-style="normal" fill="#222" >Beta_lactam</text>
<rect x="587.30" y="226.61" width="16.10" height="6.17" fill="#f7d48e" stroke="none" stroke-width="0" />
<rect x="604.30" y="226.61" width="16.10" height="6.17" fill="#4a74b4" stroke="none" stroke-width="0" />
<rect x="621.10" y="226.61" width="16.10" height="6.17" fill="#4a74b4" stroke="none" stroke-width="0" />
<text x="583.90" y="232.01" font-size="6.7" text-anchor="end" font-weight="normal" font-style="normal" fill="#222" >Carbomycin</text>
<rect x="587.30" y="233.28" width="16.10" height="6.17" fill="#f5eaa8" stroke="none" stroke-width="0" />
<rect x="604.30" y="233.28" width="16.10" height="6.17" fill="#4a74b4" stroke="none" stroke-width="0" />
<rect x="621.10" y="233.28" width="16.10" height="6.17" fill="#4a74b4" stroke="none" stroke-width="0" />
<text x="583.90" y="238.68" font-size="6.7" text-anchor="end" font-weight="normal" font-style="normal" fill="#222" >Chloramphenicol</text>
<rect x="587.30" y="239.95" width="16.10" height="6.17" fill="#4a74b4" stroke="none" stroke-width="0" />
<rect x="604.30" y="239.95" width="16.10" height="6.17" fill="#4a74b4" stroke="none" stroke-width="0" />
<rect x="621.10" y="239.95" width="16.10" height="6.17" fill="#f7e3a0" stroke="none" stroke-width="0" />
<text x="583.90" y="245.35" font-size="6.7" text-anchor="end" font-weight="normal" font-style="normal" fill="#222" >Fosfomycin</text>
<rect x="587.30" y="246.62" width="16.10" height="6.17" fill="#4a74b4" stroke="none" stroke-width="0" />
<rect x="604.30" y="246.62" width="16.10" height="6.17" fill="#f7d48e" stroke="none" stroke-width="0" />
<rect x="621.10" y="246.62" width="16.10" height="6.17" fill="#f59c6c" stroke="none" stroke-width="0" />
<text x="583.90" y="252.02" font-size="6.7" text-anchor="end" font-weight="normal" font-style="normal" fill="#222" >Fosmidomycin</text>
<rect x="587.30" y="253.29" width="16.10" height="6.17" fill="#4a74b4" stroke="none" stroke-width="0" />
<rect x="604.30" y="253.29" width="16.10" height="6.17" fill="#7fb3d4" stroke="none" stroke-width="0" />
<rect x="621.10" y="253.29" width="16.10" height="6.17" fill="#4a74b4" stroke="none" stroke-width="0" />
<text x="583.90" y="258.69" font-size="6.7" text-anchor="end" font-weight="normal" font-style="normal" fill="#222" >Kasugamycin</text>
<rect x="587.30" y="259.96" width="16.10" height="6.17" fill="#f7f0b0" stroke="none" stroke-width="0" />
<rect x="604.30" y="259.96" width="16.10" height="6.17" fill="#f59c6c" stroke="none" stroke-width="0" />
<rect x="621.10" y="259.96" width="16.10" height="6.17" fill="#f7a876" stroke="none" stroke-width="0" />
<text x="583.90" y="265.36" font-size="6.7" text-anchor="end" font-weight="normal" font-style="normal" fill="#222" >MLS</text>
<rect x="587.30" y="266.63" width="16.10" height="6.17" fill="#f7f0b8" stroke="none" stroke-width="0" />
<rect x="604.30" y="266.63" width="16.10" height="6.17" fill="#dc4a3a" stroke="none" stroke-width="0" />
<rect x="621.10" y="266.63" width="16.10" height="6.17" fill="#e5624a" stroke="none" stroke-width="0" />
<text x="583.90" y="272.03" font-size="6.7" text-anchor="end" font-weight="normal" font-style="normal" fill="#222" >Multidrug</text>
<rect x="587.30" y="273.30" width="16.10" height="6.17" fill="#4a74b4" stroke="none" stroke-width="0" />
<rect x="604.30" y="273.30" width="16.10" height="6.17" fill="#6b9bc7" stroke="none" stroke-width="0" />
<rect x="621.10" y="273.30" width="16.10" height="6.17" fill="#4a74b4" stroke="none" stroke-width="0" />
<text x="583.90" y="278.70" font-size="6.7" text-anchor="end" font-weight="normal" font-style="normal" fill="#222" >Polymyxin</text>
<rect x="587.30" y="279.97" width="16.10" height="6.17" fill="#eaf2d4" stroke="none" stroke-width="0" />
<rect x="604.30" y="279.97" width="16.10" height="6.17" fill="#eef3d0" stroke="none" stroke-width="0" />
<rect x="621.10" y="279.97" width="16.10" height="6.17" fill="#5f8fc3" stroke="none" stroke-width="0" />
<text x="583.90" y="285.37" font-size="6.7" text-anchor="end" font-weight="normal" font-style="normal" fill="#222" >Quinolone</text>
<rect x="587.30" y="286.64" width="16.10" height="6.17" fill="#f7a876" stroke="none" stroke-width="0" />
<rect x="604.30" y="286.64" width="16.10" height="6.17" fill="#f2f2c2" stroke="none" stroke-width="0" />
<rect x="621.10" y="286.64" width="16.10" height="6.17" fill="#5f8fc3" stroke="none" stroke-width="0" />
<text x="583.90" y="292.04" font-size="6.7" text-anchor="end" font-weight="normal" font-style="normal" fill="#222" >Rifamycin</text>
<rect x="587.30" y="293.31" width="16.10" height="6.17" fill="#4a74b4" stroke="none" stroke-width="0" />
<rect x="604.30" y="293.31" width="16.10" height="6.17" fill="#8fbcd6" stroke="none" stroke-width="0" />
<rect x="621.10" y="293.31" width="16.10" height="6.17" fill="#f5845a" stroke="none" stroke-width="0" />
<text x="583.90" y="298.71" font-size="6.7" text-anchor="end" font-weight="normal" font-style="normal" fill="#222" >Sulfonamide</text>
<rect x="587.30" y="299.98" width="16.10" height="6.17" fill="#f7b67f" stroke="none" stroke-width="0" />
<rect x="604.30" y="299.98" width="16.10" height="6.17" fill="#6f9ccb" stroke="none" stroke-width="0" />
<rect x="621.10" y="299.98" width="16.10" height="6.17" fill="#4a74b4" stroke="none" stroke-width="0" />
<text x="583.90" y="305.38" font-size="6.7" text-anchor="end" font-weight="normal" font-style="normal" fill="#222" >Tetracycline</text>
<rect x="587.30" y="306.65" width="16.10" height="6.17" fill="#4a74b4" stroke="none" stroke-width="0" />
<rect x="604.30" y="306.65" width="16.10" height="6.17" fill="#f5f0b0" stroke="none" stroke-width="0" />
<rect x="621.10" y="306.65" width="16.10" height="6.17" fill="#4a74b4" stroke="none" stroke-width="0" />
<text x="583.90" y="312.05" font-size="6.7" text-anchor="end" font-weight="normal" font-style="normal" fill="#222" >Trimethoprim</text>
<rect x="587.30" y="313.32" width="16.10" height="6.17" fill="#5f8fc3" stroke="none" stroke-width="0" />
<rect x="604.30" y="313.32" width="16.10" height="6.17" fill="#f7e3a0" stroke="none" stroke-width="0" />
<rect x="621.10" y="313.32" width="16.10" height="6.17" fill="#f7c88a" stroke="none" stroke-width="0" />
<text x="583.90" y="318.72" font-size="6.7" text-anchor="end" font-weight="normal" font-style="normal" fill="#222" >Unclassified</text>
<rect x="587.30" y="319.99" width="16.10" height="6.17" fill="#e0553f" stroke="none" stroke-width="0" />
<rect x="604.30" y="319.99" width="16.10" height="6.17" fill="#4a74b4" stroke="none" stroke-width="0" />
<rect x="621.10" y="319.99" width="16.10" height="6.17" fill="#e5f3dc" stroke="none" stroke-width="0" />
<text x="583.90" y="325.39" font-size="6.7" text-anchor="end" font-weight="normal" font-style="normal" fill="#222" >Vancomycin</text>
<circle cx="645.40" cy="209.69" r="3.35" fill="#a8232f" />
<circle cx="645.40" cy="216.35" r="3.35" fill="#a8232f" />
<circle cx="645.40" cy="229.69" r="3.35" fill="#a8232f" />
<circle cx="645.40" cy="236.37" r="3.35" fill="#a8232f" />
<circle cx="645.40" cy="243.03" r="3.35" fill="#a8232f" />
<circle cx="645.40" cy="249.71" r="3.35" fill="#a8232f" />
<circle cx="645.40" cy="263.04" r="3.35" fill="#a8232f" />
<circle cx="645.40" cy="269.71" r="3.35" fill="#a8232f" />
<circle cx="645.40" cy="289.72" r="3.35" fill="#a8232f" />
<circle cx="645.40" cy="296.39" r="3.35" fill="#a8232f" />
<circle cx="645.40" cy="303.06" r="3.35" fill="#a8232f" />
<circle cx="645.40" cy="316.40" r="3.35" fill="#a8232f" />
<circle cx="645.40" cy="323.07" r="3.35" fill="#a8232f" />
<rect x="586.5" y="206.1" width="67.1" height="121.1" fill="none" stroke="#333" stroke-width="0.9"/>
<text x="601.50" y="333.30" font-size="8.5" text-anchor="end" font-weight="normal" font-style="italic" fill="#222" transform="rotate(-27 601.5 333.3)">Actinophytocola</text>
<text x="619.40" y="334.50" font-size="8.5" text-anchor="end" font-weight="normal" font-style="italic" fill="#222" transform="rotate(-27 619.4 334.5)">Aquabacterium</text>
<text x="633.10" y="334.50" font-size="8.5" text-anchor="end" font-weight="normal" font-style="italic" fill="#222" transform="rotate(-27 633.1 334.5)">Xanthobacter</text>
<text x="672.30" y="263.50" font-size="4.4" text-anchor="middle" font-weight="normal" font-style="normal" fill="#333" >Copies of</text>
<text x="672.30" y="268.70" font-size="4.4" text-anchor="middle" font-weight="normal" font-style="normal" fill="#333" >ARGs per cell</text>
<defs><linearGradient id="cb" x1="0" y1="0" x2="0" y2="1"><stop offset="0" stop-color="#d73027"/><stop offset="0.2" stop-color="#f46d43"/><stop offset="0.35" stop-color="#fdae61"/><stop offset="0.5" stop-color="#fee090"/><stop offset="0.62" stop-color="#ffffbf"/><stop offset="0.72" stop-color="#e0f3f8"/><stop offset="0.85" stop-color="#91bfdb"/><stop offset="1" stop-color="#4575b4"/></linearGradient></defs>
<rect x="666.30" y="271.70" width="6.40" height="55.30" fill="url(#cb)" stroke="none" stroke-width="0" />
<line x1="666.30" y1="281.50" x2="667.60" y2="281.50" stroke="#fff" stroke-width="0.5" />
<line x1="671.40" y1="281.50" x2="672.70" y2="281.50" stroke="#fff" stroke-width="0.5" />
<text x="674.50" y="282.80" font-size="3.8" text-anchor="start" font-weight="normal" font-style="normal" fill="#555" >0.1</text>
<line x1="666.30" y1="296.00" x2="667.60" y2="296.00" stroke="#fff" stroke-width="0.5" />
<line x1="671.40" y1="296.00" x2="672.70" y2="296.00" stroke="#fff" stroke-width="0.5" />
<text x="674.50" y="297.30" font-size="3.8" text-anchor="start" font-weight="normal" font-style="normal" fill="#555" >0.01</text>
<line x1="666.30" y1="309.80" x2="667.60" y2="309.80" stroke="#fff" stroke-width="0.5" />
<line x1="671.40" y1="309.80" x2="672.70" y2="309.80" stroke="#fff" stroke-width="0.5" />
<text x="674.50" y="311.10" font-size="3.8" text-anchor="start" font-weight="normal" font-style="normal" fill="#555" >0.001</text>
<line x1="666.30" y1="325.00" x2="667.60" y2="325.00" stroke="#fff" stroke-width="0.5" />
<line x1="671.40" y1="325.00" x2="672.70" y2="325.00" stroke="#fff" stroke-width="0.5" />
<text x="674.50" y="326.30" font-size="3.8" text-anchor="start" font-weight="normal" font-style="normal" fill="#555" >0.00</text>
</svg></body></html>
